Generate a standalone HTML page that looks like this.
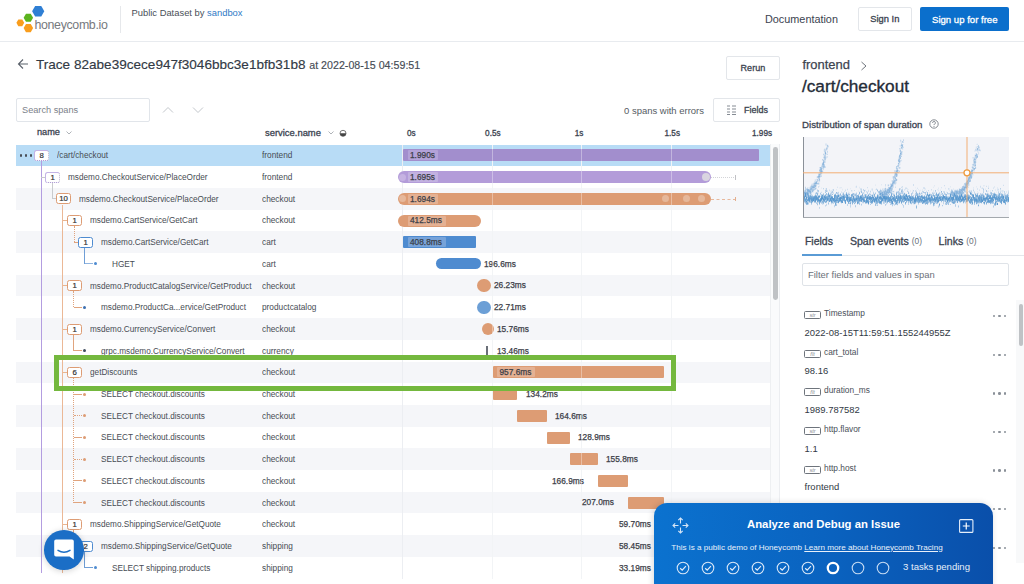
<!DOCTYPE html><html><head><meta charset="utf-8"><style>
*{box-sizing:border-box}
html,body{margin:0;padding:0}
body{width:1024px;height:584px;overflow:hidden;background:#fff;position:relative;font-family:"Liberation Sans",sans-serif;color:#3b4350}
.a{position:absolute;white-space:nowrap}
.t{position:absolute;white-space:nowrap;line-height:1}
.btn{position:absolute;border:1px solid #e3e6ea;border-radius:2px;background:#fff}
.row{position:absolute;left:16.25px;width:754px}
.badge{position:absolute;height:11px;width:14.4px;border:1px solid;border-radius:2.5px;background:#fff;font-size:7.8px;line-height:9.4px;text-align:center;color:#333;-webkit-text-stroke:0.2px #333}
.nm{position:absolute;font-size:9.2px;color:#474c54;line-height:1;transform:scaleX(0.893);transform-origin:0 0}
.sv{position:absolute;left:262px;font-size:9.2px;color:#474c54;line-height:1;transform:scaleX(0.902);transform-origin:0 0}
.bar{position:absolute;height:12px;border-radius:1px}
.lbl{position:absolute;font-size:8.3px;color:#3c4048;line-height:1;-webkit-text-stroke:0.25px #3c4048}
.m{-webkit-text-stroke:0.3px currentColor}
.lbox{position:absolute;height:10px;border-radius:1px}
</style></head><body>
<div class="a" style="left:0;top:41px;width:1024px;height:1px;background:#e8ebef"></div>
<svg class="a" style="left:0;top:0" width="120" height="41" viewBox="0 0 120 41"><polygon points="44.30,11.20 41.25,16.48 35.15,16.48 32.10,11.20 35.15,5.92 41.25,5.92" fill="#2f7fd4"/><polygon points="33.10,17.75 30.73,21.86 25.98,21.86 23.60,17.75 25.97,13.64 30.73,13.64" fill="#5cb31e"/><polygon points="24.20,22.80 22.25,26.18 18.35,26.18 16.40,22.80 18.35,19.42 22.25,19.42" fill="#f99d1c"/><polygon points="33.10,28.05 30.73,32.16 25.98,32.16 23.60,28.05 25.97,23.94 30.73,23.94" fill="#f99d1c"/></svg>
<div class="t" style="left:34.5px;top:19px;font-size:12.4px;color:#76797e;letter-spacing:-0.35px">honeycomb.io</div>
<div class="a" style="left:120px;top:6px;width:1px;height:27px;background:#e6e8eb"></div>
<div class="t" style="left:131.5px;top:8px;font-size:9.4px;color:#4a5059">Public Dataset by <span style="color:#2f7ac6">sandbox</span></div>
<div class="t" style="left:765px;top:14px;font-size:10.85px;color:#3b4350">Documentation</div>
<div class="btn" style="left:858px;top:7px;width:54px;height:24px"></div>
<div class="t m" style="left:870.3px;top:14.6px;font-size:9.35px;color:#3b4350">Sign In</div>
<div class="a" style="left:920px;top:7px;width:89px;height:24px;background:#0b6fcc;border-radius:2px"></div>
<div class="t m" style="left:932px;top:14.6px;font-size:9.58px;color:#fff">Sign up for free</div>
<svg class="a" style="left:17px;top:58px" width="12" height="12" viewBox="0 0 12 12"><path d="M11 6H1.5M6 1.5L1.5 6L6 10.5" stroke="#5b626b" stroke-width="1.1" fill="none"/></svg>
<div class="t" style="left:36px;top:57.6px;font-size:13.57px;color:#323a45;-webkit-text-stroke:0.15px #323a45">Trace 82abe39cece947f3046bbc3e1bfb31b8 <span style="font-size:10.68px;color:#4a5059">at 2022-08-15 04:59:51</span></div>
<div class="btn" style="left:726px;top:56px;width:54px;height:24px"></div>
<div class="t m" style="left:740.6px;top:63.8px;font-size:9.04px;color:#3b4350">Rerun</div>
<div class="btn" style="left:16px;top:98px;width:133.5px;height:24px;border-color:#e1e5ea"></div>
<div class="t" style="left:22px;top:105.5px;font-size:9.2px;color:#7b818a">Search spans</div>
<svg class="a" style="left:162px;top:106px" width="12" height="8" viewBox="0 0 12 8"><path d="M1 6.5L6 1.5L11 6.5" stroke="#c3c7cc" stroke-width="1" fill="none"/></svg>
<svg class="a" style="left:192px;top:106px" width="12" height="8" viewBox="0 0 12 8"><path d="M1 1.5L6 6.5L11 1.5" stroke="#c3c7cc" stroke-width="1" fill="none"/></svg>
<div class="t" style="left:624px;top:105.5px;font-size:9.47px;color:#555b63">0 spans with errors</div>
<div class="btn" style="left:712.5px;top:98px;width:67.5px;height:24px"></div>
<svg class="a" style="left:727px;top:105px" width="9" height="10" viewBox="0 0 9 10"><g fill="#858b93"><rect x="0" y="0.5" width="3" height="1"/><rect x="5" y="0.5" width="4" height="1"/><rect x="0" y="3.5" width="3" height="1"/><rect x="5" y="3.5" width="4" height="1"/><rect x="0" y="6.5" width="3" height="1"/><rect x="5" y="6.5" width="4" height="1"/><rect x="0" y="9" width="3" height="1"/><rect x="5" y="9" width="4" height="1"/></g></svg>
<div class="t m" style="left:744px;top:105.8px;font-size:9.0px;color:#3b4350">Fields</div>
<div class="t m" style="left:37px;top:128px;font-size:9.2px;color:#3b4350">name</div>
<svg class="a" style="left:66px;top:131px" width="6" height="4" viewBox="0 0 6 4"><path d="M0.5 0.5L3 3L5.5 0.5" stroke="#9aa0a6" stroke-width="0.8" fill="none"/></svg>
<div class="t m" style="left:265px;top:127.8px;font-size:9.42px;color:#3b4350">service.name</div>
<svg class="a" style="left:328px;top:131px" width="6" height="4" viewBox="0 0 6 4"><path d="M0.5 0.5L3 3L5.5 0.5" stroke="#9aa0a6" stroke-width="0.8" fill="none"/></svg>
<svg class="a" style="left:339px;top:129px" width="8" height="8" viewBox="0 0 8 8"><circle cx="4" cy="4.3" r="3" fill="none" stroke="#555" stroke-width="0.8"/><path d="M1 4.3A3 3 0 0 0 7 4.3Z" fill="#444"/></svg>
<div class="t m" style="left:407.0px;top:130px;font-size:8.2px;color:#3b4350">0s</div>
<div class="t m" style="left:485.1px;top:130px;font-size:8.2px;color:#3b4350">0.5s</div>
<div class="t m" style="left:574.8px;top:130px;font-size:8.2px;color:#3b4350">1s</div>
<div class="t m" style="left:664.5px;top:130px;font-size:8.2px;color:#3b4350">1.5s</div>
<div class="t m" style="left:752px;top:130px;font-size:8.2px;color:#3b4350">1.99s</div>
<div class="a" style="left:16.25px;top:144.60px;width:754px;height:21.70px;background:#b8dcf6"></div>
<div class="a" style="left:16.25px;top:188.00px;width:754px;height:21.70px;background:#f5f6f9"></div>
<div class="a" style="left:16.25px;top:231.40px;width:754px;height:21.70px;background:#f5f6f9"></div>
<div class="a" style="left:16.25px;top:274.80px;width:754px;height:21.70px;background:#f5f6f9"></div>
<div class="a" style="left:16.25px;top:318.20px;width:754px;height:21.70px;background:#f5f6f9"></div>
<div class="a" style="left:16.25px;top:361.60px;width:754px;height:21.70px;background:#f5f6f9"></div>
<div class="a" style="left:16.25px;top:405.00px;width:754px;height:21.70px;background:#f5f6f9"></div>
<div class="a" style="left:16.25px;top:448.40px;width:754px;height:21.70px;background:#f5f6f9"></div>
<div class="a" style="left:16.25px;top:491.80px;width:754px;height:21.70px;background:#f5f6f9"></div>
<div class="a" style="left:16.25px;top:535.20px;width:754px;height:21.70px;background:#f5f6f9"></div>
<div class="a" style="left:402.00px;top:144.60px;width:1px;height:434.00px;background:#eceef2"></div>
<div class="a" style="left:491.65px;top:144.60px;width:1px;height:434.00px;background:#eceef2"></div>
<div class="a" style="left:581.30px;top:144.60px;width:1px;height:434.00px;background:#eceef2"></div>
<div class="a" style="left:670.95px;top:144.60px;width:1px;height:434.00px;background:#eceef2"></div>
<div class="a" style="left:40.75px;top:161.00px;width:1px;height:411.50px;background:#b39de0"></div>
<div class="a" style="left:41.25px;top:176.65px;width:3.75px;height:1px;background:#c7c9cc"></div>
<div class="a" style="left:51.75px;top:182.50px;width:1px;height:16.35px;background:#c9cbce"></div>
<div class="a" style="left:52.25px;top:198.35px;width:4.00px;height:1px;background:#c9cbce"></div>
<div class="a" style="left:62.40px;top:204.50px;width:1.1px;height:368.00px;background:#ebb896"></div>
<div class="a" style="left:62.90px;top:220.05px;width:4.10px;height:1px;background:#eab58f"></div>
<div class="a" style="left:62.90px;top:285.15px;width:4.10px;height:1px;background:#eab58f"></div>
<div class="a" style="left:62.90px;top:328.55px;width:4.10px;height:1px;background:#eab58f"></div>
<div class="a" style="left:62.90px;top:371.95px;width:4.10px;height:1px;background:#eab58f"></div>
<div class="a" style="left:62.90px;top:523.85px;width:4.10px;height:1px;background:#eab58f"></div>
<div class="a" style="left:73.50px;top:226.25px;width:0;height:16.00px;border-left:1px dotted #e0a47e"></div>
<div class="a" style="left:74.00px;top:241.75px;width:3.50px;height:1px;background:#e0a47e"></div>
<div class="a" style="left:84.00px;top:248.00px;width:1px;height:15.95px;background:#6f9ed6"></div>
<div class="a" style="left:84.50px;top:263.45px;width:8.50px;height:1px;background:#8fb4e0"></div>
<div class="a" style="left:73.00px;top:290.95px;width:0;height:16.40px;border-left:1px dotted #e0a47e"></div>
<div class="a" style="left:73.50px;top:306.85px;width:8.50px;height:1px;background:#e0a47e"></div>
<div class="a" style="left:73.00px;top:334.35px;width:1px;height:16.40px;background:#e0a47e"></div>
<div class="a" style="left:73.50px;top:350.25px;width:8.50px;height:1px;background:#e0a47e"></div>
<div class="a" style="left:73.00px;top:377.75px;width:0;height:124.90px;border-left:1px dotted #e0a47e"></div>
<div class="a" style="left:73.50px;top:393.65px;width:8.50px;height:1px;background:#e0a47e"></div>
<div class="a" style="left:73.50px;top:415.35px;width:8.50px;height:0;border-top:1px dotted #e0a47e"></div>
<div class="a" style="left:73.50px;top:437.05px;width:8.50px;height:1px;background:#e0a47e"></div>
<div class="a" style="left:73.50px;top:458.75px;width:8.50px;height:0;border-top:1px dotted #e0a47e"></div>
<div class="a" style="left:73.50px;top:480.45px;width:8.50px;height:1px;background:#e0a47e"></div>
<div class="a" style="left:73.50px;top:502.15px;width:8.50px;height:1px;background:#e0a47e"></div>
<div class="a" style="left:73.00px;top:529.65px;width:1px;height:16.40px;background:#e0a47e"></div>
<div class="a" style="left:73.50px;top:545.55px;width:4.00px;height:1px;background:#e0a47e"></div>
<div class="a" style="left:84.00px;top:551.35px;width:1px;height:16.40px;background:#6f9ed6"></div>
<div class="a" style="left:84.50px;top:567.25px;width:8.50px;height:1px;background:#6f9ed6"></div>
<div class="badge" style="left:34.40px;top:149.95px;border-color:#c4b4e6;border-right:1px dotted #b9b0cc;border-bottom:1px dotted #a58fd0">8</div>
<div class="nm" style="left:56.90px;top:151.35px">/cart/checkout</div>
<div class="sv" style="top:151.35px">frontend</div>
<div class="badge" style="left:45.40px;top:171.65px;border-color:#c4b4e6;border-right:1px dotted #b9b0cc;border-bottom:1px dotted #a58fd0">1</div>
<div class="nm" style="left:67.90px;top:173.05px">msdemo.CheckoutService/PlaceOrder</div>
<div class="sv" style="top:173.05px">frontend</div>
<div class="badge" style="left:56.40px;top:193.35px;border-color:#dd9c74;border-style:solid">10</div>
<div class="nm" style="left:78.90px;top:194.75px">msdemo.CheckoutService/PlaceOrder</div>
<div class="sv" style="top:194.75px">checkout</div>
<div class="badge" style="left:67.40px;top:215.05px;border-color:#dd9c74;border-style:solid">1</div>
<div class="nm" style="left:89.90px;top:216.45px">msdemo.CartService/GetCart</div>
<div class="sv" style="top:216.45px">checkout</div>
<div class="badge" style="left:78.40px;top:236.75px;border-color:#4e8bd0;border-style:solid">1</div>
<div class="nm" style="left:100.90px;top:238.15px">msdemo.CartService/GetCart</div>
<div class="sv" style="top:238.15px">cart</div>
<div class="a" style="left:94.40px;top:262.45px;width:3px;height:3px;border-radius:50%;background:#4e8bd0"></div>
<div class="nm" style="left:111.90px;top:259.85px">HGET</div>
<div class="sv" style="top:259.85px">cart</div>
<div class="badge" style="left:67.40px;top:280.15px;border-color:#dd9c74;border-style:solid">1</div>
<div class="nm" style="left:89.90px;top:281.55px">msdemo.ProductCatalogService/GetProduct</div>
<div class="sv" style="top:281.55px">checkout</div>
<div class="a" style="left:83.40px;top:305.85px;width:3px;height:3px;border-radius:50%;background:#3d6fb0"></div>
<div class="nm" style="left:100.90px;top:303.25px">msdemo.ProductCa...ervice/GetProduct</div>
<div class="sv" style="top:303.25px">productcatalog</div>
<div class="badge" style="left:67.40px;top:323.55px;border-color:#dd9c74;border-style:solid">1</div>
<div class="nm" style="left:89.90px;top:324.95px">msdemo.CurrencyService/Convert</div>
<div class="sv" style="top:324.95px">checkout</div>
<div class="a" style="left:83.40px;top:349.25px;width:3px;height:3px;border-radius:50%;background:#3e4a5e"></div>
<div class="nm" style="left:100.90px;top:346.65px">grpc.msdemo.CurrencyService/Convert</div>
<div class="sv" style="top:346.65px">currency</div>
<div class="badge" style="left:67.40px;top:366.95px;border-color:#dd9c74;border-style:solid">6</div>
<div class="nm" style="left:89.90px;top:368.35px">getDiscounts</div>
<div class="sv" style="top:368.35px">checkout</div>
<div class="a" style="left:83.40px;top:392.65px;width:3px;height:3px;border-radius:50%;background:#dd9c74"></div>
<div class="nm" style="left:100.90px;top:390.05px">SELECT checkout.discounts</div>
<div class="sv" style="top:390.05px">checkout</div>
<div class="a" style="left:83.40px;top:414.35px;width:3px;height:3px;border-radius:50%;background:#dd9c74"></div>
<div class="nm" style="left:100.90px;top:411.75px">SELECT checkout.discounts</div>
<div class="sv" style="top:411.75px">checkout</div>
<div class="a" style="left:83.40px;top:436.05px;width:3px;height:3px;border-radius:50%;background:#dd9c74"></div>
<div class="nm" style="left:100.90px;top:433.45px">SELECT checkout.discounts</div>
<div class="sv" style="top:433.45px">checkout</div>
<div class="a" style="left:83.40px;top:457.75px;width:3px;height:3px;border-radius:50%;background:#dd9c74"></div>
<div class="nm" style="left:100.90px;top:455.15px">SELECT checkout.discounts</div>
<div class="sv" style="top:455.15px">checkout</div>
<div class="a" style="left:83.40px;top:479.45px;width:3px;height:3px;border-radius:50%;background:#dd9c74"></div>
<div class="nm" style="left:100.90px;top:476.85px">SELECT checkout.discounts</div>
<div class="sv" style="top:476.85px">checkout</div>
<div class="a" style="left:83.40px;top:501.15px;width:3px;height:3px;border-radius:50%;background:#dd9c74"></div>
<div class="nm" style="left:100.90px;top:498.55px">SELECT checkout.discounts</div>
<div class="sv" style="top:498.55px">checkout</div>
<div class="badge" style="left:67.40px;top:518.85px;border-color:#dd9c74;border-style:solid">1</div>
<div class="nm" style="left:89.90px;top:520.25px">msdemo.ShippingService/GetQuote</div>
<div class="sv" style="top:520.25px">checkout</div>
<div class="badge" style="left:78.40px;top:540.55px;border-color:#4e8bd0;border-style:solid">2</div>
<div class="nm" style="left:100.90px;top:541.95px">msdemo.ShippingService/GetQuote</div>
<div class="sv" style="top:541.95px">shipping</div>
<div class="a" style="left:94.40px;top:566.25px;width:3px;height:3px;border-radius:50%;background:#4e8bd0"></div>
<div class="nm" style="left:111.90px;top:563.65px">SELECT shipping.products</div>
<div class="sv" style="top:563.65px">shipping</div>
<div class="a" style="left:19.60px;top:154.35px;width:2.2px;height:2.2px;border-radius:50%;background:#4a4f57"></div>
<div class="a" style="left:24.80px;top:154.35px;width:2.2px;height:2.2px;border-radius:50%;background:#4a4f57"></div>
<div class="a" style="left:30.00px;top:154.35px;width:2.2px;height:2.2px;border-radius:50%;background:#4a4f57"></div>
<div class="bar" style="left:402.50px;top:149.45px;width:356.25px;height:12px;background:#a28ecd;border-radius:1px"></div>
<div class="lbox" style="left:407.50px;top:150.45px;width:30.00px;background:#b3a2d8"></div>
<div class="lbl" style="left:410.00px;top:151.25px">1.990s</div>
<div class="bar" style="left:398.00px;top:171.15px;width:313.00px;height:12px;background:#b39cd9;border-radius:6.0px"></div>
<div class="lbox" style="left:407.50px;top:172.15px;width:30.00px;background:#c2b1e0"></div>
<div class="lbl" style="left:410.00px;top:172.95px">1.695s</div>
<div class="a" style="left:711px;top:176.85px;width:24.6px;height:0;border-top:1px dotted #d3d4d8"></div>
<div class="a" style="left:735px;top:175.15px;width:0.8px;height:4.5px;background:#c0c1c5"></div>
<div class="a" style="left:701.5px;top:173.15px;width:8px;height:8px;border-radius:50%;background:#d9d4e0"></div>
<div class="bar" style="left:398.00px;top:192.85px;width:313.00px;height:12px;background:#dd9c74;border-radius:6.0px"></div>
<div class="lbox" style="left:407.50px;top:193.85px;width:30.00px;background:#e4b193"></div>
<div class="lbl" style="left:410.00px;top:194.65px">1.694s</div>
<div class="a" style="left:711px;top:198.55px;width:24.6px;height:0;border-top:1px dashed #e7b89c"></div>
<div class="a" style="left:735px;top:196.85px;width:0.8px;height:4.5px;background:#e3ae8e"></div>
<div class="a" style="left:662.00px;top:195.35px;width:7px;height:7px;border-radius:50%;background:#e6b89b"></div>
<div class="a" style="left:683.00px;top:195.35px;width:7px;height:7px;border-radius:50%;background:#e6b89b"></div>
<div class="a" style="left:698.00px;top:195.35px;width:7px;height:7px;border-radius:50%;background:#e6b89b"></div>
<div class="a" style="left:399px;top:195.35px;width:7px;height:7px;border-radius:50%;background:#e6b89b"></div>
<div class="a" style="left:399px;top:173.65px;width:7px;height:7px;border-radius:50%;background:#c6b3e2"></div>
<div class="bar" style="left:398.00px;top:214.55px;width:83.00px;height:12px;background:#dd9c74;border-radius:6.0px"></div>
<div class="lbox" style="left:407.50px;top:215.55px;width:38.00px;background:#e4b193"></div>
<div class="lbl" style="left:410.00px;top:216.35px">412.5ms</div>
<div class="bar" style="left:402.50px;top:236.25px;width:73.50px;height:12px;background:#4e8bd0;border-radius:1px"></div>
<div class="lbox" style="left:407.50px;top:237.25px;width:38.00px;background:#77a3d9"></div>
<div class="lbl" style="left:410.00px;top:238.05px">408.8ms</div>
<div class="bar" style="left:436.00px;top:258.45px;width:45.00px;height:11px;background:#4e8bd0;border-radius:5.5px"></div>
<div class="lbl" style="left:484.00px;top:259.75px">196.6ms</div>
<div class="bar" style="left:476.50px;top:279.15px;width:14.50px;height:13px;background:#dd9c74;border-radius:6.5px"></div>
<div class="lbl" style="left:494.00px;top:281.45px">26.23ms</div>
<div class="bar" style="left:477.00px;top:300.85px;width:14.00px;height:13px;background:#6c9fd6;border-radius:6.5px"></div>
<div class="lbl" style="left:494.00px;top:303.15px">22.71ms</div>
<div class="bar" style="left:482.00px;top:323.05px;width:12.00px;height:12px;background:#dd9c74;border-radius:6.0px"></div>
<div class="lbl" style="left:497.00px;top:324.85px">15.76ms</div>
<div class="a" style="left:486px;top:345.75px;width:1.6px;height:10px;background:#6a6f78"></div>
<div class="lbl" style="left:497.00px;top:346.55px">13.46ms</div>
<div class="bar" style="left:493.30px;top:366.45px;width:171.10px;height:12px;background:#dd9c74;border-radius:1px"></div>
<div class="lbox" style="left:497.00px;top:367.45px;width:38.00px;background:#e4b193"></div>
<div class="lbl" style="left:499.50px;top:368.25px">957.6ms</div>
<div class="bar" style="left:493.30px;top:388.15px;width:23.80px;height:12px;background:#dd9c74;border-radius:1px"></div>
<div class="lbl" style="left:526.00px;top:389.95px">134.2ms</div>
<div class="bar" style="left:517.10px;top:409.85px;width:29.70px;height:12px;background:#dd9c74;border-radius:1px"></div>
<div class="lbl" style="left:555.00px;top:411.65px">164.6ms</div>
<div class="bar" style="left:546.80px;top:431.55px;width:23.30px;height:12px;background:#dd9c74;border-radius:1px"></div>
<div class="lbl" style="left:578.00px;top:433.35px">128.9ms</div>
<div class="bar" style="left:570.10px;top:453.25px;width:27.70px;height:12px;background:#dd9c74;border-radius:1px"></div>
<div class="lbl" style="left:606.00px;top:455.05px">155.8ms</div>
<div class="bar" style="left:597.80px;top:474.95px;width:29.90px;height:12px;background:#dd9c74;border-radius:1px"></div>
<div class="lbl" style="left:552.00px;top:476.75px">166.9ms</div>
<div class="bar" style="left:627.70px;top:496.65px;width:36.70px;height:12px;background:#dd9c74;border-radius:1px"></div>
<div class="lbl" style="left:582.00px;top:498.45px">207.0ms</div>
<div class="bar" style="left:663.00px;top:518.35px;width:37.00px;height:12px;background:#dd9c74;border-radius:1px"></div>
<div class="lbl" style="left:619.00px;top:520.15px">59.70ms</div>
<div class="bar" style="left:663.00px;top:540.05px;width:37.00px;height:12px;background:#4e8bd0;border-radius:1px"></div>
<div class="lbl" style="left:619.00px;top:541.85px">58.45ms</div>
<div class="bar" style="left:663.00px;top:561.75px;width:27.00px;height:12px;background:#4e8bd0;border-radius:1px"></div>
<div class="lbl" style="left:619.00px;top:563.55px">33.19ms</div>
<div class="a" style="left:491.65px;top:144.60px;width:0;height:434.00px;background:rgba(255,255,255,0.35);width:1px"></div>
<div class="a" style="left:581.30px;top:144.60px;width:0;height:434.00px;background:rgba(255,255,255,0.35);width:1px"></div>
<div class="a" style="left:670.95px;top:144.60px;width:0;height:434.00px;background:rgba(255,255,255,0.35);width:1px"></div>
<div class="a" style="left:770.2px;top:144.4px;width:10px;height:440px;background:#fafbfc;border-left:1px solid #eef0f2;border-right:1px solid #eceef1"></div>
<div class="a" style="left:772.9px;top:147px;width:4.8px;height:153px;background:#bfc2c5;border-radius:2.4px"></div>
<div class="t m" style="left:802.4px;top:58.8px;font-size:12.95px;color:#3d4450;-webkit-text-stroke:0.25px #3d4450">frontend</div>
<svg class="a" style="left:860px;top:61px" width="8" height="10" viewBox="0 0 8 10"><path d="M1.5 1L6 5L1.5 9" stroke="#6f757d" stroke-width="1" fill="none"/></svg>
<div class="t" style="left:802px;top:77.6px;font-size:17.2px;color:#232b37;-webkit-text-stroke:0.35px #232b37">/cart/checkout</div>
<div class="t m" style="left:802px;top:120px;font-size:9.69px;color:#3b4350">Distribution of span duration</div>
<svg class="a" style="left:929px;top:118.5px" width="10" height="10" viewBox="0 0 10 10"><circle cx="5" cy="5" r="4.2" fill="none" stroke="#6a7079" stroke-width="0.8"/><path d="M3.6 3.9A1.4 1.4 0 1 1 5.4 5.2C5 5.4 5 5.7 5 6.1" stroke="#6a7079" stroke-width="0.8" fill="none"/><circle cx="5" cy="7.4" r="0.5" fill="#6a7079"/></svg>
<svg class="a" style="left:802.6px;top:137px" width="206.3" height="81" viewBox="0 0 206.3 81"><rect x="0" y="0" width="206.3" height="81" fill="#f3f4f8"/><path fill="#4f92cc" fill-opacity="0.1" d="M0.0 53.0h1.0v1.2468770512708776h-1.0zM1.0 58.7h1.0v1.5969826465696095h-1.0zM2.0 56.0h1.0v1.3819552764096281h-1.0zM3.0 57.1h1.0v1.3689817558781108h-1.0zM5.0 51.9h1.0v1.3557926482086193h-1.0zM6.0 58.3h1.0v0.9569159108265486h-1.0zM7.0 48.7h1.0v1.4093022311464054h-1.0zM8.0 59.4h1.0v1.3285497221632425h-1.0zM10.0 54.4h1.0v1.2112455505009694h-1.0zM10.0 52.3h1.0v0.8652662441461235h-1.0zM11.0 60.4h1.0v0.9726381695226833h-1.0zM12.0 57.5h1.0v1.4702326957951217h-1.0zM12.0 51.3h1.0v1.3871531778317054h-1.0zM13.0 45.7h1.0v0.9194228860037192h-1.0zM15.0 55.9h1.0v1.3132971634054176h-1.0zM16.0 48.5h1.0v1.4573423581636584h-1.0zM16.0 57.7h1.0v0.9093132077391839h-1.0zM17.0 55.0h1.0v1.9666893462742903h-1.0zM18.0 50.5h1.0v1.3703650640810523h-1.0zM19.0 58.8h1.0v1.5321179734526265h-1.0zM19.0 58.1h1.0v1.3820632852646328h-1.0zM22.0 51.2h1.0v1.6975724536648205h-1.0zM23.0 58.5h1.0v1.4998325186445856h-1.0zM23.0 63.7h1.0v1.2466843561470717h-1.0zM25.0 58.2h1.0v1.7657763373149464h-1.0zM25.0 57.6h1.0v1.161938349544856h-1.0zM27.0 53.5h1.0v1.753971044705315h-1.0zM31.0 58.7h1.0v1.8100674755324007h-1.0zM32.0 56.4h1.0v1.6841423158051585h-1.0zM32.0 58.7h1.0v1.0391746325870896h-1.0zM33.0 51.9h1.0v1.4454566529342303h-1.0zM33.0 59.5h1.0v1.6572680908045707h-1.0zM34.0 57.4h1.0v1.115834505212851h-1.0zM35.0 54.5h1.0v1.9939104029697767h-1.0zM35.0 63.7h1.0v1.9548628538063155h-1.0zM36.0 50.5h1.0v1.1117696997071231h-1.0zM36.0 57.1h1.0v1.2801583443267686h-1.0zM38.0 49.9h1.0v1.225695402475537h-1.0zM39.0 51.8h1.0v1.7500092196570787h-1.0zM42.0 56.5h1.0v0.8410889862639643h-1.0zM43.0 56.7h1.0v1.6632212421505725h-1.0zM44.0 58.4h1.0v0.9738878336520965h-1.0zM45.0 54.5h1.0v1.8687349695015414h-1.0zM46.0 58.5h1.0v1.2829895506468882h-1.0zM46.0 55.2h1.0v1.3919223342005052h-1.0zM47.0 58.3h1.0v1.906585634826863h-1.0zM47.0 51.2h1.0v1.1086324422244185h-1.0zM48.0 52.9h1.0v1.0861489546974363h-1.0zM49.0 53.2h1.0v1.3019156254391224h-1.0zM50.0 56.5h1.0v1.8943776524866272h-1.0zM52.0 49.6h1.0v0.923437488234339h-1.0zM53.0 57.7h1.0v0.8642638086516835h-1.0zM55.0 53.6h1.0v1.1239134784175753h-1.0zM55.0 57.8h1.0v1.15460510900832h-1.0zM56.0 55.2h1.0v1.2769921061045744h-1.0zM56.0 49.7h1.0v1.8473135318285188h-1.0zM58.0 52.1h1.0v1.7793952510798525h-1.0zM60.0 59.5h1.0v1.9754497583184658h-1.0zM60.0 55.2h1.0v1.6621589087082764h-1.0zM61.0 55.1h1.0v1.035555505183348h-1.0zM62.0 58.2h1.0v1.731365446904324h-1.0zM63.0 54.8h1.0v0.8479982430505424h-1.0zM64.0 57.9h1.0v1.1373988317906076h-1.0zM67.0 60.9h1.0v1.0872556453143545h-1.0zM68.0 51.4h1.0v0.8752612689616687h-1.0zM68.0 51.7h1.0v1.8847992365785096h-1.0zM70.0 56.3h1.0v1.475640086607115h-1.0zM70.0 59.0h1.0v0.8690654462965414h-1.0zM72.0 47.4h1.0v1.2720993032682748h-1.0zM72.0 52.2h1.0v1.1735083689747854h-1.0zM73.0 51.3h1.0v1.7516505103884514h-1.0zM74.0 57.0h1.0v1.9097338325980189h-1.0zM75.0 59.0h1.0v1.9074653449139618h-1.0zM78.0 52.7h1.0v1.977613761152535h-1.0zM78.0 46.9h1.0v1.723041921263422h-1.0zM79.0 55.8h1.0v1.8583415836304453h-1.0zM80.0 54.4h1.0v1.0357359484620507h-1.0zM80.0 51.3h1.0v1.235131838326525h-1.0zM82.0 49.2h1.0v1.4287180471853147h-1.0zM83.0 59.5h1.0v0.8692815982454247h-1.0zM84.0 47.5h1.0v1.7084437798705756h-1.0zM85.0 56.0h1.0v1.2027065886508654h-1.0zM86.0 54.2h1.0v1.6518493287304865h-1.0zM86.0 50.8h1.0v1.0403192531147352h-1.0zM87.0 59.8h1.0v1.0482891158720726h-1.0zM87.0 61.2h1.0v1.3587958344391156h-1.0zM88.0 58.4h1.0v1.0377872746984917h-1.0zM88.0 54.5h1.0v1.6146881973866258h-1.0zM90.0 59.0h1.0v1.1245629418133487h-1.0zM90.0 53.8h1.0v1.4820489037227715h-1.0zM91.0 55.6h1.0v1.2047542898322803h-1.0zM91.0 53.8h1.0v0.8494671244761328h-1.0zM94.0 59.0h1.0v1.9862609261863307h-1.0zM95.0 58.4h1.0v1.2364670636497352h-1.0zM95.0 52.7h1.0v0.8683754432965862h-1.0zM96.0 56.8h1.0v1.7689281303649587h-1.0zM99.0 50.3h1.0v1.6112111172287893h-1.0zM101.0 59.9h1.0v1.6634149821022994h-1.0zM103.0 56.3h1.0v1.7140290087541152h-1.0zM104.0 54.0h1.0v1.1155460391162928h-1.0zM104.0 51.1h1.0v1.9477702209694618h-1.0zM105.0 51.9h1.0v0.9128371544585376h-1.0zM105.0 54.1h1.0v1.819675828945862h-1.0zM106.0 55.5h1.0v1.2587505200032936h-1.0zM107.0 58.8h1.0v1.731643879122442h-1.0zM107.0 53.2h1.0v1.5773527223977921h-1.0zM109.0 52.7h1.0v0.8777589049567429h-1.0zM109.0 53.9h1.0v1.1219920741249578h-1.0zM110.0 55.7h1.0v0.9124804145517349h-1.0zM111.0 57.3h1.0v1.0159673348921832h-1.0zM112.0 50.4h1.0v0.8300312073152072h-1.0zM113.0 52.4h1.0v1.2992313666565642h-1.0zM113.0 53.9h1.0v1.9981722401577768h-1.0zM114.0 56.4h1.0v1.8785243766477473h-1.0zM115.0 52.0h1.0v1.2378885578593368h-1.0zM116.0 53.3h1.0v1.8195840507675378h-1.0zM117.0 52.8h1.0v1.0260721469388232h-1.0zM118.0 57.9h1.0v1.5376638340264834h-1.0zM119.0 52.3h1.0v1.6022376881261673h-1.0zM120.0 54.0h1.0v1.0029356143443695h-1.0zM121.0 52.9h1.0v0.8676582380086737h-1.0zM122.0 59.6h1.0v1.6050478233749574h-1.0zM122.0 51.2h1.0v1.8174516378615158h-1.0zM123.0 57.9h1.0v1.4879217736232664h-1.0zM124.0 62.1h1.0v0.9892891798668357h-1.0zM125.0 53.4h1.0v0.8649917938621994h-1.0zM126.0 55.0h1.0v1.9958247411150223h-1.0zM128.0 61.2h1.0v0.8806333753126216h-1.0zM129.0 56.2h1.0v0.9490766230733296h-1.0zM129.0 55.3h1.0v1.1933743361379543h-1.0zM130.0 53.1h1.0v1.8312969748507557h-1.0zM130.0 49.7h1.0v0.9879490437269937h-1.0zM132.0 56.9h1.0v1.9499611388320197h-1.0zM132.0 55.0h1.0v1.6154568191930645h-1.0zM133.0 62.7h1.0v1.9652738421577918h-1.0zM134.0 61.2h1.0v1.9779853579681408h-1.0zM134.0 52.1h1.0v1.1963096623274994h-1.0zM135.0 52.4h1.0v1.9120053777162072h-1.0zM135.0 50.4h1.0v1.61385603470164h-1.0zM136.0 54.7h1.0v1.9442627760224096h-1.0zM136.0 59.9h1.0v1.5841244076359469h-1.0zM137.0 55.2h1.0v1.6040074317983088h-1.0zM137.0 52.5h1.0v1.3431510000329576h-1.0zM138.0 54.2h1.0v1.001713099142229h-1.0zM139.0 55.9h1.0v1.3247959654961936h-1.0zM139.0 55.9h1.0v1.636960812075486h-1.0zM140.0 59.9h1.0v1.9374074504318068h-1.0zM142.0 50.8h1.0v1.1462873138895162h-1.0zM142.0 51.3h1.0v1.0200415943216277h-1.0zM143.0 54.4h1.0v1.826402102550267h-1.0zM146.0 52.5h1.0v1.6425645763848666h-1.0zM146.0 51.2h1.0v1.148493870055524h-1.0zM147.0 48.9h1.0v1.6261758487276998h-1.0zM147.0 57.4h1.0v1.83491639360016h-1.0zM148.0 58.0h1.0v1.7954256760779623h-1.0zM148.0 53.9h1.0v1.7974824504001936h-1.0zM149.0 58.2h1.0v1.2522563152903405h-1.0zM150.0 56.3h1.0v0.9935020370040359h-1.0zM150.0 51.2h1.0v1.8041806915324226h-1.0zM152.0 53.6h1.0v1.9943093230493456h-1.0zM152.0 57.9h1.0v1.856753046192897h-1.0zM154.0 58.7h1.0v0.947360505707722h-1.0zM155.0 56.1h1.0v0.8768122843397529h-1.0zM156.0 61.4h1.0v0.961894309498502h-1.0zM156.0 56.6h1.0v0.8954317652346158h-1.0zM157.0 56.4h1.0v1.6196250296478572h-1.0zM157.0 55.3h1.0v1.657966401205623h-1.0zM159.0 50.8h1.0v1.4082094469855755h-1.0zM160.0 53.9h1.0v1.3430586519618215h-1.0zM160.0 59.3h1.0v1.4050226416081042h-1.0zM161.0 50.7h1.0v0.9244036658881452h-1.0zM161.0 55.0h1.0v1.2852672725194174h-1.0zM162.0 52.2h1.0v1.6459404196397962h-1.0zM162.0 58.3h1.0v1.6414356833069235h-1.0zM163.0 56.2h1.0v1.450143948502134h-1.0zM164.0 57.0h1.0v1.636679929676728h-1.0zM167.0 53.1h1.0v1.1702077911989348h-1.0zM169.0 55.3h1.0v1.161819593600747h-1.0zM170.0 49.9h1.0v1.7619979894108941h-1.0zM170.0 54.1h1.0v1.0205773567746268h-1.0zM171.0 61.6h1.0v1.1707500959806965h-1.0zM172.0 58.9h1.0v1.2481615751857567h-1.0zM173.0 55.9h1.0v1.5209393629245054h-1.0zM173.0 49.2h1.0v1.204419710860144h-1.0zM174.0 54.3h1.0v1.1302511326914817h-1.0zM175.0 55.3h1.0v1.5769766333456479h-1.0zM175.0 58.9h1.0v1.8680457042238252h-1.0zM176.0 58.5h1.0v1.9052379818324487h-1.0zM177.0 57.1h1.0v1.3331968431543224h-1.0zM178.0 50.8h1.0v1.1929529625659516h-1.0zM180.0 48.1h1.0v1.487184954087555h-1.0zM181.0 48.3h1.0v1.0155497960209505h-1.0zM182.0 51.6h1.0v1.7601962875304533h-1.0zM183.0 56.6h1.0v1.6507991002194269h-1.0zM184.0 53.9h1.0v1.9168125322894194h-1.0zM184.0 55.9h1.0v1.7048971841833216h-1.0zM185.0 53.5h1.0v1.247483279408912h-1.0zM185.0 48.6h1.0v1.5783498986966622h-1.0zM187.0 55.8h1.0v1.7488727179082544h-1.0zM187.0 53.2h1.0v1.5073538408965188h-1.0zM188.0 59.9h1.0v1.218058262152112h-1.0zM189.0 57.6h1.0v1.5109141963269033h-1.0zM189.0 57.7h1.0v1.6574777424799445h-1.0zM190.0 58.6h1.0v1.8234489482191831h-1.0zM191.0 49.5h1.0v1.6035683942016918h-1.0zM191.0 49.1h1.0v1.2838334119736494h-1.0zM192.0 52.2h1.0v1.505446997600126h-1.0zM193.0 61.0h1.0v1.9125042554824931h-1.0zM193.0 54.5h1.0v0.8985074893493025h-1.0zM194.0 50.2h1.0v1.7910042752525457h-1.0zM196.0 59.3h1.0v0.8912065674640535h-1.0zM197.0 51.4h1.0v0.8319555134240003h-1.0zM197.0 52.7h1.0v1.4894835582313362h-1.0zM198.0 53.3h1.0v1.6352933967748733h-1.0zM199.0 58.1h1.0v1.5008471570216086h-1.0zM200.0 53.3h1.0v1.3906470639782318h-1.0zM201.0 61.0h1.0v1.8003211521861162h-1.0zM202.0 59.4h1.0v1.78389700814339h-1.0zM203.0 57.7h1.0v1.1170511443265065h-1.0zM204.0 59.2h1.0v0.8150591794815354h-1.0zM206.0 54.9h1.0v0.9493292481775034h-1.0zM206.0 53.0h1.0v1.6479670748695732h-1.0z"/><path fill="#4f92cc" fill-opacity="0.2" d="M0.0 50.5h1.0v1.39569739413619h-1.0zM1.0 53.6h1.0v1.6773912015690686h-1.0zM2.0 55.0h1.0v1.3027358013503936h-1.0zM3.0 56.6h1.0v1.2168674552644418h-1.0zM4.0 51.4h1.0v1.767294301742801h-1.0zM4.0 54.8h1.0v1.4211664690922068h-1.0zM5.0 55.8h1.0v1.7609882826760292h-1.0zM6.0 53.9h1.0v1.5949697963894793h-1.0zM7.0 54.7h1.0v1.639061458616343h-1.0zM8.0 54.9h1.0v1.1822306820052328h-1.0zM9.0 61.4h1.0v1.34452822516751h-1.0zM9.0 57.8h1.0v1.993167068538643h-1.0zM11.0 58.5h1.0v1.2727743687256647h-1.0zM13.0 55.8h1.0v1.6108491881753295h-1.0zM14.0 55.1h1.0v0.8043085660036764h-1.0zM14.0 53.5h1.0v1.67261932320035h-1.0zM15.0 48.9h1.0v1.7743547209649266h-1.0zM17.0 58.5h1.0v1.9121927284731928h-1.0zM18.0 54.8h1.0v1.1343243803883192h-1.0zM20.0 56.8h1.0v1.2561556281742086h-1.0zM20.0 56.6h1.0v0.8591088030212207h-1.0zM21.0 59.3h1.0v1.3588926877431027h-1.0zM21.0 58.5h1.0v1.7477586291823997h-1.0zM22.0 55.1h1.0v0.9595173932627497h-1.0zM24.0 53.8h1.0v1.2917467056653387h-1.0zM24.0 53.2h1.0v0.8616328207763602h-1.0zM26.0 52.6h1.0v1.590611249513477h-1.0zM26.0 52.8h1.0v0.8042097147008049h-1.0zM27.0 61.2h1.0v0.8786194518181928h-1.0zM28.0 53.4h1.0v1.1024379133548254h-1.0zM28.0 54.7h1.0v1.2508877395734035h-1.0zM29.0 52.5h1.0v0.9604720521347317h-1.0zM29.0 56.5h1.0v1.548715470687792h-1.0zM30.0 55.3h1.0v1.2958139198975407h-1.0zM30.0 55.8h1.0v1.1712589895466017h-1.0zM31.0 61.6h1.0v1.9336374744104114h-1.0zM34.0 49.7h1.0v1.0802906895630366h-1.0zM37.0 50.4h1.0v0.9468735521653874h-1.0zM37.0 58.7h1.0v1.565082571416661h-1.0zM38.0 54.6h1.0v1.1042589901348148h-1.0zM39.0 55.5h1.0v0.983206285910674h-1.0zM40.0 55.9h1.0v1.249949453107841h-1.0zM40.0 60.3h1.0v1.0166227695677363h-1.0zM41.0 60.0h1.0v1.7503413628154536h-1.0zM41.0 54.2h1.0v1.0307705073096811h-1.0zM42.0 52.4h1.0v1.7438480583668878h-1.0zM43.0 55.4h1.0v1.3667981238762474h-1.0zM44.0 51.7h1.0v1.5556480866835884h-1.0zM45.0 56.9h1.0v1.1286184189501731h-1.0zM48.0 53.3h1.0v1.2680577319038828h-1.0zM49.0 55.7h1.0v0.9868237527497414h-1.0zM50.0 56.5h1.0v0.8023076366445268h-1.0zM51.0 58.4h1.0v1.8464164048327407h-1.0zM51.0 52.9h1.0v1.0980079786722556h-1.0zM52.0 56.0h1.0v0.8212248191594945h-1.0zM53.0 48.8h1.0v1.9494331867709513h-1.0zM54.0 57.9h1.0v0.8724071317400559h-1.0zM54.0 59.0h1.0v1.91831123365528h-1.0zM57.0 51.2h1.0v1.90437419298093h-1.0zM57.0 53.4h1.0v1.446199526965548h-1.0zM58.0 51.3h1.0v1.6278646201791325h-1.0zM59.0 56.4h1.0v1.9374035315736693h-1.0zM59.0 55.3h1.0v1.7877689999418043h-1.0zM61.0 56.8h1.0v1.4659709195194424h-1.0zM62.0 52.8h1.0v0.9307535773642135h-1.0zM63.0 54.0h1.0v1.316843609792778h-1.0zM64.0 50.0h1.0v1.331068568797785h-1.0zM65.0 53.8h1.0v1.0900539041091188h-1.0zM65.0 52.7h1.0v0.9597225511298493h-1.0zM66.0 59.3h1.0v1.9905535547121593h-1.0zM66.0 59.8h1.0v1.9762600607186374h-1.0zM67.0 60.1h1.0v1.8053848311131548h-1.0zM69.0 53.3h1.0v0.9022478921435897h-1.0zM69.0 51.6h1.0v1.4658526800343528h-1.0zM71.0 62.5h1.0v1.09093970586004h-1.0zM71.0 56.6h1.0v1.0317775728755694h-1.0zM73.0 51.7h1.0v1.2354925286045875h-1.0zM74.0 53.0h1.0v1.1025411849616906h-1.0zM75.0 56.6h1.0v1.8505305410773185h-1.0zM76.0 57.0h1.0v1.5888312248712135h-1.0zM76.0 55.6h1.0v1.776144907278672h-1.0zM77.0 51.8h1.0v1.6515593341820134h-1.0zM77.0 54.4h1.0v1.9787973957643046h-1.0zM79.0 51.6h1.0v1.2970418721992352h-1.0zM81.0 51.3h1.0v1.6218211678822951h-1.0zM81.0 57.5h1.0v1.4587378978849617h-1.0zM82.0 56.0h1.0v1.0068226708691461h-1.0zM83.0 54.9h1.0v0.8009694895495472h-1.0zM84.0 56.2h1.0v1.271911676458851h-1.0zM85.0 52.9h1.0v1.4604527326614993h-1.0zM89.0 54.4h1.0v1.1997622640451477h-1.0zM89.0 54.1h1.0v1.3772490851348316h-1.0zM92.0 59.7h1.0v0.9108637510324651h-1.0zM92.0 49.5h1.0v1.3910717726294852h-1.0zM93.0 57.4h1.0v1.6063210234307395h-1.0zM93.0 54.2h1.0v1.595935499026174h-1.0zM94.0 57.8h1.0v1.1702820256323743h-1.0zM96.0 52.4h1.0v1.7910501514225377h-1.0zM97.0 55.2h1.0v1.4704938874968825h-1.0zM97.0 51.1h1.0v1.7031581229847292h-1.0zM98.0 49.8h1.0v1.2710839554650604h-1.0zM98.0 53.7h1.0v1.8459521366067464h-1.0zM99.0 49.1h1.0v1.1711024292752745h-1.0zM100.0 55.7h1.0v1.9454239454568336h-1.0zM100.0 54.3h1.0v1.2801672642556412h-1.0zM101.0 52.3h1.0v1.224688120534788h-1.0zM102.0 51.5h1.0v1.0511469365997563h-1.0zM102.0 50.4h1.0v1.031702354939713h-1.0zM103.0 50.5h1.0v1.5636542828562772h-1.0zM106.0 62.6h1.0v1.1031756173463492h-1.0zM108.0 56.5h1.0v1.5780800190825128h-1.0zM108.0 58.4h1.0v1.8798754909642534h-1.0zM110.0 47.1h1.0v1.8918158015377515h-1.0zM111.0 60.0h1.0v1.3699701888702551h-1.0zM112.0 63.5h1.0v1.0797209894581792h-1.0zM114.0 50.7h1.0v1.1040178647963557h-1.0zM115.0 57.8h1.0v1.567757557764141h-1.0zM116.0 55.2h1.0v1.4418214715623028h-1.0zM117.0 58.4h1.0v1.701526088898671h-1.0zM118.0 55.8h1.0v1.5950197061768216h-1.0zM119.0 55.3h1.0v1.3395517824730923h-1.0zM120.0 50.2h1.0v1.6494855314913301h-1.0zM121.0 50.3h1.0v1.8356702378247522h-1.0zM123.0 53.7h1.0v1.8066626487212551h-1.0zM124.0 57.1h1.0v1.1621165543045984h-1.0zM125.0 53.0h1.0v1.0597204671492353h-1.0zM126.0 56.9h1.0v1.5418525079129433h-1.0zM127.0 60.9h1.0v1.3721618207198885h-1.0zM127.0 56.6h1.0v1.942483840279864h-1.0zM128.0 51.9h1.0v1.5316602582557342h-1.0zM131.0 48.4h1.0v0.8557149542786187h-1.0zM131.0 55.3h1.0v1.713261619948884h-1.0zM133.0 55.0h1.0v1.065387059698167h-1.0zM138.0 50.3h1.0v0.9097499332442711h-1.0zM140.0 54.0h1.0v1.8160795144041788h-1.0zM141.0 54.1h1.0v1.6511012045120728h-1.0zM141.0 48.1h1.0v1.231353900607205h-1.0zM143.0 57.3h1.0v1.080008356016485h-1.0zM144.0 56.1h1.0v1.4580206777713833h-1.0zM144.0 59.7h1.0v1.9747083895801383h-1.0zM145.0 50.9h1.0v1.8120300690626192h-1.0zM145.0 51.2h1.0v1.5877988962910101h-1.0zM149.0 54.7h1.0v0.9454294396853394h-1.0zM151.0 55.0h1.0v1.353804888336446h-1.0zM151.0 58.0h1.0v1.0911785345240483h-1.0zM153.0 57.9h1.0v1.735101217544479h-1.0zM153.0 54.9h1.0v1.6457675324054106h-1.0zM154.0 54.2h1.0v1.3332121789168998h-1.0zM155.0 54.6h1.0v0.9342414149681081h-1.0zM158.0 54.2h1.0v1.83383199838985h-1.0zM158.0 55.4h1.0v1.9344858040966815h-1.0zM159.0 56.7h1.0v1.1913466249174618h-1.0zM163.0 54.4h1.0v1.255692051057176h-1.0zM164.0 57.6h1.0v1.5375836508829162h-1.0zM165.0 49.7h1.0v0.9526640493570354h-1.0zM165.0 53.9h1.0v0.8804095175231254h-1.0zM166.0 53.0h1.0v1.5920878930927334h-1.0zM166.0 53.5h1.0v1.1893881867468752h-1.0zM167.0 56.6h1.0v1.4998668469424774h-1.0zM168.0 52.9h1.0v1.2564222289873528h-1.0zM168.0 53.8h1.0v1.1896450101226643h-1.0zM169.0 58.8h1.0v1.8422971823601435h-1.0zM171.0 56.0h1.0v1.4154544135900289h-1.0zM172.0 56.7h1.0v1.310269509414117h-1.0zM174.0 51.2h1.0v1.4338428799014753h-1.0zM176.0 52.4h1.0v1.3926885626692376h-1.0zM177.0 48.8h1.0v1.849839047760298h-1.0zM178.0 57.8h1.0v1.5479491845535374h-1.0zM179.0 57.3h1.0v1.0115672735376828h-1.0zM179.0 50.5h1.0v1.6183435816187377h-1.0zM180.0 56.4h1.0v1.4339753724169775h-1.0zM181.0 60.9h1.0v1.4193844542859342h-1.0zM182.0 56.2h1.0v1.2621376764969823h-1.0zM183.0 48.8h1.0v1.2076674309738231h-1.0zM186.0 58.0h1.0v1.4337736912237493h-1.0zM186.0 60.4h1.0v1.2675463104011229h-1.0zM188.0 55.1h1.0v0.914070662209124h-1.0zM190.0 50.5h1.0v1.367162081390556h-1.0zM192.0 57.5h1.0v1.5567856979168164h-1.0zM194.0 52.3h1.0v1.086904188415179h-1.0zM195.0 51.8h1.0v1.783097760723967h-1.0zM195.0 54.1h1.0v0.8029643578627002h-1.0zM196.0 56.5h1.0v1.0403669437489935h-1.0zM198.0 56.4h1.0v1.7599307394457586h-1.0zM199.0 55.5h1.0v0.9568436202319375h-1.0zM200.0 47.7h1.0v1.3735480669302789h-1.0zM201.0 56.6h1.0v1.213654202004851h-1.0zM202.0 56.1h1.0v1.726887602108447h-1.0zM203.0 54.5h1.0v0.9125916760523753h-1.0zM204.0 59.1h1.0v1.176931722763896h-1.0zM205.0 53.6h1.0v1.0605282144199424h-1.0zM205.0 54.2h1.0v1.829970443529987h-1.0zM1.9 56.7h1.0v1.6743780981292953h-1.0zM16.1 41.7h1.0v1.216069258039758h-1.0zM5.8 52.9h1.0v1.4386787400001602h-1.0zM7.9 51.0h1.0v1.0529423978764576h-1.0zM14.5 39.7h1.0v1.2587266627019233h-1.0zM3.8 54.4h1.0v1.4636516553344658h-1.0zM0.6 55.0h1.0v1.518429816942172h-1.0zM19.1 26.1h1.0v1.9938895220923558h-1.0zM-5.2 53.8h1.0v1.578472040221067h-1.0zM-3.4 55.6h1.0v1.4078980977462157h-1.0zM6.7 52.2h1.0v1.953089658272011h-1.0zM10.1 48.1h1.0v1.4290786118943233h-1.0zM16.7 36.4h1.0v1.7996968198250824h-1.0zM9.6 51.1h1.0v1.7558084149010957h-1.0zM3.7 59.1h1.0v1.0208366454383269h-1.0zM12.7 44.1h1.0v1.8335000697351864h-1.0zM17.1 35.0h1.0v1.5124837853423077h-1.0zM17.4 32.0h1.0v1.032086353830348h-1.0zM11.3 47.1h1.0v1.8762309204571483h-1.0zM23.8 19.1h1.0v1.540192619213539h-1.0zM16.5 38.6h1.0v1.0171334027408605h-1.0zM20.1 25.6h1.0v1.9464201962644445h-1.0zM0.4 55.2h1.0v1.5808979158389218h-1.0zM-4.5 54.7h1.0v1.4815954313988535h-1.0zM4.8 52.1h1.0v1.5551480844615262h-1.0zM-0.7 56.3h1.0v1.8821284144367607h-1.0zM11.9 48.7h1.0v1.6609291398522388h-1.0zM8.2 49.5h1.0v1.1683905756295556h-1.0zM-6.3 56.9h1.0v1.0349465138965477h-1.0zM3.3 54.1h1.0v1.4436063672494126h-1.0zM8.8 53.5h1.0v1.1711562163718932h-1.0zM-2.7 55.7h1.0v1.024228612515782h-1.0zM11.3 47.9h1.0v1.2249136216989396h-1.0zM-1.7 56.3h1.0v1.0823827708435074h-1.0zM-1.1 57.7h1.0v1.4881484821898903h-1.0zM17.6 33.7h1.0v1.4458749746730986h-1.0zM8.2 46.7h1.0v1.4955007347805767h-1.0zM-0.1 55.1h1.0v1.2549946267501353h-1.0zM17.0 33.3h1.0v1.8344927543920166h-1.0zM0.9 57.2h1.0v1.4385330346456975h-1.0zM-3.2 56.0h1.0v1.0144217949872885h-1.0zM15.9 36.9h1.0v1.5420354051568603h-1.0zM-4.3 54.7h1.0v1.5890138634014894h-1.0zM0.8 53.6h1.0v1.3563755502771588h-1.0zM2.2 56.7h1.0v1.5393224049312544h-1.0zM24.0 11.5h1.0v1.0665148485001035h-1.0zM14.4 42.0h1.0v1.3302677044510753h-1.0zM1.2 57.6h1.0v1.0468424378707613h-1.0zM9.9 49.2h1.0v1.2136736695300705h-1.0zM22.1 13.3h1.0v1.0084780438551741h-1.0zM5.4 53.2h1.0v1.3280602043605967h-1.0zM2.9 55.4h1.0v1.8870694760477784h-1.0zM17.4 34.1h1.0v1.2496336492990496h-1.0zM-4.9 55.5h1.0v1.1883495066464604h-1.0zM-5.0 56.6h1.0v1.152894191226837h-1.0zM-1.2 56.7h1.0v1.8055534534296203h-1.0zM-4.7 57.8h1.0v1.5070178936157668h-1.0zM6.1 52.9h1.0v1.7030416779455584h-1.0zM16.1 32.8h1.0v1.9636594655578181h-1.0zM11.2 47.8h1.0v1.3941689284845762h-1.0zM20.2 26.3h1.0v1.678714897158973h-1.0zM8.3 54.0h1.0v1.4976735014703106h-1.0zM14.7 42.9h1.0v1.7529131963614832h-1.0zM17.2 32.0h1.0v1.132617892248062h-1.0zM18.1 36.3h1.0v1.5341752909370796h-1.0zM8.8 52.8h1.0v1.4186466340788164h-1.0zM-0.2 57.5h1.0v1.713902014288633h-1.0zM12.4 47.9h1.0v1.5517055389324899h-1.0zM10.1 50.0h1.0v1.8260436834444709h-1.0zM10.0 46.3h1.0v1.348834872013409h-1.0zM7.6 53.9h1.0v1.2054409744474253h-1.0zM6.1 54.4h1.0v1.7355149205205687h-1.0zM23.3 11.0h1.0v1.9573641756824247h-1.0zM3.8 54.6h1.0v1.3396453164148716h-1.0zM9.5 49.9h1.0v1.062451065263133h-1.0zM3.3 55.1h1.0v1.8000017373415542h-1.0zM8.7 52.0h1.0v1.6918041769090095h-1.0zM20.0 31.4h1.0v1.499406657937747h-1.0zM21.4 14.9h1.0v1.4960066159964454h-1.0zM14.5 39.4h1.0v1.6150408452516096h-1.0zM18.3 33.0h1.0v1.3289358170245242h-1.0zM-5.0 56.9h1.0v1.6958343629116224h-1.0zM3.9 51.6h1.0v1.851192889913794h-1.0zM10.3 48.8h1.0v1.9491546601406353h-1.0zM21.7 24.5h1.0v1.1773874940834448h-1.0zM0.6 57.6h1.0v1.4514258017335595h-1.0zM4.5 54.9h1.0v1.1402770391821933h-1.0zM-2.3 57.1h1.0v1.1408445248697956h-1.0zM-5.3 59.5h1.0v1.8856819256145212h-1.0zM17.3 34.8h1.0v1.432670065137945h-1.0zM18.5 34.7h1.0v1.7825696962572701h-1.0zM12.0 46.0h1.0v1.6816456667239006h-1.0zM24.1 8.0h1.0v1.4123744885641036h-1.0zM2.0 53.6h1.0v1.2910180686416375h-1.0zM3.7 54.9h1.0v1.6501028807005258h-1.0zM15.9 39.6h1.0v1.6994253221392246h-1.0zM7.8 51.7h1.0v1.2812803547094052h-1.0zM4.7 54.2h1.0v1.4692120121476744h-1.0zM21.0 13.7h1.0v1.3100610923415907h-1.0zM18.3 34.6h1.0v1.5987816801510597h-1.0zM4.4 54.3h1.0v1.6433163266177195h-1.0zM12.5 46.7h1.0v1.9070785449728995h-1.0zM8.8 48.1h1.0v1.3523536690122273h-1.0zM23.8 8.4h1.0v1.4802339959473345h-1.0zM3.8 56.2h1.0v1.4523335642295176h-1.0zM4.2 53.1h1.0v1.6698559562486988h-1.0zM2.1 53.6h1.0v1.1049716631611113h-1.0zM4.1 54.1h1.0v1.155866076727356h-1.0zM21.1 11.6h1.0v1.401995293061698h-1.0zM-2.7 57.9h1.0v1.6492852976733663h-1.0zM1.1 54.8h1.0v1.950136547688926h-1.0zM6.4 50.5h1.0v1.554416052090898h-1.0zM19.6 28.2h1.0v1.9297192000242473h-1.0zM20.6 26.8h1.0v1.8141042229455882h-1.0zM12.9 44.5h1.0v1.13628538590897h-1.0zM20.3 23.7h1.0v1.965184062376545h-1.0zM-1.5 57.0h1.0v1.9600668317906775h-1.0zM-5.2 55.3h1.0v1.0504872668924623h-1.0zM2.5 56.9h1.0v1.9456465304800443h-1.0zM19.7 23.0h1.0v1.0438415998381276h-1.0zM-6.2 55.3h1.0v1.9701514269932359h-1.0zM7.6 52.1h1.0v1.9780786902280463h-1.0zM20.0 27.6h1.0v1.3341245829273078h-1.0zM11.2 44.0h1.0v1.9890888929564547h-1.0zM-5.8 58.3h1.0v1.7596606263674883h-1.0zM9.7 53.3h1.0v1.56739133442595h-1.0zM9.1 46.5h1.0v1.391726686799692h-1.0zM-0.4 54.7h1.0v1.9952504985527915h-1.0zM6.0 53.4h1.0v1.9213196399840782h-1.0zM0.0 55.5h1.0v1.73365897454021h-1.0zM6.5 49.8h1.0v1.4163253093599604h-1.0zM21.8 15.9h1.0v1.3586224774682019h-1.0zM10.8 45.1h1.0v1.8715075395523266h-1.0zM2.1 54.4h1.0v1.8454199009352998h-1.0zM-1.2 56.3h1.0v1.224766960872444h-1.0zM88.8 51.2h1.0v1.7049468820910512h-1.0zM80.3 56.0h1.0v1.7458326840329796h-1.0zM96.6 20.3h1.0v1.9830059450870468h-1.0zM82.2 53.1h1.0v1.03976584874883h-1.0zM95.6 22.4h1.0v1.8298995839524228h-1.0zM76.7 53.1h1.0v1.0102457574114614h-1.0zM80.1 55.0h1.0v1.7316735955985751h-1.0zM87.5 53.7h1.0v1.5088989433108908h-1.0zM82.2 55.7h1.0v1.1334689195450052h-1.0zM96.4 24.2h1.0v1.3038989710372344h-1.0zM81.4 56.0h1.0v1.3284821581494977h-1.0zM97.0 15.9h1.0v1.5006353281340161h-1.0zM90.6 42.9h1.0v1.4038457603055756h-1.0zM83.0 56.7h1.0v1.4795949674826h-1.0zM95.2 27.8h1.0v1.8138250721073352h-1.0zM90.2 42.6h1.0v1.766272801626679h-1.0zM95.7 22.6h1.0v1.4285922596638185h-1.0zM79.5 56.3h1.0v1.7945628198849128h-1.0zM90.3 41.9h1.0v1.2907843184846266h-1.0zM85.7 51.2h1.0v1.6836159118405534h-1.0zM96.7 7.9h1.0v1.8297862159173364h-1.0zM84.0 55.9h1.0v1.3582868834558073h-1.0zM99.8 4.5h1.0v1.4016433674035147h-1.0zM80.7 55.9h1.0v1.443564822973289h-1.0zM91.2 38.8h1.0v1.6764945904111717h-1.0zM78.4 55.3h1.0v1.68863510034656h-1.0zM83.6 54.2h1.0v1.4896792653358264h-1.0zM83.4 56.9h1.0v1.4310224250850587h-1.0zM85.8 52.1h1.0v1.4784771910508694h-1.0zM95.2 27.6h1.0v1.2308078571612753h-1.0zM79.5 53.5h1.0v1.5306122703047664h-1.0zM93.6 37.2h1.0v1.417280994762275h-1.0zM79.9 55.9h1.0v1.1525913106707755h-1.0zM83.2 53.9h1.0v1.4673035575274076h-1.0zM92.8 33.9h1.0v1.6384209980878972h-1.0zM83.2 56.9h1.0v1.9206248870301839h-1.0zM86.2 53.3h1.0v1.2952996394942677h-1.0zM92.2 37.0h1.0v1.5854393516138066h-1.0zM98.1 9.7h1.0v1.6809153229365719h-1.0zM88.7 48.2h1.0v1.4142207790104286h-1.0zM89.5 45.9h1.0v1.4345275519866552h-1.0zM93.8 37.0h1.0v1.5660439083517976h-1.0zM86.7 52.0h1.0v1.9104441455988717h-1.0zM96.0 22.2h1.0v1.4263157358389573h-1.0zM83.6 55.0h1.0v1.9053422362080257h-1.0zM82.4 55.7h1.0v1.8962775829595842h-1.0zM82.1 55.5h1.0v1.263293837789157h-1.0zM90.0 48.2h1.0v1.8872116955346163h-1.0zM87.3 48.9h1.0v1.1635199100804154h-1.0zM88.1 48.3h1.0v1.2129957983845365h-1.0zM78.1 57.7h1.0v1.0866870028748676h-1.0zM97.3 17.5h1.0v1.0720353883899527h-1.0zM84.1 54.0h1.0v1.218205104306723h-1.0zM83.8 56.3h1.0v1.651084728349373h-1.0zM80.6 57.5h1.0v1.5616078866549978h-1.0zM79.5 54.8h1.0v1.1953073797005564h-1.0zM76.2 56.2h1.0v1.5024523691219738h-1.0zM80.0 54.4h1.0v1.3928016300110717h-1.0zM82.6 54.3h1.0v1.005025978388669h-1.0zM84.5 54.7h1.0v1.375140609323572h-1.0zM91.1 39.8h1.0v1.8724700582608458h-1.0zM77.2 57.6h1.0v1.772798849645415h-1.0zM93.1 28.9h1.0v1.6905265226669006h-1.0zM96.0 21.2h1.0v1.7789841481975426h-1.0zM94.3 32.9h1.0v1.8080867098888684h-1.0zM87.8 47.5h1.0v1.6490710767367849h-1.0zM86.5 51.5h1.0v1.4952502394835516h-1.0zM88.4 50.7h1.0v1.089175129990104h-1.0zM90.0 43.6h1.0v1.2112369646463983h-1.0zM92.9 34.8h1.0v1.2252828528999713h-1.0zM87.1 51.1h1.0v1.9903467333050822h-1.0zM98.6 7.3h1.0v1.465359757414746h-1.0zM99.3 7.0h1.0v1.2618336852181695h-1.0zM81.1 55.4h1.0v1.6005417050844846h-1.0zM91.0 36.2h1.0v1.3129865956527176h-1.0zM86.6 50.7h1.0v1.6782606140594023h-1.0zM79.2 54.7h1.0v1.060464701326962h-1.0zM97.6 4.4h1.0v1.0024488558932363h-1.0zM85.7 52.3h1.0v1.9532353377044593h-1.0zM90.6 42.8h1.0v1.853291985860503h-1.0zM80.3 52.9h1.0v1.9342180937547293h-1.0zM87.0 48.8h1.0v1.413572698631542h-1.0zM93.2 35.1h1.0v1.4479755435339388h-1.0zM83.7 53.8h1.0v1.713675358355132h-1.0zM84.5 52.0h1.0v1.765882522508707h-1.0zM97.4 16.8h1.0v1.6725166138454832h-1.0zM91.9 34.9h1.0v1.7339875453699403h-1.0zM87.4 50.7h1.0v1.3437035759827989h-1.0zM95.1 26.2h1.0v1.5799875352215478h-1.0zM81.7 51.1h1.0v1.9926205781572677h-1.0zM91.0 42.5h1.0v1.7876051737261118h-1.0zM82.0 53.6h1.0v1.465494592486133h-1.0zM89.1 47.9h1.0v1.6427542121382053h-1.0zM93.3 31.5h1.0v1.3859909640246855h-1.0zM76.7 56.0h1.0v1.9806385910073074h-1.0zM81.0 56.4h1.0v1.619004655467847h-1.0zM89.9 46.5h1.0v1.0828052765392595h-1.0zM78.0 55.8h1.0v1.4809986749390809h-1.0zM93.1 31.8h1.0v1.8120783666177496h-1.0zM85.8 54.3h1.0v1.1885706778961924h-1.0zM98.0 5.7h1.0v1.7055326650396834h-1.0zM96.4 13.4h1.0v1.1098387616869227h-1.0zM76.0 54.8h1.0v1.0384143508362493h-1.0zM90.0 45.6h1.0v1.0122710829460189h-1.0zM75.2 57.4h1.0v1.7256514720504725h-1.0zM76.2 55.7h1.0v1.84213475803414h-1.0zM79.8 54.9h1.0v1.7559164943536747h-1.0zM91.9 39.3h1.0v1.6952628582769318h-1.0zM85.1 52.9h1.0v1.9644800735429588h-1.0zM93.3 36.2h1.0v1.9153073022167395h-1.0zM96.3 18.3h1.0v1.2106082476081896h-1.0zM89.6 45.9h1.0v1.6982923116484212h-1.0zM80.8 55.5h1.0v1.1937725443761944h-1.0zM78.9 56.9h1.0v1.7910520542538517h-1.0zM91.7 46.5h1.0v1.7053227512024751h-1.0zM90.6 44.3h1.0v1.8578789070817936h-1.0zM91.4 39.4h1.0v1.400311416407503h-1.0zM95.7 31.0h1.0v1.1190814426526186h-1.0zM96.3 26.3h1.0v1.8982331349682524h-1.0zM80.1 56.5h1.0v1.204220836248318h-1.0zM79.1 55.2h1.0v1.0383533550685993h-1.0zM82.5 56.1h1.0v1.8110655246771263h-1.0zM89.5 44.4h1.0v1.7313774253940106h-1.0zM81.1 53.9h1.0v1.4410197896975776h-1.0zM88.2 50.7h1.0v1.7805942892841942h-1.0zM89.3 47.8h1.0v1.424927307817713h-1.0zM85.0 52.9h1.0v1.1141844016036893h-1.0zM75.1 54.6h1.0v1.7097620117001653h-1.0zM88.3 52.8h1.0v1.2635471094662833h-1.0zM86.9 51.9h1.0v1.8667350131860005h-1.0zM81.1 54.9h1.0v1.3299343816578069h-1.0zM75.8 57.1h1.0v1.5621055700874162h-1.0zM79.3 57.2h1.0v1.442986524134758h-1.0zM76.3 56.1h1.0v1.0928714861062496h-1.0zM77.3 55.1h1.0v1.6613428143332873h-1.0zM84.6 52.9h1.0v1.8338966740674063h-1.0zM88.0 48.7h1.0v1.202559479645273h-1.0zM82.7 52.8h1.0v1.2517044132052049h-1.0zM96.2 18.8h1.0v1.7725723123109618h-1.0zM82.1 54.5h1.0v1.7791531551506545h-1.0zM77.3 56.1h1.0v1.6740401033857935h-1.0zM90.2 46.1h1.0v1.3467407685249349h-1.0zM94.0 34.7h1.0v1.21230911664792h-1.0zM78.8 54.4h1.0v1.2598595997962123h-1.0zM96.0 23.9h1.0v1.2240288085513655h-1.0zM84.5 53.4h1.0v1.6128052389862675h-1.0zM99.6 9.8h1.0v1.2738154440878686h-1.0zM87.8 52.1h1.0v1.5436740842634746h-1.0zM156.9 52.4h1.0v1.8518196544863392h-1.0zM153.9 57.7h1.0v1.5429040293507899h-1.0zM175.1 15.5h1.0v1.9268057657608058h-1.0zM169.2 32.8h1.0v1.0655105227427941h-1.0zM151.3 53.5h1.0v1.1540603799719777h-1.0zM174.2 12.6h1.0v1.79352048934487h-1.0zM152.6 55.1h1.0v1.4360532798992085h-1.0zM148.9 55.7h1.0v1.5526171261995316h-1.0zM152.2 58.3h1.0v1.906254606940884h-1.0zM151.0 57.3h1.0v1.8828354466131576h-1.0zM161.1 51.1h1.0v1.1114671015822624h-1.0zM152.6 55.7h1.0v1.8123445158078169h-1.0zM155.6 53.6h1.0v1.9527620295002854h-1.0zM161.6 47.8h1.0v1.633816230743767h-1.0zM153.3 56.6h1.0v1.6549001284195826h-1.0zM158.6 54.2h1.0v1.8200744005864982h-1.0zM161.1 47.8h1.0v1.4960070628475775h-1.0zM164.7 45.1h1.0v1.9523868914642075h-1.0zM164.2 44.3h1.0v1.04659719651531h-1.0zM156.4 56.0h1.0v1.4253104823494418h-1.0zM149.6 54.6h1.0v1.3201252969703554h-1.0zM153.4 54.1h1.0v1.7603555570056082h-1.0zM155.1 53.9h1.0v1.2070714047040803h-1.0zM169.6 32.7h1.0v1.8906636408220414h-1.0zM170.9 33.3h1.0v1.2611763888120051h-1.0zM146.6 56.8h1.0v1.8507484142923558h-1.0zM153.5 53.8h1.0v1.9035871457884652h-1.0zM151.7 57.8h1.0v1.5831449567243991h-1.0zM159.1 50.4h1.0v1.5249133582737806h-1.0zM164.8 43.9h1.0v1.152560883162621h-1.0zM160.2 47.8h1.0v1.4303451249558228h-1.0zM171.4 13.4h1.0v1.3334001101492299h-1.0zM168.1 39.7h1.0v1.5981827722310369h-1.0zM167.0 35.9h1.0v1.533528471255643h-1.0zM159.5 49.4h1.0v1.9781394565465624h-1.0zM148.5 54.9h1.0v1.081742568925368h-1.0zM170.5 22.9h1.0v1.6392360083179978h-1.0zM165.3 42.0h1.0v1.4761644582784115h-1.0zM162.8 45.8h1.0v1.358122927225998h-1.0zM166.2 38.5h1.0v1.7144213471870704h-1.0zM169.5 36.7h1.0v1.830657992595948h-1.0zM164.2 43.9h1.0v1.9798120681761742h-1.0zM162.5 47.6h1.0v1.542835917388814h-1.0zM168.8 35.1h1.0v1.7633734968276746h-1.0zM162.6 48.6h1.0v1.435499701379631h-1.0zM168.9 32.5h1.0v1.8611995072946765h-1.0zM164.9 45.3h1.0v1.2348474836578671h-1.0zM149.2 58.5h1.0v1.7136941478169352h-1.0zM162.0 48.4h1.0v1.6934147601226777h-1.0zM163.3 49.5h1.0v1.5282546263409031h-1.0zM150.0 58.4h1.0v1.3270901028708049h-1.0zM166.6 41.7h1.0v1.181569784694933h-1.0zM156.7 54.6h1.0v1.6315805545525235h-1.0zM159.0 50.9h1.0v1.5351144631877003h-1.0zM168.3 36.8h1.0v1.074390659976067h-1.0zM156.2 53.5h1.0v1.9372492177131266h-1.0zM155.0 55.3h1.0v1.8234677849392966h-1.0zM174.3 13.2h1.0v1.6342128973795385h-1.0zM152.3 55.4h1.0v1.7009350981442874h-1.0zM163.1 47.3h1.0v1.8748920592270402h-1.0zM174.0 18.9h1.0v1.542376466684694h-1.0zM164.6 48.1h1.0v1.1291345197717666h-1.0zM165.8 39.5h1.0v1.925182490541193h-1.0zM161.2 49.8h1.0v1.4623990748118092h-1.0zM167.1 36.8h1.0v1.1515699512086015h-1.0zM171.0 31.4h1.0v1.3268112898804185h-1.0zM155.3 52.9h1.0v1.2664612323169395h-1.0zM148.9 54.3h1.0v1.7112059976194858h-1.0zM173.6 10.8h1.0v1.5872957076813212h-1.0zM147.5 56.7h1.0v1.7960632191160872h-1.0zM169.2 33.3h1.0v1.0569949005967048h-1.0zM171.8 25.2h1.0v1.5026069536621693h-1.0zM152.9 56.4h1.0v1.8612431519632595h-1.0zM166.7 36.7h1.0v1.1502758642939894h-1.0zM151.5 55.4h1.0v1.653895259316986h-1.0zM168.2 33.6h1.0v1.9953623224127133h-1.0zM168.0 32.2h1.0v1.3989026086031693h-1.0zM153.8 53.7h1.0v1.380124249812206h-1.0zM168.5 32.6h1.0v1.6738083441645895h-1.0zM164.9 45.0h1.0v1.150316414114367h-1.0zM163.4 44.7h1.0v1.820696734344153h-1.0zM160.1 52.0h1.0v1.61581328737975h-1.0zM174.5 11.2h1.0v1.623230806666108h-1.0zM160.2 48.2h1.0v1.850740895976981h-1.0zM163.4 47.2h1.0v1.774155751832252h-1.0zM155.4 53.5h1.0v1.202465417280949h-1.0zM148.6 58.7h1.0v1.4290542129320631h-1.0zM161.1 48.3h1.0v1.1907240867377213h-1.0zM175.1 9.6h1.0v1.7888514970608296h-1.0zM160.8 50.6h1.0v1.1946710404360545h-1.0zM157.5 52.7h1.0v1.8067317412703194h-1.0zM172.0 27.0h1.0v1.9000021069280097h-1.0zM170.6 26.2h1.0v1.3645835076705557h-1.0zM171.5 17.6h1.0v1.6360944800125696h-1.0zM167.6 34.5h1.0v1.2865889523529432h-1.0zM162.4 50.1h1.0v1.3286407506918168h-1.0zM161.3 48.9h1.0v1.5714321521064858h-1.0zM150.6 56.2h1.0v1.9275567054516822h-1.0zM173.7 6.8h1.0v1.2325730597128748h-1.0zM168.9 26.9h1.0v1.389448883047189h-1.0zM163.8 42.6h1.0v1.8597460760192042h-1.0zM172.9 20.9h1.0v1.4721996332144092h-1.0zM157.4 52.8h1.0v1.4531842182178234h-1.0zM156.5 55.2h1.0v1.8554975493420152h-1.0zM162.8 50.4h1.0v1.795350425809616h-1.0zM148.0 55.4h1.0v1.1813059434251039h-1.0zM157.4 53.9h1.0v1.5112020939244353h-1.0zM175.5 12.6h1.0v1.2375988407819525h-1.0zM168.3 39.3h1.0v1.633160643885276h-1.0zM159.2 49.8h1.0v1.2027399839169302h-1.0zM150.7 54.6h1.0v1.7412863136121912h-1.0zM169.1 33.6h1.0v1.3970007065742025h-1.0zM157.6 50.2h1.0v1.319819750845329h-1.0zM154.0 54.5h1.0v1.4851447469677381h-1.0zM172.4 25.0h1.0v1.0256947359446091h-1.0zM158.1 52.9h1.0v1.3081244476062972h-1.0zM151.0 56.5h1.0v1.651933312041387h-1.0zM150.6 57.4h1.0v1.3979231051026726h-1.0zM170.0 22.8h1.0v1.7154640294044339h-1.0zM156.6 56.2h1.0v1.0272386020832887h-1.0zM163.6 43.3h1.0v1.3099859988339897h-1.0zM163.8 45.6h1.0v1.796129088739867h-1.0zM169.5 27.9h1.0v1.5645413998602553h-1.0zM168.9 34.0h1.0v1.5411044280294663h-1.0zM152.5 54.5h1.0v1.9291181940129103h-1.0zM158.0 53.9h1.0v1.0608935772073336h-1.0zM158.7 54.4h1.0v1.3204838444830571h-1.0zM151.0 57.7h1.0v1.42619735321004h-1.0zM152.9 56.3h1.0v1.7014500248007605h-1.0zM155.1 56.3h1.0v1.0668501335866285h-1.0zM167.0 40.3h1.0v1.700340698528867h-1.0zM165.0 42.0h1.0v1.9212326635545276h-1.0zM167.7 38.8h1.0v1.5889051570471369h-1.0zM158.4 53.5h1.0v1.3279791671051793h-1.0zM173.3 13.3h1.0v1.0568819219389434h-1.0zM159.1 50.5h1.0v1.2529527475836142h-1.0zM160.5 49.7h1.0v1.4070573318098152h-1.0zM163.4 47.6h1.0v1.2818152333408388h-1.0zM159.7 53.1h1.0v1.2802806068855794h-1.0zM166.3 40.5h1.0v1.58124520501408h-1.0zM172.8 9.5h1.0v1.4497636505877387h-1.0zM174.7 14.7h1.0v1.0142725260595924h-1.0zM155.2 55.0h1.0v1.3028259696146853h-1.0zM167.4 37.5h1.0v1.879103280582752h-1.0z"/><path fill="#4f92cc" fill-opacity="0.3" d="M0.0 56.5h1.0v1.0743839700846571h-1.0zM0.0 66.8h1.0v1.4344139294975145h-1.0zM0.0 54.9h1.0v1.154583568665387h-1.0zM1.0 59.1h1.0v2.135711394347874h-1.0zM1.0 63.4h1.0v2.4430286251181643h-1.0zM1.0 62.8h1.0v1.1031444241102908h-1.0zM2.0 63.4h1.0v1.824159863716056h-1.0zM2.0 49.8h1.0v2.436596805945987h-1.0zM2.0 61.8h1.0v1.9877750154584952h-1.0zM3.0 62.2h1.0v1.0933717324280314h-1.0zM3.0 63.9h1.0v1.1648924575006996h-1.0zM3.0 59.6h1.0v1.153569396587833h-1.0zM3.0 51.5h1.0v1.9206058944631466h-1.0zM4.0 60.2h1.0v1.964375621043053h-1.0zM4.0 52.2h1.0v1.5335442547344182h-1.0zM4.0 56.8h1.0v2.18259889615617h-1.0zM5.0 62.4h1.0v2.477873495597113h-1.0zM5.0 54.8h1.0v2.19946561727449h-1.0zM5.0 60.7h1.0v2.2519732116973286h-1.0zM6.0 60.0h1.0v2.4798241317839502h-1.0zM6.0 58.0h1.0v2.2392328777228316h-1.0zM7.0 61.6h1.0v1.6782638903155482h-1.0zM7.0 60.4h1.0v2.139989713885025h-1.0zM7.0 55.4h1.0v1.7583296962768324h-1.0zM8.0 64.6h1.0v2.451317173999576h-1.0zM8.0 65.8h1.0v2.120023138290317h-1.0zM8.0 56.7h1.0v2.4848071821164295h-1.0zM9.0 59.5h1.0v1.0862897686614195h-1.0zM9.0 58.5h1.0v1.637975561193584h-1.0zM9.0 60.7h1.0v1.125613789351777h-1.0zM10.0 61.0h1.0v1.0276508450479847h-1.0zM10.0 60.0h1.0v1.771352367193557h-1.0zM10.0 63.0h1.0v1.3227716794137716h-1.0zM11.0 59.2h1.0v1.3267987857377221h-1.0zM11.0 63.5h1.0v1.711965441095779h-1.0zM11.0 60.0h1.0v1.3722690921806056h-1.0zM12.0 63.9h1.0v2.100778185215443h-1.0zM12.0 56.8h1.0v2.3648314795317944h-1.0zM12.0 62.2h1.0v2.3392446046082616h-1.0zM12.0 55.8h1.0v1.1276375543083308h-1.0zM13.0 60.5h1.0v1.9641444630729794h-1.0zM13.0 59.9h1.0v1.4566257069388489h-1.0zM13.0 65.9h1.0v1.0187038199874092h-1.0zM14.0 60.7h1.0v2.4291105049798665h-1.0zM14.0 55.9h1.0v1.4193518447152766h-1.0zM14.0 56.9h1.0v2.0550055581911115h-1.0zM14.0 52.6h1.0v1.5911207797918587h-1.0zM15.0 60.3h1.0v1.4209565568906426h-1.0zM15.0 58.5h1.0v1.766444481711105h-1.0zM16.0 70.1h1.0v1.6749406653727184h-1.0zM17.0 63.0h1.0v1.1388972357402094h-1.0zM17.0 63.4h1.0v2.273025514345679h-1.0zM18.0 58.8h1.0v2.0478728759718394h-1.0zM18.0 62.5h1.0v2.415310687380556h-1.0zM18.0 61.8h1.0v1.5821229211339563h-1.0zM19.0 60.2h1.0v2.0238500244508484h-1.0zM19.0 63.0h1.0v2.267724582979959h-1.0zM19.0 60.1h1.0v1.30782788055795h-1.0zM19.0 57.5h1.0v1.346213219297462h-1.0zM20.0 65.5h1.0v1.6636527199588076h-1.0zM20.0 63.3h1.0v2.3277589878854337h-1.0zM21.0 57.9h1.0v2.430643636177985h-1.0zM21.0 62.7h1.0v2.0823581042399892h-1.0zM21.0 58.6h1.0v1.0363850574122926h-1.0zM22.0 68.0h1.0v1.3973369742699142h-1.0zM22.0 54.3h1.0v1.6704446543737337h-1.0zM23.0 66.8h1.0v1.9744609833707238h-1.0zM23.0 50.9h1.0v2.32423753461729h-1.0zM23.0 53.3h1.0v1.349339017114229h-1.0zM24.0 57.1h1.0v1.93152068904261h-1.0zM24.0 59.6h1.0v1.9960396537572622h-1.0zM25.0 64.1h1.0v1.1949626432526972h-1.0zM25.0 55.1h1.0v2.364691768549969h-1.0zM25.0 59.8h1.0v1.5219174096356518h-1.0zM25.0 57.8h1.0v1.7817383129721727h-1.0zM26.0 61.9h1.0v1.224200713415357h-1.0zM26.0 62.8h1.0v1.0616485500767363h-1.0zM27.0 55.8h1.0v1.9791184844546166h-1.0zM27.0 61.3h1.0v1.9211856618384016h-1.0zM28.0 65.0h1.0v2.3431196552907023h-1.0zM28.0 55.5h1.0v2.3238024029445024h-1.0zM29.0 61.7h1.0v1.3408894607333774h-1.0zM29.0 60.3h1.0v1.5324438620776546h-1.0zM29.0 60.0h1.0v1.7846331338266084h-1.0zM30.0 52.1h1.0v2.1002835611945203h-1.0zM30.0 62.9h1.0v1.2476487484220802h-1.0zM30.0 64.3h1.0v1.608983086634329h-1.0zM30.0 61.2h1.0v1.2388249306944665h-1.0zM30.0 64.5h1.0v2.4113809115878286h-1.0zM31.0 57.7h1.0v2.3412669399789965h-1.0zM31.0 67.9h1.0v2.320067802527121h-1.0zM32.0 60.9h1.0v1.8779984460525476h-1.0zM32.0 56.5h1.0v1.2168923731846393h-1.0zM32.0 63.8h1.0v1.242716875056144h-1.0zM32.0 63.2h1.0v2.0511097240678886h-1.0zM32.0 65.3h1.0v1.9508171905872933h-1.0zM33.0 55.0h1.0v1.6356480784098761h-1.0zM33.0 56.0h1.0v1.0468724567791399h-1.0zM34.0 62.4h1.0v1.2486865421003464h-1.0zM34.0 59.0h1.0v1.735437558456295h-1.0zM34.0 57.6h1.0v2.337762585547649h-1.0zM35.0 62.3h1.0v1.5010806261973602h-1.0zM35.0 57.2h1.0v2.132102486154059h-1.0zM35.0 59.9h1.0v2.0850041414348675h-1.0zM35.0 59.2h1.0v1.522948125313122h-1.0zM35.0 55.2h1.0v1.4921126099950806h-1.0zM36.0 60.1h1.0v2.2689903255019104h-1.0zM37.0 61.1h1.0v1.7788299621813837h-1.0zM37.0 56.3h1.0v2.4219589321714965h-1.0zM37.0 59.5h1.0v2.485416960168931h-1.0zM38.0 64.3h1.0v2.214358618092465h-1.0zM38.0 64.5h1.0v1.7037379366405228h-1.0zM39.0 56.9h1.0v2.35870892172345h-1.0zM39.0 56.7h1.0v1.873683016914716h-1.0zM39.0 59.4h1.0v1.314624212143219h-1.0zM39.0 58.5h1.0v1.1522679058293304h-1.0zM39.0 57.7h1.0v2.2812607612495284h-1.0zM40.0 60.2h1.0v1.739615085242723h-1.0zM40.0 62.0h1.0v1.7265559449839682h-1.0zM40.0 59.2h1.0v1.2469245814480936h-1.0zM41.0 57.7h1.0v1.511967109231653h-1.0zM41.0 59.3h1.0v1.377357936136733h-1.0zM42.0 64.2h1.0v1.925048718009721h-1.0zM42.0 58.4h1.0v1.9954294806118849h-1.0zM42.0 58.4h1.0v1.632357125444728h-1.0zM42.0 64.5h1.0v1.5533039779058329h-1.0zM43.0 55.5h1.0v1.3184153798495115h-1.0zM43.0 57.3h1.0v1.0139912033501388h-1.0zM43.0 57.3h1.0v2.479972336065193h-1.0zM44.0 66.9h1.0v2.0299589054734644h-1.0zM44.0 56.8h1.0v1.6580856196932723h-1.0zM45.0 59.0h1.0v1.8770023557755557h-1.0zM45.0 56.1h1.0v1.9026731227127325h-1.0zM45.0 58.8h1.0v1.40203451464884h-1.0zM45.0 57.1h1.0v1.8799645258552904h-1.0zM46.0 63.3h1.0v1.7148793396298068h-1.0zM46.0 57.1h1.0v1.283727134160999h-1.0zM47.0 68.0h1.0v2.4197493729762183h-1.0zM47.0 60.0h1.0v1.3014836683267466h-1.0zM47.0 61.0h1.0v1.567303032617901h-1.0zM47.0 61.4h1.0v1.7302532078385917h-1.0zM48.0 64.3h1.0v1.0836517188816157h-1.0zM49.0 63.1h1.0v1.3508227856182116h-1.0zM49.0 59.5h1.0v1.9422747272927174h-1.0zM49.0 65.1h1.0v1.8300611327139695h-1.0zM50.0 63.8h1.0v1.3922841883981856h-1.0zM50.0 59.3h1.0v2.387619658240839h-1.0zM50.0 62.4h1.0v1.2165267539616433h-1.0zM51.0 64.8h1.0v1.874399650559325h-1.0zM51.0 65.5h1.0v1.7793429800285732h-1.0zM52.0 64.0h1.0v1.7699711027626899h-1.0zM52.0 58.8h1.0v1.0310317081608378h-1.0zM52.0 62.3h1.0v1.83304035086729h-1.0zM53.0 58.3h1.0v1.9041853382320935h-1.0zM53.0 55.4h1.0v1.5934502106587416h-1.0zM54.0 61.1h1.0v1.9423740156991902h-1.0zM54.0 58.1h1.0v1.354978504972896h-1.0zM54.0 59.3h1.0v1.9712801445310366h-1.0zM55.0 57.0h1.0v1.363381668929008h-1.0zM55.0 63.6h1.0v2.3862879203928955h-1.0zM55.0 59.3h1.0v2.2927978219696685h-1.0zM56.0 54.8h1.0v2.23179046257175h-1.0zM56.0 59.4h1.0v1.9482013648156598h-1.0zM56.0 65.0h1.0v1.6195507072377127h-1.0zM57.0 59.2h1.0v2.4534249139210944h-1.0zM57.0 62.4h1.0v1.6396709072357478h-1.0zM58.0 54.4h1.0v1.4771166298537444h-1.0zM59.0 57.4h1.0v1.8793006578323364h-1.0zM59.0 64.0h1.0v2.3067073968814094h-1.0zM59.0 56.7h1.0v1.1822520138176595h-1.0zM59.0 58.3h1.0v1.7776357579174922h-1.0zM60.0 52.1h1.0v1.659461621805106h-1.0zM60.0 55.5h1.0v1.3739941517587693h-1.0zM60.0 62.6h1.0v1.260296765507685h-1.0zM61.0 62.9h1.0v1.9769226953250942h-1.0zM61.0 57.8h1.0v1.4186992719502123h-1.0zM61.0 63.2h1.0v1.512131655270655h-1.0zM62.0 57.1h1.0v1.3693759598301793h-1.0zM62.0 58.2h1.0v1.188275000516963h-1.0zM62.0 58.6h1.0v1.0430752112439436h-1.0zM62.0 58.7h1.0v1.1290554444640506h-1.0zM63.0 57.0h1.0v1.272485348859539h-1.0zM63.0 64.1h1.0v1.4063323242144963h-1.0zM64.0 59.8h1.0v2.281221403760354h-1.0zM64.0 61.0h1.0v2.461192629238111h-1.0zM64.0 60.7h1.0v2.124287414330757h-1.0zM64.0 54.8h1.0v2.4971643658082425h-1.0zM65.0 61.5h1.0v1.261796145287195h-1.0zM65.0 65.0h1.0v1.815897396880502h-1.0zM65.0 59.0h1.0v2.445410062291284h-1.0zM66.0 60.3h1.0v1.4558554500018779h-1.0zM67.0 53.8h1.0v1.7881545556231326h-1.0zM68.0 59.7h1.0v1.7191021053956548h-1.0zM68.0 59.7h1.0v1.2147432001299046h-1.0zM69.0 58.1h1.0v1.7210983558352755h-1.0zM69.0 59.0h1.0v2.3276561755733196h-1.0zM69.0 63.1h1.0v2.2721652670448043h-1.0zM70.0 55.7h1.0v2.045085818838527h-1.0zM70.0 61.2h1.0v2.277305343091782h-1.0zM70.0 60.6h1.0v1.7546958835858422h-1.0zM70.0 58.2h1.0v1.9398920609502963h-1.0zM70.0 54.7h1.0v1.8164495956665483h-1.0zM71.0 58.4h1.0v2.206164726208355h-1.0zM71.0 58.4h1.0v2.082668533425644h-1.0zM71.0 56.9h1.0v2.2045315273447192h-1.0zM72.0 60.6h1.0v1.513552032349462h-1.0zM72.0 64.5h1.0v1.0531883061819212h-1.0zM73.0 67.4h1.0v1.2187430045786845h-1.0zM73.0 62.8h1.0v1.5352506067860219h-1.0zM73.0 60.9h1.0v1.8409426536706044h-1.0zM74.0 59.8h1.0v1.226214794095085h-1.0zM75.0 58.1h1.0v1.5993603629758812h-1.0zM75.0 62.3h1.0v1.7528742400716315h-1.0zM75.0 58.2h1.0v1.2950664077893157h-1.0zM75.0 58.9h1.0v2.07852147672324h-1.0zM76.0 60.4h1.0v1.3157230706064929h-1.0zM76.0 56.0h1.0v1.8827335260721318h-1.0zM77.0 54.9h1.0v1.3422514729296133h-1.0zM77.0 64.6h1.0v1.183333613650869h-1.0zM77.0 58.1h1.0v1.8328717177067444h-1.0zM77.0 59.7h1.0v2.1063949035404104h-1.0zM77.0 64.9h1.0v2.306252841700765h-1.0zM78.0 62.9h1.0v1.9855718869021841h-1.0zM78.0 58.1h1.0v1.0460599465511229h-1.0zM78.0 59.7h1.0v1.3470709996778996h-1.0zM78.0 58.1h1.0v2.491467362254128h-1.0zM79.0 55.3h1.0v1.2734458271578908h-1.0zM79.0 63.0h1.0v1.0366361566449007h-1.0zM79.0 59.9h1.0v1.2278919105343866h-1.0zM79.0 62.3h1.0v1.1463225903135248h-1.0zM80.0 62.4h1.0v1.221903774513319h-1.0zM80.0 61.4h1.0v2.4557360211216364h-1.0zM80.0 59.8h1.0v1.4035057246936948h-1.0zM81.0 62.3h1.0v2.3471458703095647h-1.0zM81.0 64.2h1.0v2.486518348463945h-1.0zM81.0 59.2h1.0v1.9312489306625054h-1.0zM81.0 58.7h1.0v2.362781346400204h-1.0zM82.0 60.6h1.0v2.1959755816653477h-1.0zM83.0 65.0h1.0v2.4954429430462577h-1.0zM83.0 56.1h1.0v2.197422428144292h-1.0zM83.0 61.3h1.0v1.0088792929073416h-1.0zM84.0 58.5h1.0v1.095034338521973h-1.0zM85.0 54.2h1.0v2.1548173963266732h-1.0zM85.0 58.0h1.0v1.1350780712892317h-1.0zM85.0 59.4h1.0v1.7454146417407346h-1.0zM85.0 59.7h1.0v1.8466206728027492h-1.0zM86.0 62.3h1.0v1.3856271055150855h-1.0zM86.0 53.3h1.0v1.1976252837342085h-1.0zM87.0 58.4h1.0v1.2702022206081536h-1.0zM87.0 62.2h1.0v1.2702484281456954h-1.0zM87.0 60.1h1.0v2.202893095586745h-1.0zM88.0 54.5h1.0v1.4865885401002767h-1.0zM88.0 56.2h1.0v1.3350474199819813h-1.0zM89.0 59.0h1.0v2.2681112390484053h-1.0zM89.0 61.0h1.0v1.2915622213229647h-1.0zM90.0 54.1h1.0v1.1143499282156604h-1.0zM90.0 63.5h1.0v1.5391557310115267h-1.0zM91.0 60.5h1.0v2.115557766287721h-1.0zM91.0 60.0h1.0v1.3962612673434345h-1.0zM91.0 57.9h1.0v1.6360042213641197h-1.0zM91.0 58.0h1.0v1.1264890506553171h-1.0zM91.0 67.3h1.0v1.3508768295149467h-1.0zM92.0 60.8h1.0v1.4965907563484957h-1.0zM92.0 64.3h1.0v1.495002600268605h-1.0zM92.0 61.0h1.0v2.127191740313551h-1.0zM93.0 58.3h1.0v2.1260728370961424h-1.0zM93.0 64.8h1.0v1.862505747841137h-1.0zM94.0 62.9h1.0v1.611166756536805h-1.0zM94.0 67.0h1.0v1.1810659417844074h-1.0zM95.0 64.0h1.0v2.406724410379469h-1.0zM96.0 59.9h1.0v1.421307272769088h-1.0zM96.0 54.8h1.0v1.436756943608185h-1.0zM98.0 60.1h1.0v1.6191009227305653h-1.0zM98.0 54.6h1.0v2.395051836672582h-1.0zM98.0 54.2h1.0v1.950864282351266h-1.0zM99.0 66.9h1.0v1.2267340930795065h-1.0zM99.0 60.0h1.0v2.3180016944648916h-1.0zM100.0 57.7h1.0v2.44707779583748h-1.0zM100.0 68.1h1.0v1.3267906072355968h-1.0zM100.0 58.1h1.0v1.866303136986525h-1.0zM100.0 69.5h1.0v1.3344803688461644h-1.0zM100.0 64.2h1.0v1.6358679872871333h-1.0zM101.0 62.0h1.0v2.1393342524119605h-1.0zM101.0 59.6h1.0v1.6579208460908073h-1.0zM101.0 55.7h1.0v2.18535661738817h-1.0zM101.0 57.6h1.0v2.1214775419176917h-1.0zM102.0 60.1h1.0v1.7143635328557632h-1.0zM103.0 57.6h1.0v1.6926448995380994h-1.0zM103.0 63.9h1.0v1.011005016901485h-1.0zM103.0 62.9h1.0v1.1560272175601787h-1.0zM104.0 61.6h1.0v1.9508467361907158h-1.0zM104.0 53.5h1.0v1.3639330837182393h-1.0zM104.0 60.3h1.0v1.0730212450249055h-1.0zM104.0 59.1h1.0v2.4117517463566855h-1.0zM105.0 54.8h1.0v1.8398484112135658h-1.0zM105.0 65.5h1.0v2.4749589202225293h-1.0zM106.0 64.2h1.0v1.316238510419472h-1.0zM106.0 57.8h1.0v2.3693061696913205h-1.0zM106.0 59.1h1.0v2.201691316941437h-1.0zM106.0 63.7h1.0v1.6626083804904954h-1.0zM107.0 60.1h1.0v2.1918986411313526h-1.0zM107.0 64.1h1.0v1.5506884239344643h-1.0zM107.0 62.1h1.0v1.7963776296385001h-1.0zM108.0 56.8h1.0v1.983939964063021h-1.0zM108.0 56.1h1.0v1.9841738462754506h-1.0zM108.0 59.0h1.0v1.09591187979577h-1.0zM108.0 57.1h1.0v1.8035177143052663h-1.0zM109.0 54.9h1.0v2.268479151911454h-1.0zM109.0 58.8h1.0v1.9918304264140994h-1.0zM109.0 64.0h1.0v2.2553023843024103h-1.0zM109.0 61.2h1.0v1.5745176738568387h-1.0zM110.0 53.0h1.0v1.3943817191160508h-1.0zM110.0 65.0h1.0v2.2546374578328523h-1.0zM111.0 61.5h1.0v2.1775906391217497h-1.0zM111.0 63.5h1.0v1.4767289247132616h-1.0zM112.0 57.1h1.0v2.049649107011665h-1.0zM112.0 55.7h1.0v1.8969358182529066h-1.0zM112.0 53.3h1.0v1.4277571004519107h-1.0zM113.0 60.3h1.0v2.2554369755106927h-1.0zM113.0 57.5h1.0v1.20653311454959h-1.0zM114.0 59.1h1.0v1.1058019953478462h-1.0zM114.0 57.3h1.0v2.2105708680652123h-1.0zM115.0 58.4h1.0v1.1334256376091965h-1.0zM115.0 56.5h1.0v1.200893453137103h-1.0zM116.0 56.5h1.0v2.253309755216151h-1.0zM116.0 56.3h1.0v2.449483116369208h-1.0zM117.0 56.4h1.0v1.3877751752698595h-1.0zM118.0 55.6h1.0v1.497770291467329h-1.0zM118.0 60.0h1.0v1.046357090347883h-1.0zM119.0 62.8h1.0v1.2268783618727699h-1.0zM119.0 53.9h1.0v1.1593236475321116h-1.0zM120.0 59.1h1.0v1.6560302993633496h-1.0zM120.0 63.4h1.0v2.073809716442856h-1.0zM120.0 64.4h1.0v1.0478313001397623h-1.0zM121.0 65.2h1.0v1.508276281529983h-1.0zM122.0 55.7h1.0v2.3309372428838886h-1.0zM122.0 62.7h1.0v2.225440914775248h-1.0zM123.0 61.7h1.0v2.354561136624383h-1.0zM123.0 60.2h1.0v1.1014919560164567h-1.0zM124.0 55.5h1.0v1.0354516251103159h-1.0zM124.0 61.1h1.0v1.6439754180467836h-1.0zM124.0 62.7h1.0v1.152328866224675h-1.0zM125.0 58.1h1.0v1.0801259084490988h-1.0zM125.0 60.2h1.0v1.7536044737454095h-1.0zM125.0 60.8h1.0v1.7661968819320553h-1.0zM125.0 58.1h1.0v1.9466066856488415h-1.0zM126.0 59.5h1.0v2.303883482735663h-1.0zM126.0 57.2h1.0v1.6899560709103636h-1.0zM126.0 63.3h1.0v2.1498762114532957h-1.0zM127.0 60.4h1.0v1.7502604220344535h-1.0zM127.0 57.1h1.0v2.260410857110275h-1.0zM127.0 64.8h1.0v1.6979367121794173h-1.0zM128.0 59.6h1.0v2.3566366747076932h-1.0zM128.0 57.3h1.0v1.782202320864224h-1.0zM129.0 60.7h1.0v2.4204117634585396h-1.0zM129.0 60.3h1.0v2.256291663567721h-1.0zM129.0 55.5h1.0v2.063323271500344h-1.0zM130.0 60.9h1.0v1.5265236715901538h-1.0zM130.0 61.9h1.0v1.6682955719181793h-1.0zM130.0 60.9h1.0v2.32660775529986h-1.0zM130.0 55.6h1.0v1.6773795087522942h-1.0zM130.0 57.4h1.0v1.5938966927456288h-1.0zM131.0 66.5h1.0v2.188310053171579h-1.0zM131.0 66.0h1.0v2.2876870176519746h-1.0zM133.0 62.6h1.0v2.435165835208749h-1.0zM133.0 61.8h1.0v2.28633904962831h-1.0zM134.0 62.3h1.0v2.33415801265551h-1.0zM134.0 63.9h1.0v1.5515169730004479h-1.0zM135.0 68.6h1.0v1.5405182710476677h-1.0zM135.0 57.0h1.0v1.3663237323160549h-1.0zM135.0 69.0h1.0v1.6307399907317883h-1.0zM135.0 57.7h1.0v1.7611954360743767h-1.0zM135.0 59.2h1.0v2.1298095900956833h-1.0zM136.0 56.2h1.0v2.306225024109595h-1.0zM137.0 59.3h1.0v1.8153814682741165h-1.0zM137.0 59.6h1.0v1.210714465790486h-1.0zM138.0 59.0h1.0v1.2489454588337194h-1.0zM138.0 56.3h1.0v1.746643820283066h-1.0zM138.0 62.7h1.0v1.4273630288268657h-1.0zM138.0 54.2h1.0v1.5030168523762986h-1.0zM139.0 56.5h1.0v1.0852786847540774h-1.0zM139.0 59.5h1.0v1.3794886677788805h-1.0zM140.0 64.9h1.0v2.297082229351984h-1.0zM140.0 59.6h1.0v1.5708825971032467h-1.0zM140.0 58.3h1.0v1.0054338330738744h-1.0zM141.0 63.3h1.0v1.481017471080046h-1.0zM142.0 60.9h1.0v1.50537155723829h-1.0zM142.0 57.6h1.0v2.079473254781141h-1.0zM142.0 60.3h1.0v1.0648414609438868h-1.0zM143.0 57.3h1.0v1.9368493711562156h-1.0zM143.0 64.7h1.0v1.3102822641325567h-1.0zM144.0 60.2h1.0v1.5658105906137727h-1.0zM144.0 59.3h1.0v1.718723816437298h-1.0zM145.0 62.2h1.0v1.8115956918468732h-1.0zM145.0 56.0h1.0v1.4259774583742004h-1.0zM146.0 58.9h1.0v2.0234765827822088h-1.0zM146.0 55.9h1.0v1.2962877103117285h-1.0zM146.0 60.1h1.0v1.1012051177610518h-1.0zM146.0 59.0h1.0v1.966845517997769h-1.0zM147.0 57.6h1.0v1.8247480128310103h-1.0zM147.0 62.3h1.0v1.159742535063494h-1.0zM147.0 55.3h1.0v1.88790407702972h-1.0zM147.0 59.2h1.0v1.2657927636695447h-1.0zM147.0 66.9h1.0v1.023632067649733h-1.0zM148.0 52.4h1.0v1.8295882261525511h-1.0zM148.0 61.6h1.0v1.9185071058645942h-1.0zM149.0 63.4h1.0v1.637597358806544h-1.0zM149.0 65.1h1.0v1.7077540118684917h-1.0zM149.0 57.7h1.0v1.8566293956240152h-1.0zM150.0 55.0h1.0v2.4291975211738484h-1.0zM150.0 62.1h1.0v2.271589976929759h-1.0zM150.0 56.3h1.0v1.2236615119623808h-1.0zM150.0 58.4h1.0v1.2744395217513562h-1.0zM151.0 62.9h1.0v2.4713620056585786h-1.0zM151.0 59.3h1.0v1.8260249549054821h-1.0zM151.0 58.1h1.0v1.089863779085714h-1.0zM151.0 60.8h1.0v1.3834830699787743h-1.0zM151.0 62.3h1.0v1.3943360055538654h-1.0zM152.0 66.7h1.0v1.3166449069334005h-1.0zM152.0 56.3h1.0v1.8622338723662537h-1.0zM153.0 59.4h1.0v1.7797810874567155h-1.0zM153.0 58.4h1.0v2.212179182049408h-1.0zM153.0 64.2h1.0v1.1375491291038669h-1.0zM154.0 61.7h1.0v1.3938185223259583h-1.0zM154.0 62.9h1.0v1.2289705455671303h-1.0zM154.0 52.4h1.0v2.346068883366927h-1.0zM155.0 60.2h1.0v2.222662651060511h-1.0zM155.0 59.2h1.0v1.6616477919952284h-1.0zM155.0 56.4h1.0v1.8449272857106527h-1.0zM156.0 63.7h1.0v1.8926376176743314h-1.0zM156.0 59.7h1.0v1.917866618949102h-1.0zM157.0 60.6h1.0v2.0277340981159107h-1.0zM158.0 62.9h1.0v1.2152829995420888h-1.0zM158.0 62.9h1.0v1.1232096992526122h-1.0zM158.0 59.4h1.0v1.592234800595451h-1.0zM159.0 61.3h1.0v1.8987798478496798h-1.0zM160.0 57.5h1.0v1.314266396340821h-1.0zM160.0 63.0h1.0v2.1896704626813053h-1.0zM160.0 60.5h1.0v1.6690337778181772h-1.0zM161.0 59.7h1.0v1.614049292587197h-1.0zM162.0 57.6h1.0v1.155248630374311h-1.0zM162.0 63.3h1.0v1.4977231469778345h-1.0zM162.0 64.2h1.0v2.3702703552739814h-1.0zM162.0 58.0h1.0v1.6456795199957595h-1.0zM162.0 57.1h1.0v1.9513811122903264h-1.0zM163.0 60.3h1.0v1.1832708622869625h-1.0zM163.0 58.9h1.0v1.5957786124433335h-1.0zM164.0 55.0h1.0v2.466792674741798h-1.0zM164.0 62.7h1.0v2.0252452201312123h-1.0zM164.0 59.6h1.0v1.8141832856475295h-1.0zM165.0 61.4h1.0v1.9388083530543878h-1.0zM166.0 57.9h1.0v2.0513702642372986h-1.0zM166.0 61.6h1.0v1.7667301382769933h-1.0zM166.0 59.8h1.0v1.5641551536467913h-1.0zM167.0 59.2h1.0v2.023554336997923h-1.0zM167.0 54.5h1.0v1.1335033957318201h-1.0zM168.0 54.4h1.0v2.173709810659478h-1.0zM168.0 66.2h1.0v1.7993631408747421h-1.0zM168.0 59.7h1.0v1.310684804124049h-1.0zM169.0 58.7h1.0v2.0082670033738443h-1.0zM169.0 58.9h1.0v1.5016634022876372h-1.0zM170.0 59.0h1.0v2.17611172402715h-1.0zM170.0 62.3h1.0v1.7339985554961328h-1.0zM170.0 52.6h1.0v1.489277520833416h-1.0zM171.0 54.6h1.0v1.3823841175997331h-1.0zM172.0 56.2h1.0v1.4943630722782748h-1.0zM172.0 58.7h1.0v2.3882713569073886h-1.0zM172.0 59.0h1.0v1.0504000283447952h-1.0zM173.0 61.9h1.0v1.8186908196951164h-1.0zM174.0 60.1h1.0v1.2823211398828205h-1.0zM174.0 61.4h1.0v2.0561592040125176h-1.0zM174.0 59.6h1.0v1.9088914594770985h-1.0zM175.0 64.4h1.0v2.261809745969457h-1.0zM175.0 58.4h1.0v2.156683565950919h-1.0zM175.0 58.2h1.0v1.417014694953005h-1.0zM176.0 57.7h1.0v1.5012004820025782h-1.0zM176.0 64.5h1.0v2.1181583143876876h-1.0zM177.0 61.2h1.0v1.6733512190170097h-1.0zM177.0 58.2h1.0v1.0230307223424295h-1.0zM177.0 63.7h1.0v2.364697095658804h-1.0zM177.0 56.1h1.0v2.2546952292609834h-1.0zM178.0 64.1h1.0v1.3743689824272152h-1.0zM178.0 58.0h1.0v1.1354339358165744h-1.0zM178.0 59.4h1.0v2.4502527558568072h-1.0zM179.0 57.9h1.0v1.3190458555684987h-1.0zM180.0 53.9h1.0v2.015727830574164h-1.0zM180.0 57.6h1.0v1.9808792284674672h-1.0zM181.0 59.4h1.0v1.1301142413254246h-1.0zM181.0 61.9h1.0v1.3716217647347118h-1.0zM182.0 62.1h1.0v2.2766282469087686h-1.0zM182.0 62.2h1.0v1.7597419696273806h-1.0zM182.0 56.5h1.0v1.478803435441064h-1.0zM183.0 62.1h1.0v1.475975894056995h-1.0zM183.0 58.8h1.0v1.5149566678491446h-1.0zM184.0 59.8h1.0v1.8309708489138665h-1.0zM184.0 56.1h1.0v1.1349910438060697h-1.0zM184.0 62.5h1.0v1.1543607117233345h-1.0zM184.0 63.7h1.0v1.934766592160298h-1.0zM185.0 57.7h1.0v1.545775694059293h-1.0zM185.0 56.4h1.0v2.440354395484049h-1.0zM185.0 57.7h1.0v2.058141531304263h-1.0zM186.0 64.7h1.0v1.312870572791163h-1.0zM186.0 57.4h1.0v1.332446510794852h-1.0zM186.0 58.0h1.0v1.4296305856462181h-1.0zM187.0 55.1h1.0v2.301714548942525h-1.0zM187.0 59.2h1.0v2.4769228950394897h-1.0zM188.0 65.1h1.0v1.5194434197587916h-1.0zM189.0 62.5h1.0v1.1273723042633859h-1.0zM189.0 55.9h1.0v1.6435463897050173h-1.0zM189.0 62.5h1.0v2.023317803729894h-1.0zM190.0 57.1h1.0v1.8029327813707645h-1.0zM191.0 55.8h1.0v1.808330945508792h-1.0zM191.0 61.6h1.0v1.1066129279082477h-1.0zM192.0 65.0h1.0v1.020611553745995h-1.0zM192.0 58.9h1.0v2.485774165077027h-1.0zM192.0 65.1h1.0v2.0502513995558864h-1.0zM193.0 65.8h1.0v2.2438162113977773h-1.0zM193.0 63.8h1.0v1.593593092899372h-1.0zM193.0 62.2h1.0v2.041146499341032h-1.0zM194.0 57.5h1.0v2.1057971535749713h-1.0zM194.0 61.4h1.0v1.4669904322332434h-1.0zM194.0 60.8h1.0v1.7294591521702583h-1.0zM194.0 59.4h1.0v1.308879815452692h-1.0zM195.0 55.9h1.0v1.549580678152609h-1.0zM195.0 59.5h1.0v2.095510912612384h-1.0zM195.0 55.5h1.0v1.1678142733041765h-1.0zM195.0 59.5h1.0v2.2679529341307108h-1.0zM195.0 54.9h1.0v1.741225892606911h-1.0zM196.0 61.4h1.0v1.7515944665690235h-1.0zM196.0 58.8h1.0v1.0078099927234123h-1.0zM196.0 56.4h1.0v1.7957032442334409h-1.0zM197.0 56.0h1.0v2.1286518386613467h-1.0zM197.0 51.1h1.0v1.3102238838574438h-1.0zM197.0 60.4h1.0v1.220434915915714h-1.0zM197.0 54.6h1.0v1.4789542033091667h-1.0zM197.0 61.1h1.0v2.4661914060157386h-1.0zM198.0 58.9h1.0v1.6592854325676694h-1.0zM198.0 56.3h1.0v2.1035443139417955h-1.0zM199.0 60.0h1.0v1.6879373716385044h-1.0zM199.0 53.6h1.0v1.0078314373173929h-1.0zM200.0 57.4h1.0v1.726743999171236h-1.0zM200.0 59.7h1.0v1.7304061249947156h-1.0zM201.0 57.3h1.0v1.4264193869478472h-1.0zM201.0 64.6h1.0v1.0755168823544654h-1.0zM201.0 58.6h1.0v2.368146172614538h-1.0zM201.0 54.0h1.0v2.4306204891974446h-1.0zM201.0 54.7h1.0v1.7050172315110195h-1.0zM202.0 65.0h1.0v1.63532233233134h-1.0zM202.0 63.4h1.0v1.3350210458824483h-1.0zM202.0 60.2h1.0v1.1293828858355865h-1.0zM203.0 62.6h1.0v1.733452224563836h-1.0zM203.0 59.3h1.0v1.3238511870691125h-1.0zM203.0 61.9h1.0v2.1523853971561047h-1.0zM203.0 60.1h1.0v2.437088150640508h-1.0zM204.0 56.8h1.0v2.445731938248226h-1.0zM205.0 62.3h1.0v1.3719986786248797h-1.0zM205.0 59.7h1.0v1.567059848811404h-1.0zM206.0 56.8h1.0v1.3746352616225745h-1.0zM206.0 59.0h1.0v1.1309283158707608h-1.0zM206.0 57.5h1.0v1.1528181730109868h-1.0zM10.3 48.1h1.0v1.1492614366048433h-1.0zM16.0 37.4h1.0v1.5429269252615385h-1.0zM16.6 39.2h1.0v1.2555822183360994h-1.0zM10.4 49.8h1.0v1.3633971412330637h-1.0zM5.5 56.3h1.0v1.8695242404778445h-1.0zM18.1 29.1h1.0v1.0114609927735125h-1.0zM4.3 56.6h1.0v1.6856185143182127h-1.0zM23.2 11.2h1.0v1.104325958332917h-1.0zM21.7 29.3h1.0v1.646138148109648h-1.0zM24.5 8.6h1.0v1.7874092673350241h-1.0zM17.8 38.2h1.0v1.7905964563430232h-1.0zM17.2 30.3h1.0v1.0690274113821174h-1.0zM19.9 25.0h1.0v1.5499018069063235h-1.0zM6.7 51.8h1.0v1.7125665949158129h-1.0zM15.0 40.7h1.0v1.1933648640019308h-1.0zM-6.8 55.4h1.0v1.9272479037803638h-1.0zM9.5 48.8h1.0v1.4756164844787447h-1.0zM-4.2 57.2h1.0v1.0625104447024114h-1.0zM-4.2 56.8h1.0v1.374670445639397h-1.0zM21.9 15.3h1.0v1.1296153306361343h-1.0zM20.0 22.7h1.0v1.436318681671099h-1.0zM10.6 46.6h1.0v1.2023858586094238h-1.0zM24.7 8.7h1.0v1.5142918711377105h-1.0zM3.5 56.4h1.0v1.840960284784782h-1.0zM16.1 42.8h1.0v1.9580391406260795h-1.0zM15.6 40.6h1.0v1.6829560923854707h-1.0zM1.8 58.4h1.0v1.9499215196546427h-1.0zM-4.1 54.5h1.0v1.1106658469113195h-1.0zM8.0 52.0h1.0v1.4842753958213364h-1.0zM0.1 55.8h1.0v1.4799487750585136h-1.0zM-2.0 54.9h1.0v1.7267216685540188h-1.0zM7.4 53.8h1.0v1.0136023493083477h-1.0zM2.0 56.7h1.0v1.0918063909217985h-1.0zM0.4 56.9h1.0v1.0419895177008835h-1.0zM20.7 17.8h1.0v1.1881086223170456h-1.0zM21.3 23.1h1.0v1.5283687500879402h-1.0zM1.0 55.0h1.0v1.0625483880171844h-1.0zM-5.6 55.5h1.0v1.807037676685653h-1.0zM-1.3 55.9h1.0v1.123927468155526h-1.0zM20.5 20.1h1.0v1.1699315921736197h-1.0zM16.2 32.6h1.0v1.0874435332424952h-1.0zM8.5 49.7h1.0v1.6960465903638724h-1.0zM18.5 31.1h1.0v1.7113932155900873h-1.0zM15.3 38.3h1.0v1.8033080988938686h-1.0zM11.6 47.5h1.0v1.400230658187826h-1.0zM-1.9 52.7h1.0v1.2960470465549703h-1.0zM-4.9 56.8h1.0v1.86811480021187h-1.0zM4.8 55.0h1.0v1.7247899492427408h-1.0zM14.4 39.0h1.0v1.2443083948690128h-1.0zM-1.5 55.4h1.0v1.7497544521743926h-1.0zM11.8 42.6h1.0v1.2596681139821047h-1.0zM-1.8 57.3h1.0v1.9576046049364493h-1.0zM6.9 50.2h1.0v1.8903279710139742h-1.0zM-6.4 56.9h1.0v1.6509276376023574h-1.0zM-4.3 54.7h1.0v1.1209274825057887h-1.0zM6.0 53.5h1.0v1.2955283796222097h-1.0zM14.4 42.5h1.0v1.3135867140166906h-1.0zM0.9 57.2h1.0v1.2450025881385693h-1.0zM0.8 55.9h1.0v1.109854361442633h-1.0zM13.9 38.9h1.0v1.4385948579777927h-1.0zM8.1 51.4h1.0v1.9165589623357486h-1.0zM-2.6 55.7h1.0v1.2006216668829321h-1.0zM20.3 29.4h1.0v1.754333997471885h-1.0zM-2.9 55.8h1.0v1.4664624164248017h-1.0zM-1.5 52.8h1.0v1.0239838748967967h-1.0zM18.8 28.5h1.0v1.7444496758169095h-1.0zM3.7 55.7h1.0v1.404679841145045h-1.0zM2.9 55.7h1.0v1.5989829097297104h-1.0zM22.5 6.6h1.0v1.9642544469927992h-1.0zM3.6 54.6h1.0v1.2195689370729736h-1.0zM-1.2 53.6h1.0v1.1813217472520714h-1.0zM17.9 35.4h1.0v1.3579518417512513h-1.0zM23.9 7.7h1.0v1.7535638308512458h-1.0zM-3.4 58.7h1.0v1.099596641588155h-1.0zM20.8 12.5h1.0v1.940898311176589h-1.0zM18.1 28.6h1.0v1.6507151324165896h-1.0zM2.9 56.9h1.0v1.6727841787099222h-1.0zM2.0 56.6h1.0v1.362178717178896h-1.0zM12.6 50.6h1.0v1.7112365355051322h-1.0zM9.7 48.9h1.0v1.789227551091462h-1.0zM22.5 19.6h1.0v1.8535021724929295h-1.0zM8.0 52.4h1.0v1.176539653082641h-1.0zM19.9 25.1h1.0v1.0505855363675427h-1.0zM12.4 47.9h1.0v1.7221458325248586h-1.0zM6.8 54.0h1.0v1.3455711163839348h-1.0zM16.0 38.7h1.0v1.0603997006710086h-1.0zM-5.0 57.2h1.0v1.3405286884021783h-1.0zM13.2 45.5h1.0v1.4366929922591232h-1.0zM13.7 39.7h1.0v1.0617860547035765h-1.0zM0.9 55.3h1.0v1.9684941733294674h-1.0zM4.2 52.4h1.0v1.838607562858353h-1.0zM16.4 34.8h1.0v1.4711591612879924h-1.0zM10.4 46.8h1.0v1.2465239889027704h-1.0zM-3.0 55.1h1.0v1.7590712853555552h-1.0zM8.4 51.8h1.0v1.7219522483471181h-1.0zM-1.7 55.0h1.0v1.3312378306273902h-1.0zM-4.9 55.3h1.0v1.395157680877325h-1.0zM10.7 51.8h1.0v1.0190921061643352h-1.0zM12.6 47.7h1.0v1.7946464715556152h-1.0zM3.7 54.6h1.0v1.7010231660346733h-1.0zM5.4 52.8h1.0v1.9686782985403681h-1.0zM19.2 33.5h1.0v1.5919681596933801h-1.0zM3.5 51.2h1.0v1.97086113214505h-1.0zM5.0 54.6h1.0v1.6728893320212275h-1.0zM16.4 37.5h1.0v1.7763708473026942h-1.0zM-0.3 54.7h1.0v1.0440811198429425h-1.0zM21.2 23.9h1.0v1.974745939404031h-1.0zM0.8 55.8h1.0v1.4875449090247987h-1.0zM4.4 53.2h1.0v1.362772828390267h-1.0zM10.6 49.2h1.0v1.8090556143366885h-1.0zM7.0 51.7h1.0v1.0037278961938707h-1.0zM21.4 21.4h1.0v1.6234715220278h-1.0zM1.6 54.8h1.0v1.1066011585528894h-1.0zM-0.6 55.5h1.0v1.087725809737719h-1.0zM20.5 26.9h1.0v1.9709463614034621h-1.0zM12.0 45.2h1.0v1.4966255947242306h-1.0zM1.8 53.0h1.0v1.1155477734127492h-1.0zM12.6 44.2h1.0v1.8434310944469332h-1.0zM2.2 55.1h1.0v1.8926704365484621h-1.0zM6.6 52.6h1.0v1.4602308915945539h-1.0zM-3.1 55.2h1.0v1.8449953473763014h-1.0zM10.1 49.0h1.0v1.6346251406819003h-1.0zM17.7 31.5h1.0v1.2627661190634487h-1.0zM-2.2 57.7h1.0v1.4699177499979181h-1.0zM17.4 34.3h1.0v1.004687608412871h-1.0zM10.8 45.8h1.0v1.3306895334204862h-1.0zM-5.0 56.2h1.0v1.929361553261542h-1.0zM-3.4 55.2h1.0v1.9485216672958212h-1.0zM22.2 16.4h1.0v1.6295221738463788h-1.0zM-3.8 56.4h1.0v1.2838630032829186h-1.0zM-3.6 55.4h1.0v1.1062191123555296h-1.0zM6.6 54.6h1.0v1.3983588819759962h-1.0zM4.0 53.5h1.0v1.9400772977932434h-1.0zM18.0 33.2h1.0v1.9100078936378067h-1.0zM5.9 54.8h1.0v1.747594729642155h-1.0zM11.9 48.3h1.0v1.7177148733954755h-1.0zM8.6 48.2h1.0v1.6197524106264742h-1.0zM12.3 45.8h1.0v1.4027914364005711h-1.0zM4.7 54.2h1.0v1.9187594314027974h-1.0zM19.9 23.0h1.0v1.5788868495409685h-1.0zM-1.5 55.8h1.0v1.6663385880782793h-1.0zM-0.3 54.9h1.0v1.1708300871876598h-1.0zM16.3 30.2h1.0v1.0853395497317693h-1.0zM23.9 13.7h1.0v1.9880500174110618h-1.0zM19.6 26.2h1.0v1.3367826114687649h-1.0zM5.1 56.8h1.0v1.2565024157418172h-1.0zM-1.8 55.1h1.0v1.6487235378855996h-1.0zM81.2 57.0h1.0v1.0475730615236196h-1.0zM82.8 58.4h1.0v1.657474784210755h-1.0zM86.4 51.9h1.0v1.5679832044116169h-1.0zM81.0 54.6h1.0v1.9068536136689873h-1.0zM89.1 46.6h1.0v1.7350108275503866h-1.0zM85.9 51.2h1.0v1.680659085999519h-1.0zM95.1 27.9h1.0v1.4890281516554444h-1.0zM97.6 22.8h1.0v1.4047298242133581h-1.0zM79.1 54.8h1.0v1.3817799146955685h-1.0zM78.3 56.7h1.0v1.0672416422135051h-1.0zM95.8 19.3h1.0v1.0689715088105425h-1.0zM78.4 54.7h1.0v1.1127369717568996h-1.0zM83.8 53.7h1.0v1.6321944107559874h-1.0zM80.0 58.6h1.0v1.468433310306715h-1.0zM90.9 39.1h1.0v1.0936088189276179h-1.0zM86.3 52.7h1.0v1.3518623510487848h-1.0zM93.2 29.0h1.0v1.0834877851181721h-1.0zM82.3 53.6h1.0v1.0355541165766555h-1.0zM88.6 50.4h1.0v1.8957989391821704h-1.0zM92.4 36.6h1.0v1.7815628617296058h-1.0zM78.2 55.6h1.0v1.932354495374029h-1.0zM96.6 19.3h1.0v1.1554386813001047h-1.0zM80.0 56.7h1.0v1.2871083784849957h-1.0zM83.1 53.7h1.0v1.2931491744448405h-1.0zM87.4 54.5h1.0v1.6047647404049932h-1.0zM77.6 56.0h1.0v1.3574566201973113h-1.0zM96.0 17.6h1.0v1.859106624038163h-1.0zM93.7 32.8h1.0v1.8736091351666282h-1.0zM81.7 56.6h1.0v1.6344137888309507h-1.0zM91.8 40.7h1.0v1.614542967547013h-1.0zM78.7 56.8h1.0v1.7646920628485643h-1.0zM86.9 51.3h1.0v1.8516630848215063h-1.0zM78.5 57.9h1.0v1.8310996177521202h-1.0zM77.9 54.3h1.0v1.211717072253086h-1.0zM94.6 28.9h1.0v1.4698200663345513h-1.0zM93.0 33.4h1.0v1.291478349904183h-1.0zM89.5 49.9h1.0v1.0186911341977027h-1.0zM90.2 41.3h1.0v1.5042698683235525h-1.0zM85.1 49.7h1.0v1.8833474811594662h-1.0zM81.2 56.2h1.0v1.344731446633911h-1.0zM91.1 37.4h1.0v1.9119679219327403h-1.0zM78.1 56.0h1.0v1.335947050295289h-1.0zM97.3 15.3h1.0v1.5255118080502985h-1.0zM84.9 55.1h1.0v1.2701669869377952h-1.0zM88.9 46.1h1.0v1.1179133027702257h-1.0zM98.6 10.4h1.0v1.9366953736455907h-1.0zM88.1 48.0h1.0v1.7554810470236228h-1.0zM98.8 7.3h1.0v1.9116483247060545h-1.0zM98.0 14.4h1.0v1.543483407956972h-1.0zM77.6 54.1h1.0v1.839089216793297h-1.0zM88.4 47.4h1.0v1.9464477119219286h-1.0zM78.8 55.1h1.0v1.2821295133057955h-1.0zM81.9 54.1h1.0v1.022428843604131h-1.0zM85.9 54.0h1.0v1.664422489598643h-1.0zM78.3 55.9h1.0v1.0509017024203722h-1.0zM85.2 53.6h1.0v1.2495576960928192h-1.0zM84.8 55.1h1.0v1.0049462730308831h-1.0zM91.0 43.7h1.0v1.2489345764224629h-1.0zM88.5 46.7h1.0v1.415921009536946h-1.0zM89.1 45.3h1.0v1.6982170139227957h-1.0zM92.7 38.4h1.0v1.3947693250403166h-1.0zM92.3 36.6h1.0v1.1592177515144892h-1.0zM99.3 9.6h1.0v1.3214776991906247h-1.0zM88.2 48.2h1.0v1.43083876463757h-1.0zM81.9 55.6h1.0v1.649346902283518h-1.0zM94.9 22.5h1.0v1.3635081070809365h-1.0zM79.2 56.7h1.0v1.1636198478764133h-1.0zM79.1 55.9h1.0v1.0626243220880043h-1.0zM91.0 38.6h1.0v1.5276737727880874h-1.0zM76.4 55.4h1.0v1.731742086482325h-1.0zM81.5 53.2h1.0v1.6817099499759256h-1.0zM87.6 49.2h1.0v1.2853946919508885h-1.0zM94.4 33.0h1.0v1.0449494564095683h-1.0zM91.7 42.0h1.0v1.8841598176619452h-1.0zM91.8 43.2h1.0v1.8741186204342495h-1.0zM87.2 52.5h1.0v1.4032646764774155h-1.0zM84.3 52.6h1.0v1.4078078859613905h-1.0zM83.7 51.4h1.0v1.3292067398818945h-1.0zM98.1 7.8h1.0v1.4045063001125184h-1.0zM84.5 53.4h1.0v1.6260560492560416h-1.0zM82.6 56.3h1.0v1.5530449314084669h-1.0zM85.3 51.4h1.0v1.3041286384599236h-1.0zM82.2 51.9h1.0v1.8093173164871112h-1.0zM90.2 45.1h1.0v1.5153199830914161h-1.0zM77.6 54.1h1.0v1.3406744447523118h-1.0zM91.1 43.1h1.0v1.5642809143187093h-1.0zM76.3 55.3h1.0v1.596475933159176h-1.0zM92.6 36.5h1.0v1.682807716540231h-1.0zM98.9 7.9h1.0v1.9600988044061003h-1.0zM84.0 51.5h1.0v1.2557151826580115h-1.0zM89.3 47.4h1.0v1.107949721333613h-1.0zM90.4 45.9h1.0v1.3757966446924783h-1.0zM79.7 56.5h1.0v1.6744000178848508h-1.0zM75.9 54.3h1.0v1.506352523533164h-1.0zM78.5 52.9h1.0v1.0410423965052868h-1.0zM81.4 55.5h1.0v1.888667994146834h-1.0zM92.9 30.6h1.0v1.2862544319264635h-1.0zM88.4 47.5h1.0v1.1611651021794713h-1.0zM93.2 42.0h1.0v1.6635718840353004h-1.0zM92.9 30.0h1.0v1.2594601209916285h-1.0zM87.9 48.4h1.0v1.7620469329688713h-1.0zM96.7 13.5h1.0v1.0860344188536377h-1.0zM93.3 35.6h1.0v1.4644731136397497h-1.0zM93.5 33.8h1.0v1.1917156948709162h-1.0zM92.3 42.9h1.0v1.2834202333008227h-1.0zM97.4 15.2h1.0v1.4394578594120875h-1.0zM86.3 52.3h1.0v1.8282826491228734h-1.0zM77.3 58.7h1.0v1.3746606466128966h-1.0zM78.1 56.1h1.0v1.038991608843952h-1.0zM88.6 43.3h1.0v1.3260726370053715h-1.0zM97.4 14.5h1.0v1.2997794144037438h-1.0zM92.9 36.0h1.0v1.303240551038472h-1.0zM85.8 50.0h1.0v1.8908411497173478h-1.0zM76.8 56.4h1.0v1.182563871573299h-1.0zM97.0 15.9h1.0v1.2047043198097231h-1.0zM84.0 54.4h1.0v1.6055912045505758h-1.0zM93.4 36.7h1.0v1.5153488063089284h-1.0zM79.5 57.1h1.0v1.4580764132084343h-1.0zM78.2 55.0h1.0v1.234105173239401h-1.0zM83.0 55.1h1.0v1.5516025452541933h-1.0zM99.2 11.5h1.0v1.118909627602494h-1.0zM86.6 51.8h1.0v1.945994890709568h-1.0zM86.9 50.1h1.0v1.5762033266134594h-1.0zM78.9 56.6h1.0v1.415576381933207h-1.0zM80.5 56.3h1.0v1.3806074268776083h-1.0zM96.4 22.9h1.0v1.9805134500845973h-1.0zM97.2 2.7h1.0v1.6913768029489047h-1.0zM94.1 31.7h1.0v1.5302139868004725h-1.0zM80.6 54.3h1.0v1.2185008314943906h-1.0zM83.3 55.2h1.0v1.741255017416256h-1.0zM81.3 56.9h1.0v1.8471705246144907h-1.0zM96.6 30.3h1.0v1.088911696951797h-1.0zM92.4 44.7h1.0v1.9673131581572016h-1.0zM80.5 52.5h1.0v1.5707519826118517h-1.0zM94.9 26.1h1.0v1.6918435952652144h-1.0zM88.3 47.6h1.0v1.3780871703229316h-1.0zM148.6 56.6h1.0v1.591239312735736h-1.0zM154.2 54.3h1.0v1.0727642583127943h-1.0zM155.9 54.2h1.0v1.8128079673679915h-1.0zM147.4 54.3h1.0v1.7572546248078713h-1.0zM151.0 56.4h1.0v1.7181275109203806h-1.0zM164.8 46.1h1.0v1.1436190153504793h-1.0zM169.6 20.1h1.0v1.3220851193708962h-1.0zM154.6 54.6h1.0v1.0244647203773223h-1.0zM162.6 45.5h1.0v1.897003260867745h-1.0zM166.7 41.8h1.0v1.9566497043246147h-1.0zM157.6 54.4h1.0v1.9416681443093222h-1.0zM171.4 19.8h1.0v1.1664619396581362h-1.0zM149.4 54.9h1.0v1.2021503389036114h-1.0zM158.7 51.5h1.0v1.937731249679525h-1.0zM175.0 8.1h1.0v1.5351106240304537h-1.0zM158.5 52.5h1.0v1.5772336862863423h-1.0zM152.2 56.2h1.0v1.0786903352609882h-1.0zM165.3 41.6h1.0v1.7558359895220441h-1.0zM151.9 57.4h1.0v1.8551828807726733h-1.0zM161.0 51.2h1.0v1.7104216941234234h-1.0zM157.7 51.9h1.0v1.2453955087612354h-1.0zM163.8 46.0h1.0v1.3159144058014118h-1.0zM155.2 53.8h1.0v1.6377253655168256h-1.0zM148.3 55.8h1.0v1.017098548737707h-1.0zM150.1 57.8h1.0v1.8036766820729415h-1.0zM152.9 56.4h1.0v1.37926706221656h-1.0zM166.7 42.7h1.0v1.7956737569786299h-1.0zM167.8 40.0h1.0v1.9652690113789977h-1.0zM176.7 12.7h1.0v1.46678936124822h-1.0zM166.7 42.9h1.0v1.7662142367096547h-1.0zM150.1 57.3h1.0v1.1305775979740214h-1.0zM158.3 54.6h1.0v1.4975847358100287h-1.0zM152.9 58.2h1.0v1.9647354573156675h-1.0zM150.6 56.4h1.0v1.347791246916684h-1.0zM151.7 55.4h1.0v1.5388650464850318h-1.0zM171.5 21.3h1.0v1.0123426968357454h-1.0zM160.3 49.4h1.0v1.0191900169688601h-1.0zM151.6 54.5h1.0v1.0536172116649243h-1.0zM161.2 52.4h1.0v1.8108162726021462h-1.0zM171.2 20.7h1.0v1.7497153787461945h-1.0zM152.8 55.9h1.0v1.3680632079497348h-1.0zM164.9 42.0h1.0v1.0104776223051815h-1.0zM166.0 40.3h1.0v1.1295587457883833h-1.0zM168.7 33.7h1.0v1.232121953572555h-1.0zM162.7 47.7h1.0v1.225514988350545h-1.0zM151.1 56.5h1.0v1.1320713438921242h-1.0zM162.8 49.9h1.0v1.6318126723079927h-1.0zM166.5 37.0h1.0v1.3148520835517368h-1.0zM171.5 24.5h1.0v1.1993816449222376h-1.0zM168.1 33.1h1.0v1.5591976710784337h-1.0zM155.8 55.9h1.0v1.329867726336266h-1.0zM175.7 12.1h1.0v1.5501129310711548h-1.0zM170.8 22.1h1.0v1.5524615594632314h-1.0zM149.0 58.4h1.0v1.0582223902762067h-1.0zM156.0 56.9h1.0v1.576890814276303h-1.0zM150.1 55.0h1.0v1.5418388236157343h-1.0zM160.2 51.6h1.0v1.495696671698343h-1.0zM174.3 9.1h1.0v1.2173667203071665h-1.0zM150.2 56.8h1.0v1.7642388322515148h-1.0zM172.5 16.4h1.0v1.4742994468731898h-1.0zM161.5 50.0h1.0v1.1462968417464923h-1.0zM171.7 26.8h1.0v1.997527826851527h-1.0zM170.6 23.6h1.0v1.6765434033206004h-1.0zM160.1 50.3h1.0v1.3768151445907961h-1.0zM169.9 30.2h1.0v1.245468997257189h-1.0zM166.3 40.8h1.0v1.292342677685478h-1.0zM148.7 56.7h1.0v1.5634971042725332h-1.0zM173.9 17.1h1.0v1.7018663913273966h-1.0zM161.2 50.5h1.0v1.1885630237880007h-1.0zM174.1 11.1h1.0v1.105624242824856h-1.0zM164.1 42.9h1.0v1.8353245336078783h-1.0zM165.2 39.8h1.0v1.6439300779836405h-1.0zM171.5 21.1h1.0v1.7337920398421698h-1.0zM170.7 31.0h1.0v1.8751279399020735h-1.0zM159.4 55.0h1.0v1.8896255377565003h-1.0zM174.0 18.6h1.0v1.9518381503059756h-1.0zM160.4 49.2h1.0v1.3937781007956223h-1.0zM159.7 49.0h1.0v1.849855341074741h-1.0zM157.5 54.2h1.0v1.201480929665472h-1.0zM157.7 55.9h1.0v1.0458103900920261h-1.0zM149.1 56.8h1.0v1.2280579814031958h-1.0zM161.8 49.8h1.0v1.0965371137277176h-1.0zM168.7 32.8h1.0v1.8318789728976184h-1.0zM168.8 35.3h1.0v1.4831034668039265h-1.0zM147.3 56.9h1.0v1.5545884923580466h-1.0zM167.0 38.4h1.0v1.1689095080254326h-1.0zM172.2 23.3h1.0v1.7880403102067617h-1.0zM158.9 53.0h1.0v1.3952938792508287h-1.0zM161.2 50.1h1.0v1.0397725725309137h-1.0zM172.3 20.1h1.0v1.190190217981527h-1.0zM153.3 54.6h1.0v1.874248498770586h-1.0zM159.2 50.4h1.0v1.2338888635340104h-1.0zM150.7 57.1h1.0v1.161811553357833h-1.0zM148.8 54.8h1.0v1.7315369984581546h-1.0zM163.9 43.7h1.0v1.6406921175745834h-1.0zM161.0 46.0h1.0v1.686993007687546h-1.0zM155.9 52.6h1.0v1.6483092761056777h-1.0zM170.4 24.9h1.0v1.2693277327504393h-1.0zM156.1 54.9h1.0v1.149834165546826h-1.0zM151.5 56.2h1.0v1.4128352529220392h-1.0zM153.4 52.7h1.0v1.6347320385619484h-1.0zM158.0 52.3h1.0v1.5999005007727556h-1.0zM163.2 46.3h1.0v1.6138708811326175h-1.0zM149.5 56.7h1.0v1.7024108483977005h-1.0zM161.5 46.6h1.0v1.5236958745727929h-1.0zM153.0 54.1h1.0v1.9890510912515713h-1.0zM149.4 57.4h1.0v1.7459885565515552h-1.0zM154.2 55.0h1.0v1.966552343941494h-1.0zM170.9 31.1h1.0v1.7845312632422319h-1.0zM171.2 25.8h1.0v1.9997730957582445h-1.0zM158.0 55.1h1.0v1.734570229853162h-1.0zM169.7 29.8h1.0v1.66956434768541h-1.0zM172.4 18.1h1.0v1.1509730438850434h-1.0zM154.8 56.1h1.0v1.2054788188494636h-1.0zM166.6 36.8h1.0v1.8280927726560532h-1.0zM151.6 56.9h1.0v1.3132361159345414h-1.0zM148.7 57.2h1.0v1.157130149534821h-1.0zM152.4 57.9h1.0v1.8919144151681466h-1.0zM158.5 53.0h1.0v1.5742758600258635h-1.0zM162.5 47.8h1.0v1.6406942846072852h-1.0zM173.0 19.7h1.0v1.8027933893770038h-1.0zM149.3 54.1h1.0v1.2863355274243342h-1.0zM165.9 43.8h1.0v1.2594076290838108h-1.0zM159.5 51.6h1.0v1.9815837240578444h-1.0zM168.2 35.2h1.0v1.877222581141574h-1.0zM151.2 57.5h1.0v1.966368576940368h-1.0zM151.0 55.1h1.0v1.9303165967484692h-1.0zM165.4 47.1h1.0v1.6437943843193676h-1.0zM155.6 55.7h1.0v1.2079405078550831h-1.0zM172.2 22.4h1.0v1.2931166404596637h-1.0zM150.5 56.6h1.0v1.1533964253978715h-1.0zM149.8 56.9h1.0v1.6416188233271014h-1.0z"/><path fill="#4f92cc" fill-opacity="0.4" d="M0.0 56.8h1.0v1.0927930725042105h-1.0zM0.0 62.1h1.0v1.8110288282982137h-1.0zM1.0 58.5h1.0v2.1468562993192197h-1.0zM1.0 58.2h1.0v1.7450121929484814h-1.0zM2.0 61.9h1.0v2.228919756753612h-1.0zM2.0 57.1h1.0v2.0240845890811774h-1.0zM3.0 58.0h1.0v2.3114985660607292h-1.0zM4.0 57.0h1.0v2.0442951788617028h-1.0zM4.0 59.1h1.0v1.7988885962393186h-1.0zM5.0 65.3h1.0v2.1252106897456877h-1.0zM5.0 56.6h1.0v2.333516506610681h-1.0zM6.0 62.5h1.0v1.7517428797543726h-1.0zM6.0 60.4h1.0v1.3890471929053152h-1.0zM6.0 60.6h1.0v2.10988307394591h-1.0zM7.0 60.7h1.0v1.372741481564635h-1.0zM7.0 61.7h1.0v2.0390965038223436h-1.0zM8.0 62.5h1.0v1.2421990898213187h-1.0zM8.0 63.7h1.0v1.6319147109509782h-1.0zM9.0 53.7h1.0v1.6089217418734127h-1.0zM9.0 59.9h1.0v1.1328488826933718h-1.0zM10.0 61.6h1.0v2.228380210512571h-1.0zM10.0 59.3h1.0v1.984764160532522h-1.0zM11.0 60.5h1.0v1.5462120282849654h-1.0zM11.0 64.5h1.0v1.3666697409128403h-1.0zM12.0 62.3h1.0v1.1573747066030455h-1.0zM13.0 65.2h1.0v1.1151098103710653h-1.0zM13.0 55.0h1.0v1.8995579087818981h-1.0zM14.0 61.4h1.0v2.1212292670167874h-1.0zM15.0 61.4h1.0v1.5410639858851076h-1.0zM15.0 52.9h1.0v2.2520139924657885h-1.0zM15.0 58.6h1.0v2.4565578952326774h-1.0zM16.0 62.8h1.0v1.9839929890483434h-1.0zM16.0 59.6h1.0v1.7247730369566572h-1.0zM16.0 63.8h1.0v1.1127558895335254h-1.0zM16.0 63.5h1.0v1.8255798133465488h-1.0zM17.0 56.1h1.0v1.6477550300278914h-1.0zM17.0 62.6h1.0v2.145536153342908h-1.0zM17.0 62.7h1.0v2.452421898996567h-1.0zM18.0 64.9h1.0v1.7923797142091142h-1.0zM18.0 60.0h1.0v1.8062144775113607h-1.0zM19.0 66.2h1.0v1.3975329335086502h-1.0zM20.0 57.5h1.0v1.7014237422335188h-1.0zM20.0 56.4h1.0v1.996644795597091h-1.0zM20.0 51.2h1.0v1.0043060862821565h-1.0zM21.0 58.8h1.0v2.347827683451954h-1.0zM21.0 62.5h1.0v1.3932587103520095h-1.0zM22.0 60.0h1.0v1.0507955791245016h-1.0zM22.0 61.3h1.0v1.241038579273102h-1.0zM22.0 52.9h1.0v1.3125115606534024h-1.0zM23.0 53.7h1.0v1.1534986310209194h-1.0zM23.0 64.3h1.0v1.0605427981564646h-1.0zM24.0 61.9h1.0v1.3051116581797588h-1.0zM24.0 58.8h1.0v1.152081651194139h-1.0zM24.0 59.0h1.0v1.2455339774240417h-1.0zM25.0 58.4h1.0v1.8592967609561375h-1.0zM26.0 58.4h1.0v1.5847547754591678h-1.0zM26.0 57.2h1.0v1.8250777555518927h-1.0zM26.0 58.2h1.0v1.3738882738248241h-1.0zM27.0 59.9h1.0v2.383188989760133h-1.0zM27.0 60.7h1.0v1.0813973965353394h-1.0zM27.0 60.2h1.0v1.2905609547900125h-1.0zM28.0 57.9h1.0v2.188186237046897h-1.0zM28.0 63.3h1.0v1.9544780126767862h-1.0zM28.0 62.9h1.0v2.4492323756920404h-1.0zM29.0 54.1h1.0v1.924078076619111h-1.0zM29.0 57.0h1.0v1.0716645471605282h-1.0zM31.0 60.8h1.0v2.4142759387791157h-1.0zM31.0 59.3h1.0v1.8306816370699728h-1.0zM31.0 57.3h1.0v2.0286005562743172h-1.0zM33.0 55.1h1.0v1.0726120551947003h-1.0zM33.0 66.7h1.0v2.3655012136790328h-1.0zM33.0 63.0h1.0v1.0464720404415115h-1.0zM34.0 57.7h1.0v1.6019058517572051h-1.0zM34.0 55.4h1.0v1.557924991914445h-1.0zM36.0 63.0h1.0v1.0331759431415706h-1.0zM36.0 59.6h1.0v1.9055631690275712h-1.0zM36.0 62.7h1.0v2.2793369825560044h-1.0zM36.0 57.8h1.0v1.6808540422379468h-1.0zM37.0 62.3h1.0v1.3074728814955363h-1.0zM37.0 56.7h1.0v1.7682867424499964h-1.0zM38.0 60.8h1.0v1.99905668167915h-1.0zM38.0 58.1h1.0v1.7021513245568283h-1.0zM38.0 60.3h1.0v2.1697700340346744h-1.0zM40.0 57.4h1.0v1.2405361105587427h-1.0zM40.0 55.5h1.0v1.9979508142562667h-1.0zM41.0 63.2h1.0v2.240087288869339h-1.0zM41.0 57.4h1.0v1.500582763967095h-1.0zM41.0 63.3h1.0v2.3094469812485277h-1.0zM42.0 57.3h1.0v1.3187520880938415h-1.0zM43.0 55.6h1.0v2.471176760144114h-1.0zM43.0 60.6h1.0v1.1243871038165594h-1.0zM44.0 62.8h1.0v1.5834230331077717h-1.0zM44.0 59.7h1.0v2.291451329383052h-1.0zM44.0 57.8h1.0v1.9134223020797112h-1.0zM45.0 63.8h1.0v2.2112221619256154h-1.0zM46.0 56.7h1.0v1.0939468543924364h-1.0zM46.0 59.2h1.0v1.8693856431660012h-1.0zM46.0 65.5h1.0v1.4346945773380895h-1.0zM47.0 64.4h1.0v2.306000378417637h-1.0zM48.0 59.8h1.0v2.1093559896203127h-1.0zM48.0 59.8h1.0v1.2984275334725808h-1.0zM48.0 60.4h1.0v1.8846785156965105h-1.0zM48.0 60.1h1.0v1.4858776186222733h-1.0zM49.0 57.9h1.0v1.9425559648329842h-1.0zM49.0 57.1h1.0v1.270359501768549h-1.0zM50.0 57.1h1.0v1.2432905292974676h-1.0zM50.0 56.0h1.0v1.7661766388283309h-1.0zM51.0 60.3h1.0v1.77768877682068h-1.0zM51.0 56.5h1.0v2.296758002925394h-1.0zM51.0 65.9h1.0v1.1354949848589875h-1.0zM52.0 60.4h1.0v1.1540131156732838h-1.0zM52.0 68.2h1.0v2.108122906033899h-1.0zM53.0 60.9h1.0v2.406371444109732h-1.0zM53.0 60.6h1.0v1.3605656345028632h-1.0zM53.0 56.8h1.0v2.0732928376896145h-1.0zM54.0 65.0h1.0v1.3986579990155548h-1.0zM54.0 58.0h1.0v1.7804575005210999h-1.0zM55.0 63.0h1.0v1.4555518844664062h-1.0zM55.0 60.6h1.0v1.2832061295857595h-1.0zM56.0 55.3h1.0v2.1081499255030924h-1.0zM56.0 66.1h1.0v1.8787518343044196h-1.0zM57.0 62.1h1.0v1.6534688127275496h-1.0zM57.0 58.7h1.0v2.3802426233524194h-1.0zM57.0 59.4h1.0v1.0383628425833815h-1.0zM58.0 66.8h1.0v1.730069593358496h-1.0zM58.0 53.6h1.0v2.1509920875497626h-1.0zM58.0 57.9h1.0v1.1383641679293177h-1.0zM58.0 62.0h1.0v1.1657675987771807h-1.0zM59.0 61.4h1.0v1.8298746373544628h-1.0zM60.0 64.0h1.0v2.3483016662335396h-1.0zM60.0 58.4h1.0v2.4400434853900217h-1.0zM61.0 53.0h1.0v1.830761517341465h-1.0zM61.0 63.7h1.0v1.2867932371833979h-1.0zM62.0 59.3h1.0v2.2777863510371272h-1.0zM63.0 58.5h1.0v1.5498727486985695h-1.0zM63.0 60.6h1.0v2.055679545170612h-1.0zM63.0 59.5h1.0v1.3726314976804648h-1.0zM64.0 63.1h1.0v2.1656808843591966h-1.0zM65.0 57.7h1.0v1.3021163862553096h-1.0zM65.0 62.9h1.0v1.2057856262090043h-1.0zM66.0 64.1h1.0v1.0650951347537172h-1.0zM66.0 58.8h1.0v1.1694825086145055h-1.0zM66.0 56.3h1.0v1.6676087469085243h-1.0zM66.0 58.9h1.0v1.0683702678696902h-1.0zM67.0 62.0h1.0v2.2593679779597062h-1.0zM67.0 66.8h1.0v1.1532656228313258h-1.0zM67.0 59.8h1.0v1.2768142593723353h-1.0zM67.0 56.8h1.0v1.4802334222595306h-1.0zM68.0 61.5h1.0v1.0599146356880973h-1.0zM68.0 60.0h1.0v2.26123465535127h-1.0zM68.0 57.7h1.0v1.631812113046168h-1.0zM69.0 58.8h1.0v2.0841526241203336h-1.0zM69.0 57.7h1.0v1.8566881204524148h-1.0zM71.0 60.8h1.0v1.559521680845107h-1.0zM71.0 61.4h1.0v1.5336103910449854h-1.0zM72.0 59.8h1.0v1.730755457674431h-1.0zM72.0 55.4h1.0v1.930631531234436h-1.0zM72.0 65.2h1.0v2.0393785667990723h-1.0zM73.0 59.6h1.0v1.750002592705483h-1.0zM73.0 60.0h1.0v2.3085740528916263h-1.0zM74.0 52.4h1.0v2.2138266515152303h-1.0zM74.0 67.3h1.0v1.6796903320213576h-1.0zM74.0 60.3h1.0v1.594111281283873h-1.0zM74.0 64.3h1.0v1.2157223519104288h-1.0zM75.0 64.7h1.0v1.1189625979227358h-1.0zM76.0 63.1h1.0v1.9811387135184335h-1.0zM76.0 60.5h1.0v1.0840263264082555h-1.0zM76.0 60.6h1.0v1.5367671305017614h-1.0zM78.0 63.8h1.0v1.4890681329276496h-1.0zM79.0 62.0h1.0v1.753944442451179h-1.0zM80.0 64.9h1.0v1.7948976459380912h-1.0zM80.0 59.6h1.0v2.097097528044748h-1.0zM81.0 60.3h1.0v2.4829637511223406h-1.0zM82.0 58.8h1.0v2.3859213323800006h-1.0zM82.0 59.5h1.0v2.286558688300416h-1.0zM82.0 66.9h1.0v1.7830649493950357h-1.0zM82.0 47.5h1.0v1.098775128953107h-1.0zM83.0 57.1h1.0v1.3564439150252807h-1.0zM83.0 63.2h1.0v1.7850794085125765h-1.0zM84.0 59.3h1.0v1.6118864353481723h-1.0zM84.0 57.1h1.0v1.5285287749613736h-1.0zM84.0 61.1h1.0v1.9278335667208946h-1.0zM84.0 59.3h1.0v2.1340575789531866h-1.0zM85.0 54.8h1.0v2.388667769877332h-1.0zM86.0 54.1h1.0v2.0215943163389234h-1.0zM86.0 64.6h1.0v1.4567345557569242h-1.0zM86.0 56.6h1.0v1.6963368280565942h-1.0zM87.0 66.8h1.0v1.1078920790660693h-1.0zM87.0 54.6h1.0v2.0124377207681836h-1.0zM88.0 58.5h1.0v1.464349935709354h-1.0zM88.0 63.7h1.0v2.470146736847051h-1.0zM88.0 65.3h1.0v2.461260844390195h-1.0zM89.0 56.3h1.0v1.301987399977162h-1.0zM89.0 67.5h1.0v1.8681815928735603h-1.0zM89.0 64.8h1.0v2.4510318823305424h-1.0zM90.0 56.6h1.0v2.310150818937773h-1.0zM90.0 66.0h1.0v1.4550752619173803h-1.0zM90.0 66.1h1.0v1.175606405210595h-1.0zM92.0 62.4h1.0v2.4959407002051996h-1.0zM92.0 61.6h1.0v2.268587906274332h-1.0zM93.0 60.3h1.0v1.8424086522680736h-1.0zM93.0 55.1h1.0v2.1904700356731777h-1.0zM93.0 64.0h1.0v2.2386540067831326h-1.0zM94.0 54.6h1.0v1.5845047452093728h-1.0zM94.0 65.4h1.0v2.436560539352568h-1.0zM94.0 61.7h1.0v2.223777785266656h-1.0zM95.0 54.0h1.0v2.3929177308827034h-1.0zM95.0 59.3h1.0v1.9360265433542247h-1.0zM95.0 58.8h1.0v1.399516507512084h-1.0zM95.0 56.6h1.0v1.9478861244728487h-1.0zM96.0 51.3h1.0v1.9731981689220577h-1.0zM96.0 64.8h1.0v1.7394890483061525h-1.0zM96.0 58.9h1.0v1.242812322454501h-1.0zM97.0 63.0h1.0v2.022333624886834h-1.0zM97.0 57.2h1.0v2.4453969576122936h-1.0zM97.0 62.2h1.0v1.1687027574029702h-1.0zM97.0 56.3h1.0v1.2397710209188577h-1.0zM97.0 60.0h1.0v1.0659205185480816h-1.0zM98.0 52.6h1.0v2.1619149230849026h-1.0zM98.0 63.5h1.0v2.258808136080331h-1.0zM99.0 52.3h1.0v2.34822335876679h-1.0zM99.0 55.6h1.0v1.576496276397472h-1.0zM99.0 54.1h1.0v2.068031434722004h-1.0zM101.0 60.4h1.0v2.133318175016649h-1.0zM102.0 60.5h1.0v2.287189258119563h-1.0zM102.0 56.7h1.0v2.166205837029171h-1.0zM102.0 58.5h1.0v1.5064569055447334h-1.0zM102.0 62.6h1.0v1.3768571001433196h-1.0zM103.0 60.2h1.0v2.3708181538169883h-1.0zM103.0 58.0h1.0v2.417231949417724h-1.0zM104.0 60.2h1.0v1.8342788141813808h-1.0zM105.0 55.8h1.0v1.0813563577247312h-1.0zM105.0 61.4h1.0v1.0361077322144256h-1.0zM105.0 61.4h1.0v2.1033194050990245h-1.0zM106.0 59.8h1.0v2.02129440160512h-1.0zM107.0 65.3h1.0v1.4705060805194174h-1.0zM107.0 59.5h1.0v2.406916818588527h-1.0zM108.0 58.7h1.0v1.1692939779435696h-1.0zM109.0 61.7h1.0v1.988871339652542h-1.0zM110.0 60.6h1.0v1.3613126610378765h-1.0zM110.0 61.7h1.0v1.4227618280357848h-1.0zM110.0 58.3h1.0v1.6899298566054388h-1.0zM111.0 65.5h1.0v1.782315501987735h-1.0zM111.0 60.4h1.0v1.397954864075166h-1.0zM111.0 61.8h1.0v1.4209433868110288h-1.0zM112.0 62.2h1.0v2.2588981336898817h-1.0zM112.0 60.0h1.0v2.409162499750761h-1.0zM113.0 60.4h1.0v1.034432104623913h-1.0zM113.0 57.4h1.0v1.9113070422231446h-1.0zM113.0 56.8h1.0v1.8217940596312305h-1.0zM114.0 61.5h1.0v1.0262614068086973h-1.0zM114.0 62.6h1.0v1.7940742639099876h-1.0zM114.0 56.0h1.0v1.795624862458098h-1.0zM115.0 61.1h1.0v2.3346446996209753h-1.0zM115.0 66.1h1.0v1.3493598138340857h-1.0zM115.0 59.0h1.0v1.5562088981486961h-1.0zM116.0 60.7h1.0v1.1757135908582985h-1.0zM116.0 55.8h1.0v1.553821620712331h-1.0zM116.0 58.7h1.0v1.0970964200920552h-1.0zM117.0 59.6h1.0v1.5234030297416368h-1.0zM117.0 62.0h1.0v2.3908332446656466h-1.0zM117.0 60.8h1.0v1.936079525042268h-1.0zM117.0 61.3h1.0v1.1976475431591986h-1.0zM118.0 62.3h1.0v2.259916349879958h-1.0zM118.0 59.0h1.0v1.361384221362045h-1.0zM118.0 60.5h1.0v1.9596899679065756h-1.0zM119.0 57.7h1.0v1.1793773299270967h-1.0zM119.0 60.6h1.0v2.0286549707836166h-1.0zM119.0 58.9h1.0v1.9356101757328266h-1.0zM120.0 59.6h1.0v1.9864398882002376h-1.0zM120.0 54.5h1.0v1.474010841890975h-1.0zM121.0 61.5h1.0v1.290487325737402h-1.0zM121.0 64.1h1.0v1.041487149020552h-1.0zM121.0 62.2h1.0v2.4643472714855665h-1.0zM121.0 54.9h1.0v1.470164107227444h-1.0zM122.0 65.8h1.0v2.1322597803607706h-1.0zM122.0 59.7h1.0v1.3798256908120463h-1.0zM122.0 55.0h1.0v1.2003885646142134h-1.0zM123.0 61.4h1.0v1.2976604460914403h-1.0zM123.0 58.0h1.0v1.7149725066952222h-1.0zM123.0 57.6h1.0v1.4648228396322494h-1.0zM124.0 61.2h1.0v1.7727952538676814h-1.0zM124.0 61.4h1.0v2.488658477413208h-1.0zM125.0 59.3h1.0v1.635775806042378h-1.0zM126.0 61.1h1.0v2.416190769542753h-1.0zM126.0 63.7h1.0v1.622565468498775h-1.0zM127.0 65.0h1.0v2.450490725073439h-1.0zM127.0 62.5h1.0v1.1506597513790262h-1.0zM128.0 61.9h1.0v1.9245787075521021h-1.0zM128.0 61.0h1.0v1.5247589560112802h-1.0zM128.0 57.4h1.0v1.4989317050712057h-1.0zM129.0 58.0h1.0v2.122074922511721h-1.0zM129.0 62.4h1.0v1.895487824003971h-1.0zM131.0 65.5h1.0v1.4774100666026178h-1.0zM131.0 59.7h1.0v2.2015930221701105h-1.0zM131.0 63.9h1.0v1.7331135267621511h-1.0zM132.0 61.5h1.0v1.0975581182649363h-1.0zM132.0 57.4h1.0v1.4168501471958868h-1.0zM132.0 61.2h1.0v1.751230239844722h-1.0zM132.0 64.1h1.0v2.1533165563466814h-1.0zM132.0 53.1h1.0v1.601884614863554h-1.0zM133.0 64.8h1.0v2.0937105598784997h-1.0zM133.0 55.8h1.0v1.9676201923109629h-1.0zM133.0 58.9h1.0v2.3948671768210037h-1.0zM134.0 62.2h1.0v2.3483220130608693h-1.0zM134.0 57.2h1.0v1.5514902707067646h-1.0zM134.0 60.1h1.0v2.1428188082662762h-1.0zM136.0 59.2h1.0v1.7733429292931573h-1.0zM136.0 67.4h1.0v2.0122330259502537h-1.0zM136.0 55.4h1.0v1.1009220994624642h-1.0zM136.0 63.1h1.0v1.1657533291309594h-1.0zM137.0 57.4h1.0v1.3628686021494212h-1.0zM137.0 60.1h1.0v1.7161721653004258h-1.0zM137.0 61.6h1.0v1.6440329551941133h-1.0zM138.0 54.1h1.0v1.2868898977783232h-1.0zM139.0 68.1h1.0v1.1498197955910303h-1.0zM139.0 58.0h1.0v2.213158884434552h-1.0zM139.0 56.3h1.0v1.0951937317910505h-1.0zM140.0 63.1h1.0v1.9885439672178213h-1.0zM140.0 61.1h1.0v1.459050450433259h-1.0zM141.0 59.4h1.0v2.1550743314815355h-1.0zM141.0 60.8h1.0v1.3734438349050042h-1.0zM141.0 55.7h1.0v1.8160622524886967h-1.0zM141.0 55.4h1.0v2.22784014333186h-1.0zM142.0 56.6h1.0v1.404788042191494h-1.0zM142.0 65.5h1.0v2.301488816266964h-1.0zM143.0 61.3h1.0v2.480201877879852h-1.0zM143.0 57.3h1.0v1.016617477712211h-1.0zM143.0 62.2h1.0v1.1711045476933684h-1.0zM144.0 64.8h1.0v1.779527486820514h-1.0zM144.0 66.2h1.0v1.081568129324015h-1.0zM144.0 55.3h1.0v1.2627846983588311h-1.0zM145.0 62.8h1.0v1.7659014820443617h-1.0zM145.0 62.0h1.0v2.31640666411298h-1.0zM145.0 62.8h1.0v1.8388921569662469h-1.0zM146.0 60.5h1.0v1.5649678582665791h-1.0zM148.0 54.2h1.0v2.2160401425389056h-1.0zM148.0 60.2h1.0v2.387600921033899h-1.0zM148.0 56.7h1.0v1.5650403401188528h-1.0zM149.0 61.9h1.0v2.3684089778883854h-1.0zM149.0 60.6h1.0v2.0837180567763998h-1.0zM150.0 62.3h1.0v1.966587001829123h-1.0zM152.0 67.9h1.0v1.76819386796726h-1.0zM152.0 63.9h1.0v2.015173369315489h-1.0zM152.0 59.0h1.0v2.358500665701671h-1.0zM153.0 59.0h1.0v2.0055234031266727h-1.0zM153.0 61.6h1.0v1.064588898315984h-1.0zM154.0 59.7h1.0v1.0632905958407468h-1.0zM154.0 62.0h1.0v1.9143295616973597h-1.0zM155.0 58.9h1.0v1.4344271550454215h-1.0zM155.0 68.6h1.0v1.8147009493174429h-1.0zM156.0 63.2h1.0v1.7558222408361586h-1.0zM156.0 62.8h1.0v1.5608018627103517h-1.0zM156.0 57.8h1.0v2.4853266228088833h-1.0zM157.0 56.1h1.0v2.110650539131789h-1.0zM157.0 63.9h1.0v1.6035229302018454h-1.0zM157.0 57.7h1.0v2.4241426938123967h-1.0zM157.0 59.8h1.0v2.4888447659782633h-1.0zM158.0 56.7h1.0v2.4688697775591715h-1.0zM158.0 62.4h1.0v1.6995093823891536h-1.0zM159.0 55.2h1.0v2.214387195755525h-1.0zM159.0 53.7h1.0v1.2315723362757591h-1.0zM159.0 58.0h1.0v1.3987739869846512h-1.0zM159.0 60.8h1.0v2.475664357540558h-1.0zM160.0 54.9h1.0v1.7395056746988111h-1.0zM160.0 61.2h1.0v2.0914709394308675h-1.0zM161.0 63.1h1.0v2.263416503244553h-1.0zM161.0 62.6h1.0v1.7395649436798104h-1.0zM161.0 56.8h1.0v2.255428449422314h-1.0zM161.0 59.5h1.0v1.5752914729870944h-1.0zM163.0 64.3h1.0v1.2303168937944817h-1.0zM163.0 62.1h1.0v2.161086018631935h-1.0zM163.0 64.1h1.0v1.0279228075728701h-1.0zM164.0 60.7h1.0v2.248762787956957h-1.0zM164.0 58.5h1.0v2.2732526959085186h-1.0zM165.0 58.5h1.0v1.1369751495370615h-1.0zM165.0 62.3h1.0v1.9953921182382868h-1.0zM165.0 63.2h1.0v1.3630819796143294h-1.0zM165.0 60.6h1.0v2.0713539013281754h-1.0zM166.0 64.1h1.0v1.5735731404553461h-1.0zM166.0 54.6h1.0v1.1264259098830804h-1.0zM167.0 54.9h1.0v1.702670611391861h-1.0zM167.0 59.1h1.0v1.5573930022474576h-1.0zM167.0 62.3h1.0v1.949826420471032h-1.0zM168.0 56.5h1.0v1.0844634362960188h-1.0zM168.0 60.5h1.0v1.6624482821699136h-1.0zM169.0 57.4h1.0v1.8937605550302399h-1.0zM169.0 60.1h1.0v1.4555094760704437h-1.0zM169.0 58.7h1.0v1.9291789923955676h-1.0zM170.0 61.4h1.0v2.0427564448749957h-1.0zM170.0 56.9h1.0v1.9546678672514748h-1.0zM171.0 65.7h1.0v2.3261133222468837h-1.0zM171.0 60.5h1.0v2.3810059155652166h-1.0zM171.0 60.5h1.0v2.1691821984774924h-1.0zM171.0 62.6h1.0v1.3944419238513979h-1.0zM172.0 58.5h1.0v1.366361944588422h-1.0zM172.0 63.7h1.0v1.7412997895912747h-1.0zM173.0 61.8h1.0v1.1185041844713366h-1.0zM173.0 58.1h1.0v2.436316230595178h-1.0zM173.0 63.1h1.0v1.029960173737231h-1.0zM173.0 58.5h1.0v2.033743491568885h-1.0zM174.0 58.5h1.0v2.2888292634219156h-1.0zM174.0 55.9h1.0v2.411739974413222h-1.0zM175.0 61.1h1.0v1.2178019968144098h-1.0zM175.0 60.6h1.0v2.314183063035649h-1.0zM176.0 61.2h1.0v1.8930008053454899h-1.0zM176.0 64.4h1.0v1.2516424474392485h-1.0zM176.0 59.2h1.0v2.0976908453945025h-1.0zM177.0 62.0h1.0v2.408497307931169h-1.0zM178.0 63.8h1.0v1.0117827589169786h-1.0zM178.0 56.7h1.0v1.3260440704181011h-1.0zM179.0 56.7h1.0v2.314617271129382h-1.0zM179.0 58.0h1.0v1.2601435899186781h-1.0zM179.0 56.6h1.0v1.5946484225403732h-1.0zM179.0 62.3h1.0v2.3547751350151764h-1.0zM180.0 61.5h1.0v1.1636201346985053h-1.0zM180.0 59.6h1.0v1.8250287566263346h-1.0zM180.0 51.4h1.0v2.2371310809267797h-1.0zM181.0 61.6h1.0v1.9644241337929134h-1.0zM181.0 62.8h1.0v1.1273090796067475h-1.0zM181.0 58.6h1.0v1.654008336436451h-1.0zM182.0 61.0h1.0v1.2329387948944175h-1.0zM182.0 56.3h1.0v1.2705661370631425h-1.0zM183.0 63.3h1.0v1.270157576044694h-1.0zM183.0 52.9h1.0v2.1224061224041506h-1.0zM183.0 56.7h1.0v2.385946458189355h-1.0zM184.0 61.0h1.0v2.2149849376875372h-1.0zM185.0 58.4h1.0v1.844103186572203h-1.0zM185.0 50.7h1.0v1.0134383403247245h-1.0zM186.0 60.8h1.0v1.6200403361432696h-1.0zM186.0 63.7h1.0v2.068404675939963h-1.0zM187.0 65.8h1.0v1.4931224622531536h-1.0zM187.0 63.1h1.0v2.1273347412681876h-1.0zM187.0 58.2h1.0v1.4953935881171845h-1.0zM188.0 64.1h1.0v2.064883950504181h-1.0zM188.0 62.0h1.0v2.3155608986579743h-1.0zM188.0 56.8h1.0v2.4161990317922983h-1.0zM188.0 61.1h1.0v1.0880897816638069h-1.0zM189.0 53.2h1.0v1.0861482524832107h-1.0zM189.0 58.1h1.0v1.5153956173181493h-1.0zM190.0 68.4h1.0v2.19283541741554h-1.0zM190.0 59.7h1.0v2.050431126626252h-1.0zM190.0 62.7h1.0v1.679386037153551h-1.0zM190.0 64.7h1.0v2.0047456040515h-1.0zM191.0 55.7h1.0v2.2261496558698215h-1.0zM191.0 59.9h1.0v1.3050320658212426h-1.0zM191.0 57.2h1.0v1.7147316915569684h-1.0zM192.0 61.9h1.0v1.0368072812924547h-1.0zM192.0 66.8h1.0v2.1191581648409383h-1.0zM193.0 60.9h1.0v1.4033281506602395h-1.0zM193.0 62.3h1.0v1.0028536545676183h-1.0zM194.0 66.5h1.0v1.6121890053014782h-1.0zM196.0 56.0h1.0v1.9426881030462788h-1.0zM196.0 61.6h1.0v2.268096486908389h-1.0zM198.0 66.0h1.0v1.3246416616937169h-1.0zM198.0 61.7h1.0v1.7339772967945197h-1.0zM198.0 57.6h1.0v1.4524407162107233h-1.0zM199.0 62.9h1.0v1.5276369465030397h-1.0zM199.0 59.5h1.0v1.4810983956883164h-1.0zM199.0 60.3h1.0v2.449151935497128h-1.0zM200.0 63.8h1.0v2.2986873731965396h-1.0zM200.0 58.7h1.0v1.7582909850373099h-1.0zM200.0 60.5h1.0v2.3348058659638427h-1.0zM202.0 60.5h1.0v1.4192213560022748h-1.0zM202.0 57.7h1.0v1.017589085985219h-1.0zM203.0 59.6h1.0v1.1865858319351377h-1.0zM204.0 59.0h1.0v1.104839498908789h-1.0zM204.0 62.1h1.0v1.6517992257730894h-1.0zM204.0 57.3h1.0v2.4808027215580175h-1.0zM204.0 62.0h1.0v1.481978124931831h-1.0zM205.0 55.7h1.0v1.0391240625414482h-1.0zM205.0 57.4h1.0v1.5053755486426414h-1.0zM205.0 63.0h1.0v2.1802360611690026h-1.0zM206.0 62.5h1.0v1.05369807462765h-1.0zM206.0 59.3h1.0v1.220137645052959h-1.0zM19.7 25.1h1.0v1.0636090258938709h-1.0zM19.3 27.5h1.0v1.9405046709267197h-1.0zM9.6 52.8h1.0v1.173218516915135h-1.0zM16.2 38.5h1.0v1.420381481253576h-1.0zM-3.4 55.5h1.0v1.2671301057568924h-1.0zM-4.0 55.4h1.0v1.4823229149061894h-1.0zM-1.0 55.2h1.0v1.4709325516886822h-1.0zM3.1 55.9h1.0v1.5111331927400236h-1.0zM7.0 54.1h1.0v1.655990041958456h-1.0zM6.1 58.8h1.0v1.9078900968436336h-1.0zM13.6 41.8h1.0v1.2673996485387784h-1.0zM17.9 32.0h1.0v1.6243101425610833h-1.0zM4.8 53.5h1.0v1.0526695528632568h-1.0zM21.7 21.5h1.0v1.7786583420394682h-1.0zM16.0 36.8h1.0v1.188421941538334h-1.0zM4.4 50.4h1.0v1.1950356928759054h-1.0zM15.2 36.6h1.0v1.8063360450317592h-1.0zM5.1 52.1h1.0v1.532911466141226h-1.0zM21.8 20.0h1.0v1.5529455190696317h-1.0zM9.3 49.0h1.0v1.1463095510719574h-1.0zM20.8 19.0h1.0v1.1204208305547692h-1.0zM9.8 50.1h1.0v1.223699759368404h-1.0zM1.6 53.7h1.0v1.6129168732717916h-1.0zM16.9 30.3h1.0v1.6078044903688746h-1.0zM19.2 22.0h1.0v1.2939618738543461h-1.0zM10.7 48.3h1.0v1.486707940205679h-1.0zM22.0 14.3h1.0v1.4203239581886544h-1.0zM20.0 29.3h1.0v1.112617127531077h-1.0zM8.6 51.1h1.0v1.6219996273675368h-1.0zM7.7 50.1h1.0v1.6545721205972552h-1.0zM13.6 46.1h1.0v1.2407300804907098h-1.0zM-3.6 54.3h1.0v1.9256926135002834h-1.0zM9.0 50.0h1.0v1.1115289090540186h-1.0zM-3.4 57.4h1.0v1.8801036677757055h-1.0zM-0.2 53.4h1.0v1.361738025080911h-1.0zM16.6 36.7h1.0v1.3484582326417325h-1.0zM13.1 45.3h1.0v1.3094511818142278h-1.0zM-6.4 58.4h1.0v1.5109801110602907h-1.0zM-5.9 55.7h1.0v1.6343973231818234h-1.0zM7.7 49.1h1.0v1.0729506536940938h-1.0zM0.2 56.6h1.0v1.880163654712395h-1.0zM22.5 11.7h1.0v1.9707235390906241h-1.0zM14.4 46.1h1.0v1.495120558664901h-1.0zM19.9 25.6h1.0v1.248310148948986h-1.0zM18.9 26.6h1.0v1.5100689428911245h-1.0zM7.9 48.6h1.0v1.665002539386848h-1.0zM-2.8 56.4h1.0v1.957581956991722h-1.0zM15.3 45.5h1.0v1.890829197186152h-1.0zM20.8 19.5h1.0v1.9041887361566072h-1.0zM0.5 57.5h1.0v1.8404035603472702h-1.0zM-1.5 55.0h1.0v1.8897192171154353h-1.0zM-0.5 54.6h1.0v1.8712902068384958h-1.0zM13.7 43.8h1.0v1.3359763315774345h-1.0zM16.9 32.1h1.0v1.4922734554284616h-1.0zM6.8 52.2h1.0v1.1503844053235222h-1.0zM7.8 48.8h1.0v1.4600381471585646h-1.0zM4.9 53.0h1.0v1.1596166399883931h-1.0zM21.5 18.4h1.0v1.7129947889822155h-1.0zM10.5 49.9h1.0v1.4233693900212867h-1.0zM-1.4 55.4h1.0v1.971240365713992h-1.0zM20.0 28.5h1.0v1.8886791269222416h-1.0zM-5.2 54.6h1.0v1.0092797291559175h-1.0zM3.8 52.1h1.0v1.925753645453125h-1.0zM2.6 55.0h1.0v1.8178255489255415h-1.0zM11.4 48.5h1.0v1.7550403322192474h-1.0zM-2.5 56.8h1.0v1.9916302733102067h-1.0zM9.5 49.4h1.0v1.110467070278839h-1.0zM15.9 39.0h1.0v1.4366515226620233h-1.0zM16.7 36.0h1.0v1.1996158379603816h-1.0zM1.9 52.3h1.0v1.3092073824413357h-1.0zM17.4 34.5h1.0v1.5231086939308611h-1.0zM20.3 16.7h1.0v1.2343565678196646h-1.0zM-4.8 55.2h1.0v1.2174763994993056h-1.0zM7.5 50.9h1.0v1.3517603457483798h-1.0zM5.6 53.9h1.0v1.1161881197495678h-1.0zM-2.2 55.4h1.0v1.195461643292846h-1.0zM6.4 53.6h1.0v1.4194439182810696h-1.0zM19.9 26.4h1.0v1.5796348298721086h-1.0zM21.6 21.2h1.0v1.933369167599349h-1.0zM3.7 54.7h1.0v1.0078742815113149h-1.0zM1.7 56.1h1.0v1.0625349932838017h-1.0zM5.3 52.4h1.0v1.5285610493356256h-1.0zM10.5 51.9h1.0v1.5585207247554207h-1.0zM6.5 52.2h1.0v1.2310190561454875h-1.0zM19.9 28.5h1.0v1.791499458143303h-1.0zM4.3 54.7h1.0v1.8602761651730555h-1.0zM22.3 16.1h1.0v1.1361218189501026h-1.0zM4.2 54.4h1.0v1.2766585247423432h-1.0zM2.3 56.3h1.0v1.2934594755657662h-1.0zM0.5 56.3h1.0v1.2839038415592143h-1.0zM3.3 55.8h1.0v1.363534081452198h-1.0zM-1.3 56.3h1.0v1.8632202525981518h-1.0zM15.9 41.5h1.0v1.9533752257279158h-1.0zM-0.6 57.4h1.0v1.28992131364145h-1.0zM16.7 32.8h1.0v1.688571620566928h-1.0zM-0.2 54.8h1.0v1.5697282365302994h-1.0zM13.6 41.7h1.0v1.6952522169066573h-1.0zM17.2 33.1h1.0v1.4333901769896338h-1.0zM11.7 47.9h1.0v1.5179308434141627h-1.0zM7.3 54.9h1.0v1.87723131593952h-1.0zM17.5 30.1h1.0v1.2377129195358358h-1.0zM21.7 21.0h1.0v1.3811269746395158h-1.0zM1.4 58.1h1.0v1.5248763417897444h-1.0zM1.0 55.8h1.0v1.204604393600116h-1.0zM-4.4 58.5h1.0v1.5594618134814509h-1.0zM17.5 33.2h1.0v1.5302325311466443h-1.0zM14.7 40.0h1.0v1.0521151969218483h-1.0zM2.2 55.2h1.0v1.7423210009194832h-1.0zM12.5 44.7h1.0v1.0763103928530824h-1.0zM21.8 18.1h1.0v1.5632145678942355h-1.0zM7.1 56.0h1.0v1.3213469252417367h-1.0zM19.5 30.2h1.0v1.5435033192524805h-1.0zM20.2 24.2h1.0v1.7398784772626086h-1.0zM15.0 38.7h1.0v1.919277400998466h-1.0zM23.5 10.1h1.0v1.5063218996839636h-1.0zM23.8 16.7h1.0v1.1153187210488045h-1.0zM0.8 55.1h1.0v1.0842534335994456h-1.0zM11.3 49.7h1.0v1.9101963715495083h-1.0zM11.8 51.1h1.0v1.415292637136628h-1.0zM21.0 28.5h1.0v1.9244653925829123h-1.0zM20.1 26.6h1.0v1.0234049705479293h-1.0zM13.1 45.4h1.0v1.9460494645075725h-1.0zM17.8 30.3h1.0v1.091350125566553h-1.0zM-1.6 55.8h1.0v1.1652751426384282h-1.0zM12.3 45.7h1.0v1.473144901427417h-1.0zM22.0 15.8h1.0v1.3724710822779334h-1.0zM-2.5 57.7h1.0v1.9527287344709112h-1.0zM8.8 53.3h1.0v1.2130444901920798h-1.0zM-1.9 54.6h1.0v1.1989005637353638h-1.0zM18.5 33.7h1.0v1.3475544044452992h-1.0zM11.3 46.0h1.0v1.1873621609442746h-1.0zM11.2 47.6h1.0v1.3688265265358919h-1.0zM6.9 54.4h1.0v1.7008213749652539h-1.0zM18.0 31.1h1.0v1.313611423031091h-1.0zM-5.7 56.9h1.0v1.4857566982188604h-1.0zM2.5 54.8h1.0v1.0100120559855084h-1.0zM5.2 51.9h1.0v1.4427478693337128h-1.0zM0.0 56.4h1.0v1.150591164912644h-1.0zM87.5 49.3h1.0v1.7477565013456118h-1.0zM77.6 56.5h1.0v1.5539716851408016h-1.0zM92.8 38.1h1.0v1.269106690026878h-1.0zM85.6 50.4h1.0v1.1011431224849821h-1.0zM90.6 40.0h1.0v1.344885970247848h-1.0zM89.2 46.1h1.0v1.9246541084345201h-1.0zM97.0 20.4h1.0v1.5034230304177867h-1.0zM96.6 20.1h1.0v1.1768679948838137h-1.0zM89.3 45.4h1.0v1.9309070842013871h-1.0zM87.4 46.4h1.0v1.7723812603171027h-1.0zM95.7 29.9h1.0v1.250616561118696h-1.0zM86.9 49.6h1.0v1.5160017253629925h-1.0zM91.5 33.3h1.0v1.8323997857446008h-1.0zM93.1 41.8h1.0v1.9373919114766125h-1.0zM76.8 55.8h1.0v1.601296536940806h-1.0zM95.7 21.7h1.0v1.3784486812889647h-1.0zM82.4 54.4h1.0v1.7242426626009437h-1.0zM94.1 33.5h1.0v1.1221417828114h-1.0zM85.2 52.2h1.0v1.1398850886839942h-1.0zM75.8 53.9h1.0v1.5470951781386095h-1.0zM97.1 12.8h1.0v1.9251782758912428h-1.0zM82.1 50.9h1.0v1.3065284231455745h-1.0zM95.0 23.5h1.0v1.5731482921299116h-1.0zM95.9 21.9h1.0v1.4469513097813358h-1.0zM77.1 56.2h1.0v1.480138698213909h-1.0zM75.4 54.3h1.0v1.5347822311574413h-1.0zM85.8 50.7h1.0v1.2169149850442393h-1.0zM92.8 38.5h1.0v1.5135577198659123h-1.0zM88.5 48.7h1.0v1.455448984618296h-1.0zM91.3 44.9h1.0v1.8401977214441785h-1.0zM89.9 43.6h1.0v1.183368613877163h-1.0zM80.9 54.3h1.0v1.2364570481263883h-1.0zM80.8 57.0h1.0v1.158564045445098h-1.0zM79.9 57.2h1.0v1.660558530823461h-1.0zM97.9 9.6h1.0v1.9267501699182819h-1.0zM85.2 52.6h1.0v1.4117243051755906h-1.0zM92.2 43.2h1.0v1.1707952749816195h-1.0zM87.4 50.7h1.0v1.1394073390972794h-1.0zM95.3 22.7h1.0v1.2673590946552298h-1.0zM78.8 55.3h1.0v1.461100997382509h-1.0zM90.3 44.2h1.0v1.872964416291778h-1.0zM89.2 46.9h1.0v1.4193973607854355h-1.0zM76.6 57.1h1.0v1.6765166400320122h-1.0zM89.8 38.9h1.0v1.3575510254895313h-1.0zM84.8 54.8h1.0v1.3373885134841337h-1.0zM83.4 56.6h1.0v1.2743709991362453h-1.0zM97.0 15.4h1.0v1.7704883798273943h-1.0zM87.9 48.4h1.0v1.618834570162337h-1.0zM93.6 34.8h1.0v1.3183042738665345h-1.0zM81.2 56.5h1.0v1.9702588795714067h-1.0zM84.3 52.6h1.0v1.6802345546097541h-1.0zM79.3 57.0h1.0v1.3708231168432312h-1.0zM77.3 53.6h1.0v1.4990820998426946h-1.0zM88.9 48.1h1.0v1.6601545849639805h-1.0zM92.0 40.6h1.0v1.2647262225961902h-1.0zM92.5 36.7h1.0v1.807982664575364h-1.0zM94.1 28.2h1.0v1.4134294732427928h-1.0zM89.7 39.9h1.0v1.529145829903856h-1.0zM87.8 47.1h1.0v1.8524678845972344h-1.0zM90.1 44.8h1.0v1.0537050053898191h-1.0zM97.8 18.7h1.0v1.2046519546882342h-1.0zM76.9 53.1h1.0v1.7186751422550925h-1.0zM95.6 20.4h1.0v1.3110480773046005h-1.0zM99.0 8.2h1.0v1.510267175050347h-1.0zM99.1 4.1h1.0v1.746080798187772h-1.0zM92.8 36.6h1.0v1.4040401335177548h-1.0zM81.6 56.8h1.0v1.301267813406052h-1.0zM79.5 56.8h1.0v1.5718961189467815h-1.0zM83.6 54.5h1.0v1.8020190859785863h-1.0zM78.2 55.6h1.0v1.4544840953880032h-1.0zM92.9 33.4h1.0v1.286885758387014h-1.0zM82.7 54.8h1.0v1.660224380906245h-1.0zM78.3 57.7h1.0v1.5443738100443491h-1.0zM83.3 55.2h1.0v1.6062640352982553h-1.0zM81.1 54.7h1.0v1.6658446497241783h-1.0zM85.0 52.1h1.0v1.2117834681800552h-1.0zM79.0 54.8h1.0v1.167243660083653h-1.0zM91.9 35.8h1.0v1.47701492659587h-1.0zM85.7 53.0h1.0v1.0082630345202492h-1.0zM81.5 56.0h1.0v1.2791091382496953h-1.0zM93.4 38.0h1.0v1.867890136714717h-1.0zM97.9 7.6h1.0v1.4439294064754677h-1.0zM95.3 25.4h1.0v1.3775225701842642h-1.0zM79.7 54.5h1.0v1.0718243940880483h-1.0zM86.3 51.2h1.0v1.576685993155842h-1.0zM83.7 52.5h1.0v1.8590531376895263h-1.0zM82.9 55.3h1.0v1.8623509577356878h-1.0zM85.9 52.9h1.0v1.0051546638050484h-1.0zM82.5 56.7h1.0v1.1225023974128407h-1.0zM88.0 48.2h1.0v1.4472024237033254h-1.0zM96.1 24.0h1.0v1.878833699208143h-1.0zM89.5 43.4h1.0v1.9014512189192874h-1.0zM92.4 38.1h1.0v1.1625007757343122h-1.0zM98.2 15.7h1.0v1.1598292093056468h-1.0zM83.0 56.3h1.0v1.4270726803777678h-1.0zM82.0 53.2h1.0v1.2329539514706038h-1.0zM79.1 58.6h1.0v1.5846920619579294h-1.0zM88.2 53.0h1.0v1.3672212687899297h-1.0zM86.7 49.9h1.0v1.9802649727934842h-1.0zM93.4 37.7h1.0v1.9981839011773275h-1.0zM84.4 54.4h1.0v1.5051606305032577h-1.0zM98.5 14.2h1.0v1.354481274476072h-1.0zM81.5 55.8h1.0v1.3468497968140323h-1.0zM77.1 53.0h1.0v1.551983467874246h-1.0zM94.7 34.9h1.0v1.2646552523235688h-1.0zM93.8 32.7h1.0v1.1640717615225629h-1.0zM97.0 17.3h1.0v1.6125310357384062h-1.0zM80.8 54.6h1.0v1.0825048327566995h-1.0zM83.7 52.3h1.0v1.413354567283617h-1.0zM95.4 22.3h1.0v1.5115163166039338h-1.0zM96.4 18.5h1.0v1.634038186396189h-1.0zM81.1 58.1h1.0v1.9292390594552238h-1.0zM90.6 43.4h1.0v1.6335989779275084h-1.0zM96.8 17.9h1.0v1.071905276872375h-1.0zM93.0 33.4h1.0v1.2791881140504178h-1.0zM95.9 33.7h1.0v1.1398912806507364h-1.0zM84.3 57.1h1.0v1.0399779977489554h-1.0zM86.1 51.8h1.0v1.0717791194930242h-1.0zM80.8 55.2h1.0v1.352223437773073h-1.0zM92.0 40.8h1.0v1.595391846084081h-1.0zM96.4 10.9h1.0v1.557897479169859h-1.0zM87.9 48.3h1.0v1.7555106942623677h-1.0zM85.1 47.5h1.0v1.5999236445890932h-1.0zM83.9 57.6h1.0v1.1995600072488553h-1.0zM93.7 30.8h1.0v1.1742855179514966h-1.0zM98.2 16.5h1.0v1.5472977915605646h-1.0zM75.2 53.9h1.0v1.5308940365520298h-1.0zM80.6 56.7h1.0v1.722285501188504h-1.0zM90.7 45.2h1.0v1.0560681216579915h-1.0zM100.0 2.5h1.0v1.1823844290643835h-1.0zM88.3 51.6h1.0v1.5445874195028266h-1.0zM80.9 55.7h1.0v1.2377839270363418h-1.0zM78.8 56.2h1.0v1.1027017235300192h-1.0zM80.7 57.1h1.0v1.7525865472642523h-1.0zM81.2 55.6h1.0v1.2367704885745299h-1.0zM94.4 33.4h1.0v1.4592368891236907h-1.0zM157.5 52.0h1.0v1.2745539524429703h-1.0zM159.3 49.3h1.0v1.2954883000226785h-1.0zM149.7 57.0h1.0v1.6679661518045696h-1.0zM149.9 55.4h1.0v1.293999440641813h-1.0zM172.0 18.1h1.0v1.6855886618841216h-1.0zM148.7 52.7h1.0v1.9716592326872309h-1.0zM170.6 31.2h1.0v1.2484480121180161h-1.0zM153.8 55.9h1.0v1.4783796077153817h-1.0zM156.6 54.4h1.0v1.2955554861356502h-1.0zM166.7 36.8h1.0v1.8459666942692339h-1.0zM163.6 47.1h1.0v1.9920844218828098h-1.0zM169.8 26.7h1.0v1.6551678355831672h-1.0zM153.0 56.2h1.0v1.2045907476466589h-1.0zM151.6 52.8h1.0v1.4697455789160552h-1.0zM149.9 55.9h1.0v1.7989461324085967h-1.0zM151.7 58.3h1.0v1.7081537935332385h-1.0zM150.7 55.4h1.0v1.103710510792973h-1.0zM171.6 30.7h1.0v1.2127452817365187h-1.0zM164.6 44.4h1.0v1.4506764518229651h-1.0zM173.0 17.6h1.0v1.5083373111635425h-1.0zM162.9 49.8h1.0v1.5739410996966896h-1.0zM161.4 51.3h1.0v1.8851516006871996h-1.0zM166.7 42.9h1.0v1.8526744781719127h-1.0zM159.0 51.9h1.0v1.3205529431129397h-1.0zM153.3 56.1h1.0v1.9150578754724075h-1.0zM163.9 44.1h1.0v1.648781575629825h-1.0zM168.2 36.1h1.0v1.2284422034208606h-1.0zM162.0 49.3h1.0v1.0583032578459115h-1.0zM150.5 57.3h1.0v1.3836319604286684h-1.0zM161.3 51.6h1.0v1.7480601651678116h-1.0zM166.6 37.9h1.0v1.6026523012721934h-1.0zM170.8 24.3h1.0v1.4254335256102086h-1.0zM157.2 53.4h1.0v1.8197789631931034h-1.0zM150.9 57.7h1.0v1.8413434466321068h-1.0zM150.1 56.2h1.0v1.7009781645263464h-1.0zM152.5 55.0h1.0v1.3019457035864972h-1.0zM169.6 30.6h1.0v1.0105659044838449h-1.0zM171.8 27.9h1.0v1.8178771634223125h-1.0zM165.6 40.7h1.0v1.585771068250691h-1.0zM168.7 32.7h1.0v1.584966294553698h-1.0zM160.5 52.1h1.0v1.8840401191308063h-1.0zM167.9 36.2h1.0v1.2900592317137454h-1.0zM150.5 55.6h1.0v1.751761866612726h-1.0zM163.3 44.4h1.0v1.3500920469329456h-1.0zM148.8 53.5h1.0v1.279493006249281h-1.0zM151.2 58.8h1.0v1.0949649838217455h-1.0zM170.7 21.6h1.0v1.714059887375078h-1.0zM160.9 52.4h1.0v1.2009832807787573h-1.0zM167.7 39.7h1.0v1.6149339969220975h-1.0zM148.3 56.4h1.0v1.0770201470169067h-1.0zM165.3 41.4h1.0v1.8144750839926118h-1.0zM153.3 53.5h1.0v1.0378828462662564h-1.0zM162.3 46.9h1.0v1.903929404666462h-1.0zM162.4 46.0h1.0v1.8520099803893735h-1.0zM172.8 18.0h1.0v1.7268672035870654h-1.0zM163.9 48.8h1.0v1.4267619885166516h-1.0zM157.1 53.5h1.0v1.9445249739795583h-1.0zM172.4 11.7h1.0v1.9608213505976257h-1.0zM156.7 52.1h1.0v1.4317675098176204h-1.0zM168.8 29.5h1.0v1.4052326415630643h-1.0zM161.0 50.2h1.0v1.1083208452045619h-1.0zM162.1 49.6h1.0v1.7487539732257282h-1.0zM171.6 24.0h1.0v1.9004426903849208h-1.0zM154.4 55.9h1.0v1.1462075548961097h-1.0zM166.9 34.7h1.0v1.3150141717070452h-1.0zM172.1 30.0h1.0v1.970088508855832h-1.0zM163.5 46.8h1.0v1.8670793049175765h-1.0zM162.6 47.2h1.0v1.9652235808876948h-1.0zM159.6 52.5h1.0v1.2941146082327677h-1.0zM156.7 52.0h1.0v1.2292979160629853h-1.0zM156.1 53.8h1.0v1.2137023578274633h-1.0zM150.0 55.4h1.0v1.5518794873980393h-1.0zM175.4 9.6h1.0v1.5295634727945633h-1.0zM162.7 45.5h1.0v1.9221329171041446h-1.0zM170.8 28.4h1.0v1.1580013960689137h-1.0zM165.0 40.4h1.0v1.7504186528539785h-1.0zM156.1 55.0h1.0v1.6353904803568557h-1.0zM165.0 44.2h1.0v1.4841165166406287h-1.0zM158.2 51.3h1.0v1.2470452100031686h-1.0zM164.3 47.0h1.0v1.0973085222868533h-1.0zM168.2 33.9h1.0v1.3671665352702091h-1.0zM156.6 56.5h1.0v1.1856507264336624h-1.0zM151.4 54.2h1.0v1.0687812695505094h-1.0zM148.8 54.7h1.0v1.5968117938947841h-1.0zM170.2 31.7h1.0v1.1744668917018757h-1.0zM164.7 43.0h1.0v1.116318261486509h-1.0zM157.0 55.2h1.0v1.7364872677576972h-1.0zM167.7 37.2h1.0v1.983388678376907h-1.0zM161.4 49.4h1.0v1.197095743490138h-1.0zM160.9 52.8h1.0v1.8328965713428205h-1.0zM152.4 54.1h1.0v1.4656906674464172h-1.0zM149.9 58.0h1.0v1.5270407301559117h-1.0zM161.5 49.9h1.0v1.305076485796103h-1.0zM175.6 10.0h1.0v1.55922338582891h-1.0zM173.0 16.5h1.0v1.306726435110186h-1.0zM155.6 54.4h1.0v1.884659275421586h-1.0zM152.8 54.9h1.0v1.9290510577403484h-1.0zM166.2 39.0h1.0v1.2226296760176405h-1.0zM150.1 55.4h1.0v1.8920066661053836h-1.0zM165.9 36.3h1.0v1.1369487229351503h-1.0zM169.0 30.0h1.0v1.5853168499287076h-1.0zM161.3 49.4h1.0v1.4220785548291395h-1.0zM165.3 45.0h1.0v1.5941597798999032h-1.0zM163.0 48.1h1.0v1.7205134520904637h-1.0zM164.0 45.3h1.0v1.6834505410217742h-1.0zM164.5 44.4h1.0v1.51683237977652h-1.0zM166.2 43.9h1.0v1.113704632815707h-1.0zM149.3 57.1h1.0v1.594499594206979h-1.0zM173.4 19.3h1.0v1.7404867722985413h-1.0zM152.4 56.6h1.0v1.6710242481401472h-1.0zM155.9 51.4h1.0v1.7966464825682278h-1.0zM165.6 42.6h1.0v1.5952479934512178h-1.0zM148.2 55.4h1.0v1.61692490952h-1.0zM159.7 51.3h1.0v1.0868393844663915h-1.0zM171.4 21.5h1.0v1.4408562734107937h-1.0zM167.1 38.8h1.0v1.9264702361245147h-1.0zM154.3 58.1h1.0v1.1113598575017516h-1.0zM152.2 53.5h1.0v1.1794465381683326h-1.0zM150.0 57.1h1.0v1.3477857832419526h-1.0zM168.2 38.1h1.0v1.822173356673491h-1.0zM169.4 32.8h1.0v1.07528671360194h-1.0zM166.1 39.6h1.0v1.6473368611872423h-1.0zM152.7 54.8h1.0v1.5962348539977085h-1.0zM157.9 52.3h1.0v1.7788002527524986h-1.0zM167.2 38.4h1.0v1.40355681026132h-1.0zM161.8 53.8h1.0v1.616164617034302h-1.0zM153.2 54.2h1.0v1.6200673821967182h-1.0zM154.1 57.7h1.0v1.694167370335249h-1.0zM171.7 25.2h1.0v1.2329914333114445h-1.0zM168.9 36.3h1.0v1.0616150603085386h-1.0zM156.0 54.3h1.0v1.3702725734810894h-1.0zM157.7 54.6h1.0v1.0992384704697487h-1.0zM149.8 56.3h1.0v1.6989178623597572h-1.0zM154.0 54.4h1.0v1.4189275844489484h-1.0zM150.5 57.3h1.0v1.5902114493902046h-1.0zM148.6 56.8h1.0v1.9727571347540964h-1.0zM150.9 55.4h1.0v1.3938333200987374h-1.0zM173.6 18.7h1.0v1.701274412627471h-1.0zM174.0 11.6h1.0v1.5256614521934275h-1.0zM167.9 35.5h1.0v1.022963659019525h-1.0zM171.9 22.3h1.0v1.0509139919849786h-1.0zM153.5 55.3h1.0v1.1523277174212745h-1.0zM170.4 27.4h1.0v1.3923989758772541h-1.0zM156.9 53.0h1.0v1.461230275886323h-1.0z"/><path fill="#4f92cc" fill-opacity="0.5" d="M0.0 60.5h1.0v2.476401709559781h-1.0zM0.0 62.0h1.0v2.7319114379869625h-1.0zM0.0 60.5h1.0v2.26115359978413h-1.0zM0.0 61.4h1.0v1.6857029417244684h-1.0zM1.0 59.1h1.0v1.9496504952955236h-1.0zM1.0 59.9h1.0v2.548491650594357h-1.0zM1.0 60.4h1.0v2.2678992459713236h-1.0zM2.0 64.9h1.0v1.6756436917225979h-1.0zM4.0 55.9h1.0v1.967778471327029h-1.0zM4.0 62.1h1.0v1.7421579157896472h-1.0zM4.0 65.7h1.0v2.3147586388231716h-1.0zM5.0 59.6h1.0v2.596505988713132h-1.0zM5.0 58.0h1.0v1.6208071882329396h-1.0zM6.0 60.8h1.0v1.6905575509467965h-1.0zM7.0 57.4h1.0v2.2852598783807494h-1.0zM7.0 63.4h1.0v2.4128319584272706h-1.0zM7.0 57.6h1.0v2.824841721657248h-1.0zM8.0 59.0h1.0v1.7057016538452772h-1.0zM9.0 59.3h1.0v1.5964361888861278h-1.0zM9.0 59.3h1.0v2.957543937970611h-1.0zM9.0 62.4h1.0v2.8588480328656445h-1.0zM9.0 61.8h1.0v1.9056691462819637h-1.0zM10.0 60.3h1.0v2.56430507717769h-1.0zM10.0 61.1h1.0v2.250132899792759h-1.0zM10.0 59.3h1.0v1.9057835491038972h-1.0zM11.0 60.9h1.0v1.7448697804145636h-1.0zM11.0 63.0h1.0v1.9228999234599442h-1.0zM11.0 58.8h1.0v2.5390282753079214h-1.0zM12.0 62.4h1.0v2.7798712486461623h-1.0zM13.0 58.8h1.0v2.1854227870445424h-1.0zM13.0 59.5h1.0v1.8521784327477406h-1.0zM14.0 60.6h1.0v2.198846412446415h-1.0zM14.0 62.7h1.0v2.9043815114305747h-1.0zM14.0 66.3h1.0v1.9343833192322868h-1.0zM14.0 56.2h1.0v2.0802725204434678h-1.0zM15.0 62.2h1.0v2.758666191975693h-1.0zM15.0 62.8h1.0v2.804957891879715h-1.0zM17.0 62.7h1.0v2.444440358768909h-1.0zM18.0 59.8h1.0v2.8423303379564553h-1.0zM18.0 57.3h1.0v2.327251372227761h-1.0zM18.0 62.0h1.0v2.354073430447878h-1.0zM19.0 57.7h1.0v2.320503353108373h-1.0zM19.0 64.0h1.0v1.9610967418772212h-1.0zM19.0 60.3h1.0v2.8877412420163084h-1.0zM20.0 62.1h1.0v2.0901899641866803h-1.0zM20.0 63.4h1.0v2.9962947079467908h-1.0zM20.0 58.8h1.0v1.993864139810393h-1.0zM21.0 63.8h1.0v1.5522815786009723h-1.0zM21.0 61.2h1.0v1.7924121776292488h-1.0zM22.0 61.4h1.0v2.2448109110773267h-1.0zM22.0 60.0h1.0v1.7269728475129704h-1.0zM22.0 61.9h1.0v1.7959676875734933h-1.0zM23.0 62.5h1.0v1.7823752015047287h-1.0zM23.0 56.0h1.0v2.2609867698659234h-1.0zM24.0 59.5h1.0v2.6666644140864415h-1.0zM24.0 59.2h1.0v1.712054227041079h-1.0zM24.0 61.6h1.0v2.59834267182249h-1.0zM25.0 59.2h1.0v2.1211200403024857h-1.0zM25.0 65.4h1.0v2.045672062536458h-1.0zM25.0 61.2h1.0v1.670308938105053h-1.0zM25.0 57.6h1.0v2.191359353509409h-1.0zM26.0 58.3h1.0v1.7404142242706315h-1.0zM26.0 63.1h1.0v1.7744483154128559h-1.0zM27.0 61.3h1.0v2.187433561346067h-1.0zM27.0 61.8h1.0v2.145898510128248h-1.0zM27.0 60.4h1.0v2.454655533249724h-1.0zM28.0 62.5h1.0v2.87986171782137h-1.0zM28.0 59.2h1.0v1.5552495851994546h-1.0zM29.0 61.7h1.0v2.615392080969884h-1.0zM30.0 61.3h1.0v1.7239696210345599h-1.0zM31.0 63.6h1.0v1.7630875918188886h-1.0zM33.0 61.9h1.0v1.8085851207728734h-1.0zM33.0 62.7h1.0v1.649815635375534h-1.0zM34.0 60.3h1.0v1.8030527527071682h-1.0zM34.0 63.3h1.0v2.2372261437983205h-1.0zM34.0 58.8h1.0v1.8908626241014233h-1.0zM34.0 64.1h1.0v1.9255946295176551h-1.0zM35.0 57.8h1.0v2.368754650254076h-1.0zM37.0 61.0h1.0v2.5128675102565796h-1.0zM37.0 59.9h1.0v2.86228794576175h-1.0zM37.0 63.4h1.0v1.7412639154070921h-1.0zM38.0 60.4h1.0v1.8977362153223731h-1.0zM38.0 60.1h1.0v2.193174822762751h-1.0zM39.0 64.2h1.0v1.9218175376725655h-1.0zM39.0 61.3h1.0v2.8455203663084463h-1.0zM40.0 58.6h1.0v2.9657612753802702h-1.0zM40.0 57.3h1.0v1.819651158870706h-1.0zM41.0 61.0h1.0v2.4541891922785513h-1.0zM41.0 61.1h1.0v2.712899375502534h-1.0zM41.0 58.7h1.0v2.846342639749751h-1.0zM42.0 64.7h1.0v1.6313643356883771h-1.0zM42.0 59.3h1.0v1.6627507657506764h-1.0zM43.0 58.9h1.0v1.559069169589388h-1.0zM43.0 58.9h1.0v2.169707537448617h-1.0zM44.0 58.0h1.0v2.8350104419967224h-1.0zM44.0 61.0h1.0v2.5758151601847494h-1.0zM46.0 62.5h1.0v2.189576184830389h-1.0zM47.0 62.0h1.0v1.9197367365578186h-1.0zM48.0 57.1h1.0v1.7740054255166289h-1.0zM48.0 60.0h1.0v2.581067251656821h-1.0zM48.0 61.7h1.0v2.329252402162987h-1.0zM48.0 60.7h1.0v2.7558268560369688h-1.0zM49.0 61.1h1.0v2.8714477197562456h-1.0zM49.0 56.7h1.0v2.6982739497275565h-1.0zM49.0 61.9h1.0v2.8915183898005954h-1.0zM49.0 65.4h1.0v2.0776187163842765h-1.0zM50.0 63.3h1.0v2.7529234359364936h-1.0zM50.0 59.8h1.0v1.8866897123476585h-1.0zM51.0 63.0h1.0v1.9152708713487518h-1.0zM51.0 61.4h1.0v2.641919489285593h-1.0zM51.0 61.8h1.0v2.5616364065011363h-1.0zM52.0 64.0h1.0v2.362379591109921h-1.0zM52.0 61.8h1.0v2.0350773488870626h-1.0zM52.0 61.7h1.0v2.364467670224413h-1.0zM52.0 57.0h1.0v1.9373124972671645h-1.0zM53.0 60.6h1.0v2.575647210839816h-1.0zM53.0 63.2h1.0v1.6650600037206416h-1.0zM53.0 60.1h1.0v2.3877181249942607h-1.0zM53.0 59.0h1.0v2.92229159726963h-1.0zM54.0 63.1h1.0v1.6635382123008182h-1.0zM54.0 62.9h1.0v2.257161986110438h-1.0zM54.0 60.3h1.0v1.5701427922688638h-1.0zM55.0 62.4h1.0v1.685880074407523h-1.0zM55.0 58.1h1.0v1.8651010364584346h-1.0zM56.0 59.4h1.0v2.603119508506869h-1.0zM56.0 59.8h1.0v1.71049083033961h-1.0zM57.0 59.8h1.0v2.3053114001158557h-1.0zM58.0 60.7h1.0v2.196372676913202h-1.0zM58.0 60.0h1.0v1.6024034938802747h-1.0zM58.0 62.1h1.0v2.892618517287688h-1.0zM59.0 59.2h1.0v2.2573310795404895h-1.0zM59.0 60.4h1.0v2.3474273823551197h-1.0zM59.0 60.6h1.0v2.1171264388866766h-1.0zM59.0 56.8h1.0v2.0963491519036657h-1.0zM60.0 62.2h1.0v2.4360042481011517h-1.0zM61.0 62.6h1.0v2.6891346670859972h-1.0zM61.0 59.4h1.0v1.6311984677627787h-1.0zM62.0 64.5h1.0v2.257244581778856h-1.0zM63.0 61.7h1.0v1.9147815426035981h-1.0zM64.0 63.7h1.0v2.4574723646963825h-1.0zM64.0 59.7h1.0v2.903512090455425h-1.0zM65.0 61.8h1.0v2.7698461591615886h-1.0zM65.0 63.9h1.0v2.2342650975501797h-1.0zM66.0 60.3h1.0v2.1369528445659247h-1.0zM66.0 60.3h1.0v2.5155375823363557h-1.0zM66.0 59.2h1.0v2.649238546260806h-1.0zM67.0 60.4h1.0v1.512453198723072h-1.0zM68.0 63.2h1.0v2.104833493812335h-1.0zM68.0 63.2h1.0v2.249295157165381h-1.0zM68.0 60.3h1.0v2.5319759982917374h-1.0zM69.0 57.8h1.0v2.0682340856165475h-1.0zM69.0 58.6h1.0v2.022153737778013h-1.0zM69.0 63.7h1.0v2.716722180802692h-1.0zM70.0 62.1h1.0v1.6713803845708584h-1.0zM70.0 62.3h1.0v2.6247695436210012h-1.0zM71.0 63.6h1.0v1.5708331432828335h-1.0zM71.0 61.3h1.0v1.6808064770783462h-1.0zM71.0 57.3h1.0v2.4317554792980047h-1.0zM72.0 66.9h1.0v2.1598174845454414h-1.0zM72.0 61.8h1.0v2.232071646791889h-1.0zM73.0 62.9h1.0v2.3838349836835913h-1.0zM73.0 60.3h1.0v2.000669161527794h-1.0zM75.0 60.9h1.0v2.581807425636508h-1.0zM75.0 59.5h1.0v2.3197273204818964h-1.0zM75.0 60.0h1.0v1.530098287965889h-1.0zM76.0 61.4h1.0v2.794957363019942h-1.0zM76.0 63.0h1.0v2.910358545892441h-1.0zM77.0 56.3h1.0v1.6977969473553685h-1.0zM77.0 60.3h1.0v2.3371981286529104h-1.0zM78.0 61.1h1.0v2.490042236447919h-1.0zM78.0 63.6h1.0v2.026026361360984h-1.0zM79.0 61.2h1.0v2.80815102038126h-1.0zM79.0 57.1h1.0v1.818101457274231h-1.0zM79.0 57.8h1.0v2.8242870544885124h-1.0zM80.0 59.8h1.0v2.441018495963419h-1.0zM80.0 61.9h1.0v2.935748828433697h-1.0zM80.0 61.4h1.0v2.2881235826217545h-1.0zM81.0 62.4h1.0v1.9885679225043698h-1.0zM81.0 59.0h1.0v2.0744634565666655h-1.0zM81.0 59.5h1.0v2.114958686423532h-1.0zM83.0 60.6h1.0v1.6845510163533624h-1.0zM84.0 63.4h1.0v2.7883364493642184h-1.0zM84.0 59.7h1.0v2.0635895956364396h-1.0zM85.0 61.5h1.0v2.9923953392386706h-1.0zM85.0 59.6h1.0v2.629200069136958h-1.0zM85.0 59.4h1.0v2.102516374085084h-1.0zM86.0 61.6h1.0v2.1104245351647895h-1.0zM86.0 60.1h1.0v2.8078990574164306h-1.0zM86.0 60.4h1.0v2.9733447544950202h-1.0zM87.0 63.7h1.0v2.5938893405452363h-1.0zM87.0 60.6h1.0v1.5529714182789296h-1.0zM87.0 63.0h1.0v2.8170924581946455h-1.0zM88.0 63.5h1.0v1.732255338149233h-1.0zM88.0 59.3h1.0v2.8857834677663554h-1.0zM88.0 64.7h1.0v1.9404526698384648h-1.0zM89.0 60.6h1.0v2.672187304085684h-1.0zM89.0 62.8h1.0v2.3110746118006698h-1.0zM90.0 60.2h1.0v2.3273526517259304h-1.0zM90.0 61.1h1.0v2.470216464584762h-1.0zM91.0 62.6h1.0v2.3329378948002115h-1.0zM91.0 62.6h1.0v2.835913539994446h-1.0zM91.0 59.3h1.0v1.6586320542914326h-1.0zM92.0 59.3h1.0v2.3877944080626126h-1.0zM92.0 61.3h1.0v1.5483588325386681h-1.0zM92.0 62.9h1.0v2.6552650422644337h-1.0zM94.0 61.1h1.0v2.2335794896315386h-1.0zM94.0 62.3h1.0v2.3181066313422134h-1.0zM95.0 60.3h1.0v2.785116678073557h-1.0zM95.0 60.8h1.0v2.780237866662592h-1.0zM95.0 60.7h1.0v2.4991636877136805h-1.0zM96.0 59.0h1.0v2.6266108175272307h-1.0zM96.0 56.3h1.0v2.2237073235622713h-1.0zM96.0 62.6h1.0v2.3651492503433618h-1.0zM96.0 63.1h1.0v2.9965583167100602h-1.0zM97.0 61.6h1.0v2.157444604520615h-1.0zM98.0 63.0h1.0v2.7771192673242995h-1.0zM98.0 59.5h1.0v2.970730285086214h-1.0zM98.0 59.9h1.0v2.813400189003477h-1.0zM99.0 62.4h1.0v1.600183943310401h-1.0zM99.0 60.4h1.0v2.6827099828382774h-1.0zM100.0 60.2h1.0v1.9125911761451946h-1.0zM100.0 59.8h1.0v1.6658186035274625h-1.0zM101.0 58.4h1.0v1.8394220024352292h-1.0zM101.0 60.0h1.0v2.4265197678057846h-1.0zM102.0 61.9h1.0v1.9586213205597574h-1.0zM102.0 60.8h1.0v2.1315282571947316h-1.0zM103.0 62.3h1.0v1.700744492616331h-1.0zM103.0 63.5h1.0v2.2968985517945937h-1.0zM103.0 63.1h1.0v1.513686684666602h-1.0zM104.0 59.2h1.0v2.2075708687964246h-1.0zM104.0 60.4h1.0v1.857901529967548h-1.0zM105.0 63.0h1.0v2.8745254339156503h-1.0zM105.0 61.4h1.0v2.4723828079702628h-1.0zM106.0 59.4h1.0v1.7880418226898895h-1.0zM106.0 60.2h1.0v1.6124931206205888h-1.0zM107.0 59.1h1.0v1.91129416380402h-1.0zM108.0 65.2h1.0v2.1470822734662263h-1.0zM108.0 60.6h1.0v2.0126043549604242h-1.0zM108.0 62.9h1.0v1.6376442464941814h-1.0zM109.0 60.6h1.0v2.9839566207861097h-1.0zM109.0 58.9h1.0v1.546045888826059h-1.0zM109.0 64.2h1.0v1.6598629860767642h-1.0zM109.0 62.0h1.0v1.9164736191729608h-1.0zM110.0 62.7h1.0v2.313271999984697h-1.0zM110.0 61.0h1.0v2.2845743633417444h-1.0zM110.0 62.9h1.0v2.8086143983337157h-1.0zM110.0 60.6h1.0v2.6471819359446673h-1.0zM110.0 62.9h1.0v2.4729190751231758h-1.0zM111.0 61.4h1.0v2.1603989309897385h-1.0zM111.0 61.6h1.0v2.1658768892567686h-1.0zM111.0 63.2h1.0v2.225950238230324h-1.0zM111.0 64.7h1.0v2.287260465949437h-1.0zM113.0 54.8h1.0v2.4318303678856186h-1.0zM113.0 63.3h1.0v2.1848675974195437h-1.0zM114.0 57.4h1.0v1.585391009238524h-1.0zM114.0 59.0h1.0v2.134266158575209h-1.0zM114.0 59.9h1.0v2.4925571481469544h-1.0zM115.0 60.2h1.0v1.8861560859985553h-1.0zM115.0 60.8h1.0v2.5235790998304086h-1.0zM115.0 60.3h1.0v2.508163649530472h-1.0zM116.0 62.6h1.0v2.1311795448478446h-1.0zM117.0 61.3h1.0v1.543587875404035h-1.0zM117.0 61.4h1.0v1.8733808175169178h-1.0zM117.0 63.8h1.0v1.8545459995342493h-1.0zM117.0 58.9h1.0v1.671341557977419h-1.0zM118.0 58.6h1.0v1.8441201669504446h-1.0zM118.0 63.1h1.0v2.702991323237711h-1.0zM118.0 61.5h1.0v2.706017782558903h-1.0zM118.0 58.4h1.0v1.7073123940804784h-1.0zM119.0 62.7h1.0v1.6968425827921847h-1.0zM119.0 60.3h1.0v1.9875455965892401h-1.0zM121.0 63.4h1.0v1.6849040898432723h-1.0zM122.0 64.4h1.0v2.4097899426448306h-1.0zM122.0 59.8h1.0v1.6653629572252644h-1.0zM123.0 58.8h1.0v2.62335523444989h-1.0zM123.0 61.0h1.0v1.9907038906955998h-1.0zM124.0 55.3h1.0v2.8440101167395895h-1.0zM124.0 66.0h1.0v1.8406370715193487h-1.0zM124.0 59.7h1.0v2.8714907568138326h-1.0zM125.0 60.4h1.0v2.2733113884799647h-1.0zM125.0 57.7h1.0v1.5162561722298327h-1.0zM125.0 63.6h1.0v2.692818505660436h-1.0zM126.0 62.4h1.0v1.7481436701307858h-1.0zM126.0 56.9h1.0v2.3078492386894895h-1.0zM126.0 59.8h1.0v2.404382320212767h-1.0zM127.0 59.7h1.0v2.3879513015112592h-1.0zM128.0 62.6h1.0v2.6199064821196796h-1.0zM128.0 63.4h1.0v2.9239581974576385h-1.0zM128.0 64.5h1.0v2.103787228288814h-1.0zM129.0 63.3h1.0v1.532638360661145h-1.0zM129.0 64.2h1.0v1.8419807354279665h-1.0zM129.0 60.1h1.0v2.9568013778344238h-1.0zM130.0 61.8h1.0v2.036877691810797h-1.0zM130.0 66.4h1.0v2.8502920140523473h-1.0zM131.0 61.0h1.0v2.5583535060582707h-1.0zM131.0 63.2h1.0v1.7862943329171999h-1.0zM132.0 63.2h1.0v2.140922144483943h-1.0zM132.0 59.5h1.0v1.6308992272872522h-1.0zM133.0 61.2h1.0v2.2168678904946946h-1.0zM133.0 60.5h1.0v1.6226831769726555h-1.0zM133.0 61.6h1.0v2.814111289218402h-1.0zM135.0 61.0h1.0v1.97078272071242h-1.0zM135.0 62.6h1.0v2.497348651325938h-1.0zM136.0 58.7h1.0v2.3842578105565035h-1.0zM136.0 62.3h1.0v1.768859936738318h-1.0zM136.0 61.1h1.0v1.6524840765882702h-1.0zM137.0 60.4h1.0v2.3152851478196337h-1.0zM137.0 61.6h1.0v2.382799496466503h-1.0zM138.0 63.4h1.0v1.7713721975484664h-1.0zM138.0 62.2h1.0v2.897272209561339h-1.0zM139.0 62.2h1.0v1.5053539652559351h-1.0zM139.0 60.2h1.0v2.5059968270008746h-1.0zM139.0 60.2h1.0v1.7335969926956982h-1.0zM140.0 57.6h1.0v1.8600367276417924h-1.0zM140.0 59.4h1.0v1.7694757394894896h-1.0zM141.0 60.4h1.0v1.966738170222248h-1.0zM141.0 61.2h1.0v2.33864698098649h-1.0zM141.0 58.9h1.0v1.693030485926828h-1.0zM141.0 60.5h1.0v1.9397343688732733h-1.0zM143.0 66.0h1.0v2.028334561149766h-1.0zM143.0 64.5h1.0v1.9972459007430912h-1.0zM144.0 62.0h1.0v2.872723989522584h-1.0zM144.0 61.8h1.0v2.979583800577865h-1.0zM145.0 65.2h1.0v2.908256247561345h-1.0zM145.0 59.5h1.0v2.5397353694082243h-1.0zM145.0 64.8h1.0v1.6402569551579027h-1.0zM145.0 59.9h1.0v2.5696235839563584h-1.0zM146.0 62.9h1.0v1.6709048189813769h-1.0zM146.0 61.0h1.0v2.9976858198174883h-1.0zM148.0 59.9h1.0v2.404915865801665h-1.0zM148.0 63.6h1.0v2.0048596788874313h-1.0zM148.0 61.4h1.0v2.5792888565452023h-1.0zM148.0 60.2h1.0v2.6017277118420123h-1.0zM150.0 64.3h1.0v1.8808863177126869h-1.0zM150.0 58.4h1.0v2.4390528302340466h-1.0zM150.0 60.1h1.0v2.551030126704596h-1.0zM151.0 61.9h1.0v2.9704639717558545h-1.0zM151.0 57.1h1.0v2.4690524962166136h-1.0zM151.0 62.4h1.0v2.3068571139351706h-1.0zM151.0 61.9h1.0v1.6564566546671837h-1.0zM152.0 59.9h1.0v2.9936970683799378h-1.0zM153.0 59.8h1.0v1.7889481239392022h-1.0zM153.0 57.9h1.0v2.089625801780251h-1.0zM154.0 58.9h1.0v2.842705932881899h-1.0zM154.0 58.8h1.0v1.6600796256436503h-1.0zM154.0 61.2h1.0v2.070105392137191h-1.0zM155.0 60.8h1.0v2.886199714246059h-1.0zM155.0 60.9h1.0v2.0631896782379653h-1.0zM155.0 60.6h1.0v2.697686886117236h-1.0zM155.0 62.1h1.0v1.833678409140323h-1.0zM158.0 56.4h1.0v2.8354041074523595h-1.0zM159.0 60.1h1.0v1.8794851031954827h-1.0zM159.0 59.8h1.0v2.2560637603357185h-1.0zM159.0 61.4h1.0v2.9841736484153873h-1.0zM160.0 60.6h1.0v2.4294838291622103h-1.0zM161.0 58.8h1.0v2.120460047185207h-1.0zM161.0 61.5h1.0v1.518063102217362h-1.0zM162.0 58.9h1.0v2.2569510966335633h-1.0zM162.0 59.6h1.0v2.842695905613045h-1.0zM163.0 61.8h1.0v2.599124711542026h-1.0zM163.0 60.5h1.0v1.7127319420253797h-1.0zM164.0 62.6h1.0v1.8251500489633716h-1.0zM164.0 57.6h1.0v2.715556140697371h-1.0zM164.0 60.6h1.0v1.646383120473524h-1.0zM165.0 57.4h1.0v1.73940670612527h-1.0zM165.0 61.9h1.0v1.6101201243629226h-1.0zM166.0 64.2h1.0v2.166509441462284h-1.0zM166.0 58.8h1.0v2.4337597704114016h-1.0zM167.0 61.7h1.0v2.460410384464434h-1.0zM167.0 63.9h1.0v2.1405813815352683h-1.0zM168.0 56.3h1.0v2.127155974128249h-1.0zM168.0 63.1h1.0v2.3446135429039154h-1.0zM169.0 61.8h1.0v1.8365735798067182h-1.0zM169.0 65.1h1.0v2.6385823354889375h-1.0zM170.0 59.4h1.0v1.624459057895736h-1.0zM171.0 61.7h1.0v1.78972451289294h-1.0zM171.0 63.9h1.0v1.7215791973855996h-1.0zM172.0 62.4h1.0v1.679335227327339h-1.0zM174.0 63.1h1.0v2.042573776297269h-1.0zM174.0 61.6h1.0v2.7461294981675266h-1.0zM175.0 62.4h1.0v1.7050240612921146h-1.0zM175.0 60.7h1.0v2.042789931742541h-1.0zM176.0 60.9h1.0v1.84699427686452h-1.0zM177.0 58.8h1.0v2.358874150219609h-1.0zM177.0 59.6h1.0v1.6004104662568126h-1.0zM177.0 60.9h1.0v2.9578313672071768h-1.0zM178.0 62.3h1.0v2.678213970280039h-1.0zM179.0 62.8h1.0v2.3037093090085032h-1.0zM180.0 59.4h1.0v2.1497000364935372h-1.0zM181.0 64.3h1.0v2.011856903743584h-1.0zM182.0 63.0h1.0v2.3703353010302806h-1.0zM182.0 60.4h1.0v1.5629186373842148h-1.0zM182.0 61.2h1.0v1.5900177707736565h-1.0zM183.0 60.1h1.0v1.8830717348623158h-1.0zM183.0 60.1h1.0v2.307319333008263h-1.0zM184.0 58.4h1.0v2.1741130904155512h-1.0zM184.0 63.7h1.0v1.957745920439201h-1.0zM185.0 64.2h1.0v2.06612154690091h-1.0zM185.0 61.1h1.0v2.754911897137151h-1.0zM185.0 57.7h1.0v2.886316435019244h-1.0zM187.0 63.2h1.0v2.42432492587003h-1.0zM188.0 55.5h1.0v1.9706836601776598h-1.0zM188.0 62.4h1.0v2.9049143772781765h-1.0zM189.0 64.6h1.0v2.1882261162551595h-1.0zM189.0 58.8h1.0v2.7731316739960623h-1.0zM190.0 59.9h1.0v1.8952067148366583h-1.0zM190.0 56.2h1.0v1.8140251852424663h-1.0zM190.0 58.1h1.0v2.4591544869675412h-1.0zM190.0 62.1h1.0v2.1587907737274623h-1.0zM191.0 58.8h1.0v2.066163480494629h-1.0zM191.0 59.7h1.0v1.9317351417596165h-1.0zM193.0 59.4h1.0v2.8371236661325123h-1.0zM193.0 61.3h1.0v1.601415963145425h-1.0zM193.0 57.2h1.0v1.6369101158351467h-1.0zM194.0 61.3h1.0v2.012296081238408h-1.0zM194.0 66.0h1.0v1.9560655376329328h-1.0zM194.0 59.2h1.0v2.175671078666797h-1.0zM196.0 62.9h1.0v2.2393485754274893h-1.0zM197.0 62.6h1.0v1.9173948161608352h-1.0zM197.0 60.8h1.0v2.5100347036467605h-1.0zM197.0 63.9h1.0v1.7764650191677231h-1.0zM197.0 63.1h1.0v2.795832443363344h-1.0zM198.0 60.7h1.0v2.7015086222979097h-1.0zM199.0 58.5h1.0v2.0827340329309436h-1.0zM200.0 63.4h1.0v2.3731714252149847h-1.0zM201.0 63.6h1.0v2.547333037942244h-1.0zM201.0 62.3h1.0v2.2028825171972866h-1.0zM202.0 58.3h1.0v1.8815736299373809h-1.0zM202.0 60.9h1.0v2.85748094819587h-1.0zM202.0 64.3h1.0v1.87002131163511h-1.0zM203.0 62.8h1.0v2.3090749663324406h-1.0zM203.0 57.7h1.0v2.7543791159327653h-1.0zM203.0 62.7h1.0v2.0061398154391137h-1.0zM204.0 63.0h1.0v2.4127428512506195h-1.0zM204.0 59.4h1.0v1.7720948115731208h-1.0zM204.0 58.4h1.0v2.2758294944104986h-1.0zM204.0 58.7h1.0v1.6513433444045655h-1.0zM205.0 61.8h1.0v1.6716449177561656h-1.0zM205.0 62.3h1.0v2.719943320373731h-1.0zM206.0 59.6h1.0v2.9404339402666144h-1.0z"/><path fill="#4f92cc" fill-opacity="0.6" d="M0.0 61.5h1.0v1.6289208505337576h-1.0zM1.0 59.9h1.0v2.6658431624712104h-1.0zM1.0 62.5h1.0v2.2426745393328833h-1.0zM1.0 61.8h1.0v2.5941679341588264h-1.0zM2.0 57.2h1.0v2.7328871799145724h-1.0zM2.0 61.3h1.0v2.607545069392191h-1.0zM2.0 62.6h1.0v2.086424554699841h-1.0zM3.0 61.2h1.0v2.4147186528854956h-1.0zM3.0 62.4h1.0v2.696809681794849h-1.0zM3.0 59.4h1.0v2.2222842272477923h-1.0zM4.0 64.7h1.0v2.1989841887399004h-1.0zM5.0 58.8h1.0v2.9347726145120068h-1.0zM5.0 62.2h1.0v2.0242794933356416h-1.0zM6.0 59.8h1.0v2.3862184536254265h-1.0zM6.0 61.4h1.0v2.7397657177880808h-1.0zM6.0 59.9h1.0v2.48590243910403h-1.0zM7.0 58.5h1.0v1.7585200683201734h-1.0zM8.0 64.7h1.0v1.8038827908039068h-1.0zM8.0 59.6h1.0v2.5067331706058837h-1.0zM8.0 62.0h1.0v2.465186998176461h-1.0zM9.0 62.7h1.0v2.5139604563151927h-1.0zM10.0 62.5h1.0v1.7717189513344493h-1.0zM11.0 59.5h1.0v2.49784152032363h-1.0zM11.0 59.9h1.0v2.16873691235061h-1.0zM12.0 59.3h1.0v2.818636040351085h-1.0zM13.0 60.9h1.0v1.6116749999612603h-1.0zM13.0 61.3h1.0v2.1905100959608195h-1.0zM14.0 63.2h1.0v2.174176454476643h-1.0zM15.0 59.1h1.0v2.015940219641918h-1.0zM15.0 62.3h1.0v1.9868213804520745h-1.0zM15.0 60.5h1.0v1.934749438463288h-1.0zM16.0 58.7h1.0v1.7078588006402258h-1.0zM16.0 62.6h1.0v2.015494278986894h-1.0zM17.0 61.1h1.0v2.8059232504604195h-1.0zM17.0 61.4h1.0v2.628166504897842h-1.0zM17.0 62.5h1.0v1.9162745204673792h-1.0zM18.0 61.0h1.0v2.468258664552364h-1.0zM19.0 60.5h1.0v1.8417607657688302h-1.0zM19.0 57.9h1.0v2.577498362443114h-1.0zM20.0 61.4h1.0v1.5902028812181743h-1.0zM21.0 62.1h1.0v2.0463732935933745h-1.0zM21.0 60.4h1.0v1.5454230826161293h-1.0zM21.0 61.0h1.0v2.1071589146627057h-1.0zM22.0 63.9h1.0v1.9916997163881627h-1.0zM23.0 58.9h1.0v2.669625887731513h-1.0zM23.0 63.5h1.0v1.8905025780110443h-1.0zM24.0 60.5h1.0v1.5561817664881261h-1.0zM24.0 61.0h1.0v2.722115580119712h-1.0zM25.0 55.9h1.0v2.0860966748896805h-1.0zM25.0 61.1h1.0v2.8524458723876647h-1.0zM27.0 61.0h1.0v2.1979097042447058h-1.0zM27.0 57.5h1.0v2.7157940321402867h-1.0zM28.0 60.0h1.0v1.912488887888143h-1.0zM29.0 59.1h1.0v2.3660407678730278h-1.0zM29.0 63.3h1.0v2.8926888368692083h-1.0zM29.0 60.6h1.0v1.8324562663141424h-1.0zM30.0 62.0h1.0v2.498208769956486h-1.0zM30.0 61.4h1.0v2.1029293367069646h-1.0zM30.0 61.7h1.0v2.7313210281990226h-1.0zM31.0 61.7h1.0v1.509524103721515h-1.0zM31.0 57.9h1.0v2.6177811687319696h-1.0zM32.0 61.7h1.0v2.40184638171458h-1.0zM32.0 57.3h1.0v1.8507427227162623h-1.0zM33.0 63.8h1.0v2.4483888330388637h-1.0zM33.0 61.8h1.0v1.9416890962325655h-1.0zM35.0 61.1h1.0v2.469449825963573h-1.0zM35.0 64.2h1.0v1.9850008692914678h-1.0zM36.0 61.4h1.0v1.7224787301743902h-1.0zM36.0 62.1h1.0v2.599938895151813h-1.0zM36.0 60.9h1.0v2.867103752943162h-1.0zM36.0 62.0h1.0v1.8096659468700897h-1.0zM36.0 60.7h1.0v2.781491448629695h-1.0zM37.0 60.1h1.0v1.8750914839965267h-1.0zM37.0 62.4h1.0v1.5159481621016757h-1.0zM38.0 60.7h1.0v1.5199625090716589h-1.0zM38.0 59.2h1.0v1.9552430742398346h-1.0zM38.0 63.3h1.0v1.8283697850357394h-1.0zM39.0 62.9h1.0v2.5182279220136596h-1.0zM39.0 61.1h1.0v2.481604091470915h-1.0zM40.0 58.9h1.0v1.6776338658984116h-1.0zM41.0 61.6h1.0v2.604811950752434h-1.0zM41.0 60.8h1.0v1.820042729953499h-1.0zM41.0 59.7h1.0v2.7925350180904216h-1.0zM42.0 62.9h1.0v1.5745493776926631h-1.0zM43.0 61.3h1.0v2.5435682116295735h-1.0zM44.0 57.9h1.0v2.8842047458530073h-1.0zM44.0 60.6h1.0v2.6390229025962535h-1.0zM45.0 63.2h1.0v2.2154433621362317h-1.0zM45.0 64.3h1.0v2.3502248115899285h-1.0zM45.0 64.1h1.0v2.741113024948942h-1.0zM45.0 64.7h1.0v2.40170596352918h-1.0zM46.0 60.5h1.0v2.3305115381415464h-1.0zM46.0 61.4h1.0v2.626700364157963h-1.0zM47.0 65.5h1.0v2.057502504059029h-1.0zM47.0 61.3h1.0v2.3958185840065642h-1.0zM48.0 57.8h1.0v2.5045822319369875h-1.0zM48.0 62.1h1.0v1.5579475046140738h-1.0zM49.0 62.3h1.0v1.7096441810389809h-1.0zM50.0 59.5h1.0v2.7062166426457224h-1.0zM50.0 60.3h1.0v2.2365104009498413h-1.0zM51.0 61.8h1.0v2.412833654107705h-1.0zM52.0 61.7h1.0v2.0342353230695016h-1.0zM52.0 60.8h1.0v2.724803285636513h-1.0zM53.0 60.7h1.0v2.3788531255061427h-1.0zM54.0 61.0h1.0v2.449034728238968h-1.0zM54.0 61.9h1.0v1.8382176735185836h-1.0zM55.0 64.3h1.0v2.36601743424282h-1.0zM56.0 61.4h1.0v2.806909397408309h-1.0zM56.0 60.9h1.0v2.005523663031788h-1.0zM57.0 62.7h1.0v2.0693434870058893h-1.0zM57.0 60.4h1.0v2.0289280782593657h-1.0zM57.0 59.4h1.0v2.7743494658514196h-1.0zM58.0 58.6h1.0v2.5278418223938672h-1.0zM60.0 61.5h1.0v1.5820183108007302h-1.0zM61.0 63.0h1.0v2.1202424314896526h-1.0zM61.0 60.2h1.0v2.9573211694020975h-1.0zM61.0 62.0h1.0v2.0940403255991713h-1.0zM61.0 62.9h1.0v2.078396070777033h-1.0zM62.0 62.9h1.0v1.7388330031326094h-1.0zM62.0 57.9h1.0v1.8247142440356272h-1.0zM62.0 57.4h1.0v1.8120884220740232h-1.0zM62.0 62.9h1.0v2.913130768088324h-1.0zM62.0 58.7h1.0v2.393929692726031h-1.0zM63.0 63.7h1.0v2.7077705171000086h-1.0zM63.0 62.1h1.0v1.6319101925167234h-1.0zM63.0 59.5h1.0v2.7665448849155343h-1.0zM64.0 60.4h1.0v1.8820636413137564h-1.0zM65.0 64.0h1.0v2.7086002926430868h-1.0zM66.0 60.0h1.0v2.3449027825978135h-1.0zM66.0 59.7h1.0v1.6717173757791208h-1.0zM67.0 62.6h1.0v1.6632037309382977h-1.0zM67.0 63.2h1.0v2.6758142435148935h-1.0zM67.0 61.0h1.0v1.5415027703191306h-1.0zM69.0 63.0h1.0v2.798127608236275h-1.0zM70.0 60.1h1.0v2.162051823694368h-1.0zM70.0 60.7h1.0v2.7932604570387403h-1.0zM71.0 63.7h1.0v1.8197005554255732h-1.0zM71.0 61.8h1.0v2.618151201026224h-1.0zM72.0 61.4h1.0v2.331369324748585h-1.0zM72.0 61.8h1.0v2.9959023187628366h-1.0zM73.0 61.9h1.0v2.590868504357634h-1.0zM73.0 64.6h1.0v2.36556367354548h-1.0zM73.0 62.6h1.0v2.0032577318604474h-1.0zM74.0 64.3h1.0v2.5220007047656616h-1.0zM74.0 57.6h1.0v2.944435880668448h-1.0zM74.0 60.8h1.0v2.4528143209800444h-1.0zM74.0 60.4h1.0v2.00582448398791h-1.0zM74.0 61.4h1.0v2.825493626167112h-1.0zM75.0 61.6h1.0v1.9563558650815542h-1.0zM75.0 62.9h1.0v2.6616582388834695h-1.0zM75.0 61.9h1.0v1.762849535150886h-1.0zM76.0 59.3h1.0v1.5406269913420056h-1.0zM76.0 59.8h1.0v2.3967703252981307h-1.0zM77.0 59.7h1.0v2.966077261116718h-1.0zM77.0 64.2h1.0v2.338950033615486h-1.0zM78.0 62.0h1.0v2.8515446908831708h-1.0zM78.0 65.3h1.0v2.1901484304527847h-1.0zM78.0 59.5h1.0v2.346301634341388h-1.0zM79.0 61.7h1.0v2.7342446666220352h-1.0zM79.0 62.9h1.0v1.569283859206157h-1.0zM80.0 59.5h1.0v1.5299026636218873h-1.0zM81.0 60.6h1.0v1.9773978949337838h-1.0zM82.0 63.1h1.0v2.687055283151259h-1.0zM82.0 60.6h1.0v2.9638974054857234h-1.0zM83.0 61.4h1.0v2.0718931335407818h-1.0zM83.0 60.0h1.0v1.9125204540291607h-1.0zM84.0 60.1h1.0v2.875387489691532h-1.0zM84.0 63.4h1.0v1.862747392789319h-1.0zM84.0 62.5h1.0v1.6924506920182592h-1.0zM84.0 59.6h1.0v1.5658502062865063h-1.0zM85.0 58.8h1.0v2.7593701158030366h-1.0zM86.0 62.2h1.0v2.983020997109468h-1.0zM87.0 59.0h1.0v2.34739621531278h-1.0zM87.0 59.4h1.0v2.4160895957196136h-1.0zM88.0 62.0h1.0v2.81207920143816h-1.0zM89.0 58.9h1.0v1.558218641152548h-1.0zM89.0 64.1h1.0v2.289503217558574h-1.0zM89.0 61.0h1.0v1.8007646294468236h-1.0zM90.0 60.9h1.0v2.6815892550948237h-1.0zM90.0 60.7h1.0v2.3933936140678442h-1.0zM90.0 61.6h1.0v2.3688577238160384h-1.0zM91.0 62.3h1.0v2.2601746386612995h-1.0zM92.0 61.7h1.0v2.7158263783062435h-1.0zM92.0 65.7h1.0v2.1179547025256147h-1.0zM92.0 62.4h1.0v1.7507030272994317h-1.0zM93.0 59.3h1.0v2.385572401785006h-1.0zM93.0 56.3h1.0v1.6737572670135492h-1.0zM94.0 60.8h1.0v2.926487044735966h-1.0zM94.0 58.6h1.0v2.1862260343040925h-1.0zM94.0 58.7h1.0v2.4289144951764747h-1.0zM94.0 64.1h1.0v2.0037348242995465h-1.0zM95.0 61.2h1.0v2.9175074016214175h-1.0zM96.0 62.2h1.0v2.929463300144966h-1.0zM97.0 60.6h1.0v1.9464483816714448h-1.0zM97.0 61.3h1.0v2.5402883759194532h-1.0zM97.0 59.1h1.0v1.9641052621369295h-1.0zM98.0 58.5h1.0v2.0933102502973004h-1.0zM98.0 64.4h1.0v2.349711559402791h-1.0zM99.0 62.0h1.0v2.5041156216776272h-1.0zM99.0 62.2h1.0v1.5989248632402913h-1.0zM99.0 62.8h1.0v2.3667347703041903h-1.0zM100.0 59.0h1.0v1.6082706427779612h-1.0zM100.0 63.4h1.0v1.8275885023559932h-1.0zM100.0 57.6h1.0v1.559408007612782h-1.0zM101.0 62.7h1.0v1.9941378085817312h-1.0zM101.0 56.2h1.0v1.6070729305048417h-1.0zM101.0 60.3h1.0v2.104316053899768h-1.0zM102.0 60.3h1.0v2.4483423529082358h-1.0zM102.0 57.9h1.0v2.7067269725335077h-1.0zM103.0 58.0h1.0v2.076227424602453h-1.0zM104.0 58.5h1.0v1.6775869344438612h-1.0zM105.0 62.2h1.0v1.6586934720330995h-1.0zM106.0 62.4h1.0v1.9638147886367958h-1.0zM106.0 59.6h1.0v1.8208231499805114h-1.0zM106.0 57.9h1.0v2.183434992846812h-1.0zM107.0 59.7h1.0v2.4345727134886053h-1.0zM107.0 61.2h1.0v2.8294245864092114h-1.0zM107.0 64.4h1.0v1.8581754962707095h-1.0zM108.0 60.0h1.0v1.5204479178148722h-1.0zM109.0 60.0h1.0v1.954747174621912h-1.0zM109.0 59.8h1.0v2.7919614419226635h-1.0zM111.0 61.8h1.0v2.3443073698633414h-1.0zM112.0 59.7h1.0v2.830459858613963h-1.0zM112.0 62.5h1.0v2.61055953474811h-1.0zM113.0 61.3h1.0v1.7886045705592588h-1.0zM113.0 68.5h1.0v2.96240487278862h-1.0zM114.0 62.5h1.0v2.91302435150813h-1.0zM114.0 60.6h1.0v1.6422645343645363h-1.0zM117.0 60.3h1.0v1.844954857690657h-1.0zM118.0 62.1h1.0v2.6908503849926877h-1.0zM118.0 58.3h1.0v2.2078365858461106h-1.0zM120.0 63.5h1.0v1.6574233372041753h-1.0zM120.0 59.9h1.0v1.6317908723295613h-1.0zM120.0 63.9h1.0v1.693428051432932h-1.0zM121.0 59.7h1.0v2.7163085224707384h-1.0zM122.0 61.2h1.0v2.928030207726301h-1.0zM122.0 61.2h1.0v2.8217287130576745h-1.0zM123.0 59.2h1.0v2.968773057189181h-1.0zM123.0 61.4h1.0v2.5941622667808724h-1.0zM124.0 56.9h1.0v2.226037753143938h-1.0zM124.0 61.4h1.0v2.043543315039215h-1.0zM125.0 61.2h1.0v2.40729504030195h-1.0zM125.0 57.8h1.0v2.8027053948763836h-1.0zM126.0 57.7h1.0v1.8237563104093617h-1.0zM127.0 61.2h1.0v1.789683609341067h-1.0zM127.0 61.8h1.0v1.68669733223946h-1.0zM127.0 63.1h1.0v2.2293728009581715h-1.0zM128.0 58.9h1.0v2.0981782837698217h-1.0zM129.0 61.4h1.0v1.9137290964789897h-1.0zM129.0 60.4h1.0v2.908935614190576h-1.0zM129.0 61.8h1.0v1.7108754532064152h-1.0zM130.0 57.4h1.0v2.151685073881895h-1.0zM130.0 65.3h1.0v2.1135250283775453h-1.0zM131.0 60.8h1.0v2.69712476091786h-1.0zM131.0 58.1h1.0v2.113177962605937h-1.0zM132.0 62.3h1.0v1.670532732525622h-1.0zM132.0 61.3h1.0v2.173359315642073h-1.0zM132.0 60.2h1.0v1.646365531187719h-1.0zM133.0 60.6h1.0v2.0274351086861624h-1.0zM133.0 56.3h1.0v2.7868564752761573h-1.0zM134.0 59.3h1.0v2.7822503145913h-1.0zM134.0 59.2h1.0v1.8183630902134043h-1.0zM134.0 57.4h1.0v2.942996120407456h-1.0zM135.0 60.1h1.0v2.9351529734309976h-1.0zM135.0 61.8h1.0v2.5432695414385242h-1.0zM136.0 60.4h1.0v1.631326406848412h-1.0zM137.0 60.9h1.0v2.0576962835274673h-1.0zM137.0 59.2h1.0v2.850125495754926h-1.0zM137.0 60.2h1.0v2.244866524778659h-1.0zM138.0 59.7h1.0v1.8897000374142037h-1.0zM138.0 61.1h1.0v1.618259259576994h-1.0zM138.0 59.2h1.0v1.6112825331706433h-1.0zM138.0 61.0h1.0v1.958016329615768h-1.0zM139.0 60.2h1.0v2.5311552765334255h-1.0zM139.0 62.4h1.0v1.5568524308587255h-1.0zM140.0 61.9h1.0v1.6123538700441227h-1.0zM140.0 59.4h1.0v2.744823668525222h-1.0zM140.0 60.6h1.0v2.967237950538629h-1.0zM142.0 60.9h1.0v1.850707288645134h-1.0zM142.0 62.9h1.0v1.5913061873067016h-1.0zM142.0 62.2h1.0v2.8024986568822166h-1.0zM143.0 59.2h1.0v2.836094029850124h-1.0zM143.0 61.5h1.0v1.679006272308896h-1.0zM143.0 59.1h1.0v2.3929118401002993h-1.0zM144.0 62.8h1.0v1.6350105834383437h-1.0zM144.0 62.0h1.0v1.9669901355338277h-1.0zM144.0 60.4h1.0v2.480819685644448h-1.0zM145.0 61.1h1.0v2.115512570453309h-1.0zM146.0 63.3h1.0v2.126115426674465h-1.0zM146.0 61.2h1.0v2.4971851691402116h-1.0zM146.0 62.2h1.0v2.1858824882424983h-1.0zM147.0 56.4h1.0v2.1637836628740685h-1.0zM147.0 57.9h1.0v2.0460231061308143h-1.0zM148.0 60.8h1.0v1.7395233739305362h-1.0zM148.0 59.5h1.0v2.8050994858693032h-1.0zM149.0 64.2h1.0v1.69980722324958h-1.0zM149.0 59.9h1.0v1.825905678120975h-1.0zM149.0 61.9h1.0v2.192246390616682h-1.0zM150.0 59.5h1.0v2.80848466379946h-1.0zM150.0 64.8h1.0v2.153036275675661h-1.0zM152.0 62.1h1.0v1.5123931368564465h-1.0zM152.0 61.9h1.0v2.6245256860718875h-1.0zM152.0 57.7h1.0v2.026067287139603h-1.0zM152.0 61.1h1.0v2.8966224961001723h-1.0zM152.0 58.9h1.0v1.8356611055784273h-1.0zM153.0 61.1h1.0v2.8121175091738864h-1.0zM153.0 60.8h1.0v2.1624361208100384h-1.0zM154.0 58.5h1.0v2.2841625079211827h-1.0zM154.0 59.7h1.0v2.7488556993608704h-1.0zM155.0 61.3h1.0v2.8663775837361114h-1.0zM156.0 58.3h1.0v1.9167237581047551h-1.0zM156.0 59.5h1.0v2.3785172886253276h-1.0zM156.0 60.5h1.0v2.7017681581865567h-1.0zM156.0 60.3h1.0v2.010628393615118h-1.0zM157.0 60.1h1.0v2.4759988311228787h-1.0zM157.0 60.2h1.0v2.293022640280357h-1.0zM157.0 62.3h1.0v2.94023976168117h-1.0zM158.0 63.1h1.0v1.9014973851901762h-1.0zM158.0 57.4h1.0v2.212959859510126h-1.0zM158.0 61.8h1.0v1.818026432526242h-1.0zM160.0 63.7h1.0v1.8903096541297646h-1.0zM160.0 64.2h1.0v2.168167160259285h-1.0zM161.0 61.5h1.0v1.8567027226766548h-1.0zM161.0 58.4h1.0v2.4456018972190012h-1.0zM161.0 58.7h1.0v2.258044906064878h-1.0zM161.0 62.8h1.0v1.555944717751618h-1.0zM162.0 57.6h1.0v2.7712417106163016h-1.0zM162.0 61.6h1.0v1.5686480619644327h-1.0zM162.0 60.2h1.0v2.880113147230404h-1.0zM163.0 61.0h1.0v2.078535016086863h-1.0zM164.0 60.5h1.0v2.626361569127049h-1.0zM164.0 61.5h1.0v2.8690201099148034h-1.0zM165.0 60.0h1.0v1.8025408697695113h-1.0zM165.0 61.2h1.0v1.6472501092487308h-1.0zM165.0 61.8h1.0v1.639304429467808h-1.0zM166.0 60.3h1.0v1.8212251115971634h-1.0zM166.0 62.9h1.0v2.2209380787277726h-1.0zM166.0 63.0h1.0v2.350244437649973h-1.0zM166.0 60.2h1.0v1.884604325456602h-1.0zM167.0 55.9h1.0v1.708406725972266h-1.0zM167.0 64.2h1.0v2.729224802892454h-1.0zM168.0 61.2h1.0v2.2608701163093143h-1.0zM168.0 63.8h1.0v1.9942533066499908h-1.0zM168.0 60.1h1.0v2.1694153774958354h-1.0zM169.0 62.6h1.0v2.7918377787255517h-1.0zM169.0 61.8h1.0v2.438283503728388h-1.0zM169.0 57.0h1.0v1.9004909118927662h-1.0zM169.0 65.2h1.0v1.772159011952424h-1.0zM170.0 60.4h1.0v2.024983859371959h-1.0zM170.0 57.7h1.0v2.9784707008356888h-1.0zM171.0 63.3h1.0v2.9818350111403316h-1.0zM172.0 62.2h1.0v2.4569027129622807h-1.0zM172.0 60.2h1.0v2.8868182388638886h-1.0zM172.0 57.3h1.0v1.563739091271783h-1.0zM172.0 60.6h1.0v2.8769891070912372h-1.0zM173.0 60.5h1.0v2.0239035165055967h-1.0zM173.0 57.8h1.0v2.4344964751818208h-1.0zM173.0 62.0h1.0v2.6473571993526424h-1.0zM174.0 63.8h1.0v2.5848455277343954h-1.0zM174.0 62.8h1.0v2.076671058001631h-1.0zM176.0 62.4h1.0v1.5248849774779452h-1.0zM176.0 62.5h1.0v1.5519556860541726h-1.0zM176.0 60.0h1.0v2.637831301331127h-1.0zM177.0 63.5h1.0v2.3414759842977917h-1.0zM177.0 59.9h1.0v1.8918493282582465h-1.0zM177.0 59.4h1.0v1.671084024703657h-1.0zM178.0 61.4h1.0v2.7952984659702205h-1.0zM178.0 58.2h1.0v2.952172615310226h-1.0zM179.0 62.3h1.0v2.7645104866539887h-1.0zM179.0 62.8h1.0v1.7566976382993778h-1.0zM179.0 59.6h1.0v2.5257457078506538h-1.0zM179.0 61.2h1.0v1.8929994966968495h-1.0zM180.0 64.7h1.0v1.6927943328619501h-1.0zM180.0 60.6h1.0v2.9978152144545955h-1.0zM181.0 62.3h1.0v1.7890505147219649h-1.0zM181.0 60.6h1.0v2.772872082686864h-1.0zM183.0 60.6h1.0v1.7279267334393342h-1.0zM184.0 63.2h1.0v2.332918710158183h-1.0zM185.0 63.0h1.0v2.364245411730984h-1.0zM185.0 60.8h1.0v2.520610920890802h-1.0zM186.0 62.9h1.0v1.632679420373825h-1.0zM186.0 59.9h1.0v1.9828382383962615h-1.0zM187.0 59.8h1.0v2.2066598995139897h-1.0zM187.0 58.1h1.0v2.7854041936169427h-1.0zM187.0 63.8h1.0v2.7241541586773845h-1.0zM188.0 62.4h1.0v2.113671513664042h-1.0zM188.0 61.0h1.0v2.9354213177928044h-1.0zM188.0 60.8h1.0v2.3409645107483654h-1.0zM189.0 60.7h1.0v2.211436916177399h-1.0zM190.0 59.5h1.0v1.527787250208792h-1.0zM190.0 61.9h1.0v1.9864966619931457h-1.0zM191.0 59.4h1.0v1.7791422970187258h-1.0zM191.0 66.2h1.0v2.3351704868647714h-1.0zM192.0 60.8h1.0v1.6895274393515187h-1.0zM192.0 63.6h1.0v1.7890494563640356h-1.0zM192.0 62.3h1.0v2.9121880670961926h-1.0zM193.0 64.0h1.0v1.5063590987503253h-1.0zM195.0 59.6h1.0v1.722842212490787h-1.0zM195.0 57.9h1.0v1.758097947932545h-1.0zM195.0 57.6h1.0v2.9436050077080536h-1.0zM195.0 62.6h1.0v2.310119739481371h-1.0zM196.0 59.4h1.0v1.702259150309389h-1.0zM196.0 57.4h1.0v2.0397996976236943h-1.0zM196.0 60.3h1.0v1.80799083969722h-1.0zM197.0 63.6h1.0v1.8796295864327617h-1.0zM198.0 62.5h1.0v2.902778535216112h-1.0zM198.0 62.2h1.0v2.294487095962788h-1.0zM199.0 57.1h1.0v2.170584904002069h-1.0zM199.0 58.1h1.0v1.7457016393444835h-1.0zM199.0 61.0h1.0v1.9480762046415323h-1.0zM199.0 60.2h1.0v1.757525743238718h-1.0zM199.0 61.1h1.0v2.955496043132351h-1.0zM200.0 59.3h1.0v2.7423659812937515h-1.0zM200.0 60.3h1.0v2.850086395573094h-1.0zM200.0 63.0h1.0v2.053239932677915h-1.0zM201.0 61.7h1.0v2.777913866385896h-1.0zM202.0 66.1h1.0v1.6033958967442752h-1.0zM202.0 62.7h1.0v1.6570419666991223h-1.0zM202.0 59.6h1.0v1.9857733046738906h-1.0zM203.0 60.4h1.0v1.9988273069014968h-1.0zM204.0 60.5h1.0v1.6602577897392374h-1.0zM204.0 60.3h1.0v2.5982378214190414h-1.0zM205.0 61.3h1.0v2.7310119405249855h-1.0zM205.0 59.5h1.0v2.03330452735879h-1.0zM205.0 62.1h1.0v2.5192383185568263h-1.0zM206.0 59.0h1.0v2.5521002290962818h-1.0zM206.0 58.6h1.0v1.9219622392020788h-1.0zM206.0 61.5h1.0v1.5803208046049548h-1.0z"/><path fill="#4f92cc" fill-opacity="0.7" d="M0.0 61.8h1.0v2.136778783713771h-1.0zM2.0 56.0h1.0v2.5749416915974557h-1.0zM2.0 58.3h1.0v2.033196164310519h-1.0zM3.0 63.9h1.0v2.2732371496061674h-1.0zM3.0 60.1h1.0v2.482449695574493h-1.0zM3.0 65.0h1.0v2.6699542360591093h-1.0zM4.0 62.5h1.0v1.89713533757577h-1.0zM4.0 62.4h1.0v2.042628688513516h-1.0zM5.0 61.6h1.0v1.790467419019214h-1.0zM5.0 61.2h1.0v1.8065600449143346h-1.0zM6.0 62.4h1.0v1.5320950114828675h-1.0zM6.0 63.1h1.0v2.474512004510746h-1.0zM7.0 60.3h1.0v1.5926329306436569h-1.0zM7.0 60.3h1.0v2.2775230690545554h-1.0zM8.0 62.1h1.0v1.6096811504590116h-1.0zM8.0 60.7h1.0v2.6653988862907134h-1.0zM9.0 61.3h1.0v2.0765168368611246h-1.0zM10.0 62.4h1.0v1.6938371998429933h-1.0zM10.0 60.7h1.0v2.4430066455715007h-1.0zM11.0 62.0h1.0v1.5213826939916923h-1.0zM12.0 60.5h1.0v2.37837492627245h-1.0zM12.0 58.3h1.0v2.646467018792049h-1.0zM12.0 62.1h1.0v2.5862336600427387h-1.0zM12.0 60.9h1.0v1.717128318292514h-1.0zM13.0 61.0h1.0v2.3027997213446563h-1.0zM13.0 58.6h1.0v2.2889852270415094h-1.0zM14.0 59.4h1.0v2.989950610998976h-1.0zM15.0 62.2h1.0v1.5175824266102151h-1.0zM16.0 65.1h1.0v2.3238422222819457h-1.0zM16.0 58.5h1.0v1.6208653455541584h-1.0zM16.0 62.5h1.0v2.228362620424221h-1.0zM16.0 62.6h1.0v1.8836141683798189h-1.0zM17.0 62.0h1.0v2.052458002325418h-1.0zM17.0 61.4h1.0v2.120825358619994h-1.0zM18.0 61.3h1.0v1.7281023583080501h-1.0zM18.0 59.6h1.0v1.66333562070307h-1.0zM19.0 60.2h1.0v1.791172837819646h-1.0zM20.0 60.6h1.0v1.5354430784372952h-1.0zM20.0 61.5h1.0v2.1744629468564027h-1.0zM21.0 59.1h1.0v1.7935737487604586h-1.0zM22.0 60.0h1.0v2.7038524850948478h-1.0zM22.0 57.6h1.0v2.3935754755029253h-1.0zM23.0 60.3h1.0v2.0594565561494584h-1.0zM23.0 61.0h1.0v1.7299832993897135h-1.0zM24.0 61.5h1.0v1.6586700935377623h-1.0zM26.0 63.3h1.0v1.5800618224700322h-1.0zM26.0 60.6h1.0v2.081842773627055h-1.0zM26.0 58.4h1.0v2.43157963161712h-1.0zM26.0 57.9h1.0v1.5625688664586719h-1.0zM27.0 61.7h1.0v2.7034230020862124h-1.0zM28.0 59.8h1.0v1.9857585120559174h-1.0zM28.0 62.9h1.0v2.3878316498868277h-1.0zM28.0 60.9h1.0v2.1051981765169203h-1.0zM29.0 60.6h1.0v1.8450709526623346h-1.0zM29.0 60.3h1.0v1.9651086625371632h-1.0zM30.0 61.2h1.0v2.702254160235691h-1.0zM30.0 60.9h1.0v2.3920863976210813h-1.0zM31.0 59.9h1.0v2.4389457223768245h-1.0zM31.0 62.4h1.0v1.8921401116881147h-1.0zM31.0 62.8h1.0v2.6244810923022577h-1.0zM32.0 62.9h1.0v2.861352591051846h-1.0zM32.0 66.0h1.0v2.7622810115554937h-1.0zM32.0 58.3h1.0v2.2042394184187857h-1.0zM32.0 59.7h1.0v2.155821013700551h-1.0zM33.0 58.3h1.0v2.8195719108111295h-1.0zM33.0 60.7h1.0v1.5507909361395256h-1.0zM34.0 59.5h1.0v2.1540862284745916h-1.0zM34.0 61.1h1.0v2.9507342855771816h-1.0zM35.0 63.9h1.0v1.6903207845785981h-1.0zM35.0 57.7h1.0v2.372371621355342h-1.0zM35.0 63.2h1.0v2.493150266487926h-1.0zM36.0 61.1h1.0v2.5401590267842877h-1.0zM37.0 60.6h1.0v2.7878062472791747h-1.0zM38.0 63.0h1.0v2.873153490057741h-1.0zM39.0 58.9h1.0v2.4559517884860353h-1.0zM39.0 64.5h1.0v1.5855943085843316h-1.0zM40.0 59.1h1.0v2.5026868868802783h-1.0zM40.0 61.9h1.0v1.796055765760633h-1.0zM40.0 60.9h1.0v2.824023710008494h-1.0zM42.0 64.9h1.0v2.0983175120056776h-1.0zM42.0 62.7h1.0v2.413028427578329h-1.0zM42.0 65.2h1.0v1.5902231610085105h-1.0zM43.0 60.0h1.0v2.1460125956647023h-1.0zM43.0 57.1h1.0v2.2466476138775127h-1.0zM43.0 59.9h1.0v2.989689364333295h-1.0zM44.0 62.0h1.0v2.661034625924101h-1.0zM44.0 59.9h1.0v2.442934731664012h-1.0zM45.0 59.8h1.0v1.919860650531625h-1.0zM45.0 60.5h1.0v2.8043373183066733h-1.0zM46.0 61.7h1.0v1.8006458221490327h-1.0zM46.0 62.3h1.0v2.4103473058815377h-1.0zM46.0 60.4h1.0v2.0932438760845686h-1.0zM47.0 59.9h1.0v1.920822115832457h-1.0zM47.0 61.5h1.0v2.9856069632333204h-1.0zM47.0 61.1h1.0v2.229473295659322h-1.0zM49.0 63.5h1.0v2.059643155582706h-1.0zM50.0 58.8h1.0v1.7300535475308645h-1.0zM50.0 61.6h1.0v1.585279389817276h-1.0zM51.0 61.8h1.0v2.6556686151447177h-1.0zM51.0 62.0h1.0v1.7634412407507543h-1.0zM53.0 61.6h1.0v1.7208308018979683h-1.0zM54.0 64.4h1.0v2.905402058218397h-1.0zM55.0 60.9h1.0v2.1812120520690748h-1.0zM55.0 59.4h1.0v2.3552688496740464h-1.0zM55.0 59.1h1.0v2.0502206287631775h-1.0zM56.0 61.6h1.0v2.4865774072187046h-1.0zM56.0 62.4h1.0v2.28139381734841h-1.0zM57.0 59.5h1.0v2.0860266781537415h-1.0zM57.0 58.6h1.0v1.5101429945276446h-1.0zM58.0 59.5h1.0v2.921849895384679h-1.0zM58.0 62.6h1.0v2.101340517199073h-1.0zM59.0 61.4h1.0v2.029776352307204h-1.0zM59.0 60.6h1.0v1.9601106797602528h-1.0zM60.0 61.2h1.0v1.5187368804726518h-1.0zM60.0 60.3h1.0v1.9842329190365278h-1.0zM60.0 61.1h1.0v1.5493355944746365h-1.0zM60.0 62.6h1.0v1.6491835809423858h-1.0zM63.0 64.0h1.0v1.6891988644394742h-1.0zM63.0 62.1h1.0v2.6624952103350497h-1.0zM64.0 62.8h1.0v2.3285164867816524h-1.0zM64.0 59.7h1.0v2.24683766122871h-1.0zM64.0 58.7h1.0v2.751411860030558h-1.0zM65.0 65.0h1.0v2.5374307986692495h-1.0zM65.0 59.6h1.0v2.4389230398771957h-1.0zM65.0 57.5h1.0v1.5814509057617336h-1.0zM66.0 60.7h1.0v2.5615729891719825h-1.0zM67.0 59.3h1.0v2.9028732523021312h-1.0zM67.0 58.8h1.0v2.549044146218286h-1.0zM68.0 63.8h1.0v2.8816162662923444h-1.0zM68.0 60.2h1.0v2.9934502389234177h-1.0zM68.0 60.6h1.0v1.7074503314851415h-1.0zM69.0 61.9h1.0v2.203256686237177h-1.0zM69.0 60.0h1.0v2.9569437340054137h-1.0zM70.0 60.2h1.0v2.505358315090189h-1.0zM70.0 60.0h1.0v2.2339158567822377h-1.0zM71.0 62.9h1.0v2.3444388931398574h-1.0zM72.0 59.8h1.0v2.810617007544225h-1.0zM72.0 60.2h1.0v2.8131049862160884h-1.0zM73.0 61.0h1.0v2.412997015327753h-1.0zM74.0 58.6h1.0v2.8092928217806685h-1.0zM76.0 64.6h1.0v2.107976771255434h-1.0zM76.0 59.8h1.0v1.630797069068751h-1.0zM77.0 63.8h1.0v2.6449627991575744h-1.0zM77.0 59.1h1.0v2.0437482090733177h-1.0zM78.0 60.6h1.0v1.5981583648184507h-1.0zM79.0 61.1h1.0v1.7423965631399474h-1.0zM80.0 60.3h1.0v1.556811010109243h-1.0zM80.0 58.8h1.0v2.54763581720965h-1.0zM81.0 59.6h1.0v2.3232150561819163h-1.0zM81.0 58.9h1.0v2.115559682052896h-1.0zM82.0 58.5h1.0v2.210205224300248h-1.0zM82.0 61.7h1.0v2.7802091256224477h-1.0zM82.0 59.6h1.0v2.0698391076300426h-1.0zM82.0 61.6h1.0v2.4192206523522843h-1.0zM83.0 59.6h1.0v1.7665703219234108h-1.0zM83.0 60.4h1.0v2.0471614341063047h-1.0zM83.0 59.1h1.0v2.704819573341896h-1.0zM85.0 61.1h1.0v1.661712947407103h-1.0zM85.0 62.7h1.0v2.236905222407891h-1.0zM86.0 60.2h1.0v2.0755863441715823h-1.0zM86.0 60.9h1.0v2.7883174750817155h-1.0zM87.0 61.5h1.0v2.5658342042121816h-1.0zM88.0 62.0h1.0v2.1220367166076155h-1.0zM88.0 56.2h1.0v2.750343027609473h-1.0zM89.0 64.3h1.0v2.9941928460015967h-1.0zM90.0 59.7h1.0v2.713514708758419h-1.0zM91.0 60.5h1.0v2.8626031865166617h-1.0zM91.0 57.5h1.0v2.3556173914403065h-1.0zM93.0 59.2h1.0v1.7024120121371655h-1.0zM93.0 65.0h1.0v2.6174440212490397h-1.0zM93.0 58.8h1.0v2.906422688113422h-1.0zM93.0 62.9h1.0v1.9484569849225646h-1.0zM95.0 58.3h1.0v2.604878496590673h-1.0zM95.0 59.8h1.0v1.6513607761023978h-1.0zM96.0 60.2h1.0v2.593292205859818h-1.0zM97.0 60.2h1.0v1.7432243374139238h-1.0zM97.0 58.0h1.0v2.8613825446385466h-1.0zM98.0 60.8h1.0v1.5619952104858696h-1.0zM99.0 58.6h1.0v1.8209054832203981h-1.0zM100.0 60.2h1.0v2.9659077314179547h-1.0zM101.0 59.1h1.0v2.953774336904305h-1.0zM102.0 65.0h1.0v2.582979180820669h-1.0zM102.0 61.3h1.0v2.306604246763043h-1.0zM103.0 57.1h1.0v2.9179688485149544h-1.0zM103.0 60.4h1.0v2.833531352574023h-1.0zM104.0 61.8h1.0v2.4778543115358325h-1.0zM104.0 60.1h1.0v2.9848867607093137h-1.0zM104.0 60.6h1.0v1.5073497711752095h-1.0zM105.0 61.5h1.0v1.780406256875989h-1.0zM105.0 61.2h1.0v2.2537127311709204h-1.0zM105.0 58.3h1.0v2.3062435993286394h-1.0zM106.0 61.9h1.0v1.7217344920426894h-1.0zM107.0 60.6h1.0v2.1643193494111475h-1.0zM107.0 63.5h1.0v2.0110692035121485h-1.0zM108.0 62.2h1.0v2.156988072554799h-1.0zM108.0 60.9h1.0v1.7496499757167445h-1.0zM110.0 60.3h1.0v1.707539793506755h-1.0zM111.0 62.5h1.0v2.9048824795173176h-1.0zM112.0 58.5h1.0v2.853999797528304h-1.0zM112.0 58.4h1.0v2.205455478507074h-1.0zM112.0 63.8h1.0v2.6588454935587427h-1.0zM112.0 61.6h1.0v2.4073926859270633h-1.0zM113.0 61.4h1.0v2.0605686028858967h-1.0zM113.0 62.2h1.0v2.1195840873047898h-1.0zM114.0 59.1h1.0v2.113394963590549h-1.0zM115.0 62.0h1.0v1.7722881904927577h-1.0zM115.0 63.8h1.0v2.1180618520781564h-1.0zM115.0 59.3h1.0v2.641171079603465h-1.0zM116.0 62.8h1.0v2.8268428378493278h-1.0zM116.0 58.8h1.0v1.9980542686986835h-1.0zM116.0 61.4h1.0v2.033521473539291h-1.0zM116.0 61.1h1.0v2.717052815277549h-1.0zM116.0 59.3h1.0v1.5264200792809905h-1.0zM117.0 62.1h1.0v2.0030354157836974h-1.0zM119.0 61.5h1.0v2.7404871661674095h-1.0zM119.0 64.4h1.0v2.5218009348069446h-1.0zM119.0 61.5h1.0v1.9731826021102354h-1.0zM119.0 59.3h1.0v1.9595733924469707h-1.0zM120.0 62.9h1.0v2.5577484075539183h-1.0zM120.0 60.2h1.0v2.1702670430364663h-1.0zM120.0 63.7h1.0v2.9151104976570723h-1.0zM121.0 58.6h1.0v1.637528917859147h-1.0zM121.0 61.7h1.0v2.9096674459995273h-1.0zM121.0 62.9h1.0v2.9345962239610737h-1.0zM121.0 59.9h1.0v2.681089574057259h-1.0zM122.0 62.7h1.0v1.9523526099471293h-1.0zM122.0 62.6h1.0v1.5188866396568792h-1.0zM123.0 64.2h1.0v2.78576350515616h-1.0zM123.0 62.7h1.0v2.866618216574202h-1.0zM124.0 63.6h1.0v2.7948103300279845h-1.0zM125.0 61.0h1.0v1.526321544239594h-1.0zM126.0 60.9h1.0v2.964039552049832h-1.0zM126.0 60.4h1.0v2.5681292630080987h-1.0zM127.0 62.7h1.0v1.965057561121073h-1.0zM127.0 61.9h1.0v2.1597387131530734h-1.0zM128.0 58.9h1.0v2.385037372687024h-1.0zM128.0 61.7h1.0v1.7346059555119624h-1.0zM130.0 61.9h1.0v1.7713861338509382h-1.0zM130.0 61.6h1.0v2.992339976205942h-1.0zM131.0 61.1h1.0v2.2504669480256076h-1.0zM131.0 59.6h1.0v2.9332521399118097h-1.0zM132.0 62.0h1.0v2.1626967327586457h-1.0zM133.0 59.9h1.0v2.402881052214115h-1.0zM134.0 64.1h1.0v2.5229931443234896h-1.0zM134.0 59.1h1.0v2.0753081094328287h-1.0zM134.0 61.9h1.0v1.740746537454339h-1.0zM135.0 63.0h1.0v2.4442204576299553h-1.0zM135.0 56.4h1.0v2.924099742578986h-1.0zM136.0 66.4h1.0v1.9694997433038104h-1.0zM136.0 60.2h1.0v2.025040893657465h-1.0zM137.0 62.0h1.0v1.7400532399410538h-1.0zM139.0 60.5h1.0v2.111928050456312h-1.0zM140.0 58.2h1.0v2.0219619330452465h-1.0zM141.0 59.2h1.0v2.0605505073972052h-1.0zM141.0 59.0h1.0v2.128171299730271h-1.0zM142.0 59.6h1.0v2.481886633504831h-1.0zM142.0 60.9h1.0v1.525138895282066h-1.0zM142.0 59.2h1.0v2.4125108814773037h-1.0zM143.0 60.0h1.0v2.6762987603394013h-1.0zM144.0 62.9h1.0v2.274041250099214h-1.0zM145.0 61.2h1.0v1.9339341996511459h-1.0zM146.0 60.0h1.0v1.7584631792079275h-1.0zM147.0 57.6h1.0v2.574798853882172h-1.0zM147.0 60.2h1.0v1.9630119983219962h-1.0zM147.0 60.3h1.0v1.8016858683472947h-1.0zM147.0 62.1h1.0v2.7502203832066274h-1.0zM149.0 60.5h1.0v2.6303256351426043h-1.0zM149.0 61.0h1.0v2.695332648708643h-1.0zM149.0 60.1h1.0v2.0211515966382683h-1.0zM150.0 60.0h1.0v2.679547145636901h-1.0zM151.0 64.4h1.0v2.4456301636278033h-1.0zM151.0 56.3h1.0v1.8423923619780782h-1.0zM153.0 61.9h1.0v1.5199262342476643h-1.0zM153.0 60.3h1.0v1.8068675787305741h-1.0zM154.0 63.6h1.0v2.278628443427163h-1.0zM155.0 60.3h1.0v2.107622190954631h-1.0zM156.0 59.3h1.0v1.934103181808966h-1.0zM156.0 61.6h1.0v2.325671936662659h-1.0zM157.0 58.6h1.0v2.040543764000159h-1.0zM157.0 60.0h1.0v2.1938305218591845h-1.0zM157.0 60.5h1.0v2.213460407875554h-1.0zM158.0 57.6h1.0v2.766970770946447h-1.0zM158.0 61.4h1.0v2.8382181439696885h-1.0zM159.0 59.1h1.0v2.1292672743871948h-1.0zM159.0 59.7h1.0v1.5877340999123069h-1.0zM159.0 61.2h1.0v2.4430043925830978h-1.0zM160.0 59.4h1.0v2.8969615430733873h-1.0zM160.0 59.7h1.0v2.2006395059784025h-1.0zM160.0 61.9h1.0v1.8723417491790217h-1.0zM162.0 61.0h1.0v1.6736938737154468h-1.0zM163.0 63.5h1.0v1.5463323992903553h-1.0zM163.0 62.3h1.0v2.618455373176525h-1.0zM163.0 58.3h1.0v1.9882366129891145h-1.0zM164.0 60.1h1.0v2.7022172710995336h-1.0zM165.0 59.3h1.0v2.8800475646363335h-1.0zM167.0 61.6h1.0v1.9316068356359632h-1.0zM167.0 55.8h1.0v1.5375194580253255h-1.0zM168.0 61.3h1.0v2.4917337002345166h-1.0zM170.0 59.7h1.0v1.812659558539369h-1.0zM170.0 58.0h1.0v2.3837962695800288h-1.0zM170.0 59.5h1.0v2.0824122573850055h-1.0zM171.0 60.5h1.0v2.0227173073077864h-1.0zM171.0 62.5h1.0v1.6751507115379107h-1.0zM171.0 59.9h1.0v2.1202187493821394h-1.0zM172.0 61.4h1.0v1.9575401361967868h-1.0zM173.0 63.6h1.0v1.78150792842881h-1.0zM173.0 61.7h1.0v1.723367231113351h-1.0zM173.0 64.8h1.0v2.4470489780938323h-1.0zM174.0 58.2h1.0v1.5650343294859286h-1.0zM174.0 57.4h1.0v1.9517296718248445h-1.0zM175.0 60.9h1.0v1.719744768305426h-1.0zM175.0 59.6h1.0v2.4972217940690933h-1.0zM175.0 63.3h1.0v2.152118497555767h-1.0zM175.0 67.5h1.0v1.6565712299018966h-1.0zM176.0 62.5h1.0v2.226536794038503h-1.0zM176.0 57.9h1.0v2.6258519224350554h-1.0zM178.0 64.6h1.0v1.6715529302081666h-1.0zM178.0 60.9h1.0v2.7134219979317566h-1.0zM178.0 60.3h1.0v2.369953678624565h-1.0zM179.0 63.0h1.0v1.8819951107222068h-1.0zM180.0 58.3h1.0v1.7060745452763366h-1.0zM180.0 60.8h1.0v2.0043828783718194h-1.0zM180.0 61.2h1.0v2.510500550763034h-1.0zM181.0 60.9h1.0v1.6759154654774444h-1.0zM181.0 64.9h1.0v2.6696522350208887h-1.0zM181.0 60.7h1.0v1.7983052278157756h-1.0zM182.0 60.5h1.0v2.051691988637372h-1.0zM182.0 60.8h1.0v2.2145355992297686h-1.0zM182.0 62.7h1.0v1.714634981293244h-1.0zM183.0 60.3h1.0v2.2939319386682993h-1.0zM183.0 64.7h1.0v2.8811998787671946h-1.0zM183.0 59.4h1.0v2.3310929773847753h-1.0zM184.0 60.9h1.0v2.029863793900904h-1.0zM184.0 56.9h1.0v2.2959482565934874h-1.0zM184.0 58.6h1.0v2.540691780244084h-1.0zM185.0 62.4h1.0v2.85112903743004h-1.0zM186.0 59.4h1.0v2.167088503862531h-1.0zM186.0 58.6h1.0v2.757339934016658h-1.0zM186.0 63.4h1.0v2.2954655394265977h-1.0zM186.0 59.9h1.0v2.0202003511014475h-1.0zM187.0 59.3h1.0v2.6406671598719544h-1.0zM187.0 61.6h1.0v2.4544758892806757h-1.0zM188.0 60.2h1.0v2.2999917409992507h-1.0zM189.0 62.3h1.0v2.937099114931999h-1.0zM189.0 60.9h1.0v2.9546970223482156h-1.0zM189.0 59.4h1.0v2.2777878233059803h-1.0zM191.0 57.1h1.0v2.058692427978717h-1.0zM191.0 58.8h1.0v1.8716881921038957h-1.0zM192.0 59.7h1.0v2.976330427743286h-1.0zM192.0 56.7h1.0v2.036707918898502h-1.0zM192.0 65.1h1.0v2.6163579100610037h-1.0zM193.0 58.4h1.0v2.356701339786122h-1.0zM193.0 58.9h1.0v2.785245885457006h-1.0zM194.0 62.8h1.0v2.018690445664211h-1.0zM194.0 65.8h1.0v2.2441882252602565h-1.0zM194.0 61.2h1.0v2.1201537050980503h-1.0zM195.0 61.6h1.0v1.9523609419495584h-1.0zM195.0 59.7h1.0v2.685608142450563h-1.0zM196.0 62.4h1.0v1.9629435621751814h-1.0zM196.0 60.5h1.0v2.2076521492439687h-1.0zM197.0 59.2h1.0v2.2870211762932504h-1.0zM198.0 58.7h1.0v2.34786973249002h-1.0zM198.0 63.3h1.0v2.310353781999665h-1.0zM198.0 64.4h1.0v2.307996365164531h-1.0zM200.0 58.9h1.0v2.535107117548324h-1.0zM200.0 59.0h1.0v1.9254492935825884h-1.0zM201.0 63.7h1.0v2.3607308920176364h-1.0zM201.0 62.9h1.0v2.0964029237267914h-1.0zM201.0 63.8h1.0v2.263449343088096h-1.0zM203.0 61.5h1.0v2.7456266767635658h-1.0zM203.0 62.0h1.0v1.8951350367989124h-1.0zM205.0 60.5h1.0v2.2650754343246193h-1.0zM206.0 59.3h1.0v2.886408364230876h-1.0zM206.0 62.1h1.0v2.4353346640556257h-1.0z"/><line x1="0.5" y1="0" x2="0.5" y2="81" stroke="#8a9098" stroke-width="1"/><line x1="0" y1="80.5" x2="206.3" y2="80.5" stroke="#a3a8ae" stroke-width="1"/><line x1="0" y1="35.8" x2="206.3" y2="35.8" stroke="#f2ae74" stroke-width="1"/><line x1="164" y1="0" x2="164" y2="80" stroke="#f2ae74" stroke-width="1"/><circle cx="164" cy="35.8" r="3" fill="#fff" stroke="#ee9b3e" stroke-width="1.3"/></svg>
<div class="t m" style="left:804.9px;top:235.9px;font-size:10.5px;color:#3b4350">Fields</div>
<div class="t" style="left:849.9px;top:235.9px;font-size:10.6px;color:#3b4350"><span class="m">Span events</span> <span style="font-size:8.4px;color:#6a7079;position:relative;top:-0.8px">(0)</span></div>
<div class="t" style="left:938.5px;top:235.9px;font-size:10.6px;color:#3b4350"><span class="m">Links</span> <span style="font-size:8.4px;color:#6a7079;position:relative;top:-0.8px">(0)</span></div>
<div class="a" style="left:802px;top:255px;width:222px;height:1px;background:#e4e7eb"></div>
<div class="a" style="left:802px;top:254.4px;width:40px;height:1.8px;background:#5a9bd5"></div>
<div class="btn" style="left:802px;top:262.7px;width:207.4px;height:23.5px;border-color:#dfe3e8"></div>
<div class="t" style="left:808px;top:269.8px;font-size:9.44px;color:#6b7179">Filter fields and values in span</div>
<div class="a" style="left:804.2px;top:311.20px;width:16.7px;height:8px;border:1px solid #6e747c;border-radius:1.5px;font-size:5.6px;line-height:6px;text-align:center;color:#8a9097;font-style:italic">str</div>
<div class="t" style="left:824px;top:309.10px;font-size:8.35px;color:#4a5059">Timestamp</div>
<div class="t" style="left:804.6px;top:327.70px;font-size:9.46px;color:#323a45">2022-08-15T11:59:51.155244955Z</div>
<div class="a" style="left:993.00px;top:315.00px;width:2.4px;height:2.4px;border-radius:50%;background:#8a9098"></div>
<div class="a" style="left:998.30px;top:315.00px;width:2.4px;height:2.4px;border-radius:50%;background:#8a9098"></div>
<div class="a" style="left:1003.60px;top:315.00px;width:2.4px;height:2.4px;border-radius:50%;background:#8a9098"></div>
<div class="a" style="left:804.2px;top:349.80px;width:16.7px;height:8px;border:1px solid #6e747c;border-radius:1.5px;font-size:5.6px;line-height:6px;text-align:center;color:#8a9097;font-style:italic">flt</div>
<div class="t" style="left:824px;top:347.70px;font-size:8.35px;color:#4a5059">cart_total</div>
<div class="t" style="left:804.6px;top:366.30px;font-size:9.46px;color:#323a45">98.16</div>
<div class="a" style="left:993.00px;top:353.60px;width:2.4px;height:2.4px;border-radius:50%;background:#8a9098"></div>
<div class="a" style="left:998.30px;top:353.60px;width:2.4px;height:2.4px;border-radius:50%;background:#8a9098"></div>
<div class="a" style="left:1003.60px;top:353.60px;width:2.4px;height:2.4px;border-radius:50%;background:#8a9098"></div>
<div class="a" style="left:804.2px;top:388.40px;width:16.7px;height:8px;border:1px solid #6e747c;border-radius:1.5px;font-size:5.6px;line-height:6px;text-align:center;color:#8a9097;font-style:italic">flt</div>
<div class="t" style="left:824px;top:386.30px;font-size:8.35px;color:#4a5059">duration_ms</div>
<div class="t" style="left:804.6px;top:404.90px;font-size:9.46px;color:#323a45">1989.787582</div>
<div class="a" style="left:993.00px;top:392.20px;width:2.4px;height:2.4px;border-radius:50%;background:#8a9098"></div>
<div class="a" style="left:998.30px;top:392.20px;width:2.4px;height:2.4px;border-radius:50%;background:#8a9098"></div>
<div class="a" style="left:1003.60px;top:392.20px;width:2.4px;height:2.4px;border-radius:50%;background:#8a9098"></div>
<div class="a" style="left:804.2px;top:427.00px;width:16.7px;height:8px;border:1px solid #6e747c;border-radius:1.5px;font-size:5.6px;line-height:6px;text-align:center;color:#8a9097;font-style:italic">str</div>
<div class="t" style="left:824px;top:424.90px;font-size:8.35px;color:#4a5059">http.flavor</div>
<div class="t" style="left:804.6px;top:443.50px;font-size:9.46px;color:#323a45">1.1</div>
<div class="a" style="left:993.00px;top:430.80px;width:2.4px;height:2.4px;border-radius:50%;background:#8a9098"></div>
<div class="a" style="left:998.30px;top:430.80px;width:2.4px;height:2.4px;border-radius:50%;background:#8a9098"></div>
<div class="a" style="left:1003.60px;top:430.80px;width:2.4px;height:2.4px;border-radius:50%;background:#8a9098"></div>
<div class="a" style="left:804.2px;top:465.60px;width:16.7px;height:8px;border:1px solid #6e747c;border-radius:1.5px;font-size:5.6px;line-height:6px;text-align:center;color:#8a9097;font-style:italic">str</div>
<div class="t" style="left:824px;top:463.50px;font-size:8.35px;color:#4a5059">http.host</div>
<div class="t" style="left:804.6px;top:482.10px;font-size:9.46px;color:#323a45">frontend</div>
<div class="a" style="left:993.00px;top:469.40px;width:2.4px;height:2.4px;border-radius:50%;background:#8a9098"></div>
<div class="a" style="left:998.30px;top:469.40px;width:2.4px;height:2.4px;border-radius:50%;background:#8a9098"></div>
<div class="a" style="left:1003.60px;top:469.40px;width:2.4px;height:2.4px;border-radius:50%;background:#8a9098"></div>
<div class="a" style="left:993.00px;top:508.00px;width:2.4px;height:2.4px;border-radius:50%;background:#8a9098"></div>
<div class="a" style="left:998.30px;top:508.00px;width:2.4px;height:2.4px;border-radius:50%;background:#8a9098"></div>
<div class="a" style="left:1003.60px;top:508.00px;width:2.4px;height:2.4px;border-radius:50%;background:#8a9098"></div>
<div class="a" style="left:993.00px;top:546.60px;width:2.4px;height:2.4px;border-radius:50%;background:#8a9098"></div>
<div class="a" style="left:998.30px;top:546.60px;width:2.4px;height:2.4px;border-radius:50%;background:#8a9098"></div>
<div class="a" style="left:1003.60px;top:546.60px;width:2.4px;height:2.4px;border-radius:50%;background:#8a9098"></div>
<div class="a" style="left:1015.5px;top:300px;width:8.5px;height:263px;background:#f8f9fa"></div>
<div class="a" style="left:1018.5px;top:303.8px;width:4.8px;height:42px;background:#bfc2c5;border-radius:2.4px"></div>
<div class="a" style="left:54.2px;top:354.9px;width:622px;height:36.1px;border:5.8px solid #74b83e"></div>
<div class="a" style="left:43.9px;top:529.9px;width:39.7px;height:39.7px;border-radius:50%;background:#1b6ec6;box-shadow:0 1px 6px rgba(0,0,0,0.18)"></div>
<svg class="a" style="left:53px;top:538px" width="22" height="23" viewBox="0 0 22 23"><path d="M3 1.5H19A1.8 1.8 0 0 1 20.8 3.3V21.5L16.5 18.5H3A1.8 1.8 0 0 1 1.2 16.7V3.3A1.8 1.8 0 0 1 3 1.5Z" fill="#fff"/><path d="M5 12.3Q11 16.2 17 12.3" stroke="#1b6ec6" stroke-width="1.4" fill="none" stroke-linecap="round"/></svg>
<div class="a" style="left:654px;top:502.6px;width:338.7px;height:100px;border-radius:13px;background:linear-gradient(90deg,#0b72cf 0%,#0a63c0 50%,#0a4faa 100%);box-shadow:-1px 0 6px rgba(0,0,0,0.15)"></div>
<svg class="a" style="left:671px;top:516px" width="19" height="19" viewBox="0 0 19 19"><g stroke="#d6e6f7" stroke-width="1.1" fill="none"><path d="M9.5 2V17M2 9.5H17"/><path d="M7.3 4.2L9.5 2L11.7 4.2M7.3 14.8L9.5 17L11.7 14.8M4.2 7.3L2 9.5L4.2 11.7M14.8 7.3L17 9.5L14.8 11.7"/></g><rect x="7.5" y="7.5" width="4" height="4" fill="#0b70cd"/></svg>
<div class="t" style="left:747px;top:519.4px;font-size:11.33px;font-weight:bold;color:#fff">Analyze and Debug an Issue</div>
<svg class="a" style="left:959.3px;top:518.8px" width="14.5" height="14" viewBox="0 0 14.5 14"><rect x="0.6" y="0.6" width="13.3" height="12.8" rx="1" fill="none" stroke="#e6effa" stroke-width="1.1"/><path d="M7.25 3.5V10.5M3.8 7H10.7" stroke="#fff" stroke-width="1.2"/></svg>
<div class="t" style="left:671.3px;top:543.5px;font-size:8.12px;color:#e8f0fa">This is a public demo of Honeycomb <span style="text-decoration:underline">Learn more about Honeycomb Tracing</span></div>
<svg class="a" style="left:676.0px;top:560.5px" width="14" height="14" viewBox="0 0 14 14"><circle cx="7" cy="7" r="5.8" fill="none" stroke="#d9e7f7" stroke-width="1.1"/><path d="M4.2 7.2L6.2 9.1L9.9 5.2" stroke="#e6effa" stroke-width="1.2" fill="none"/></svg>
<svg class="a" style="left:701.0px;top:560.5px" width="14" height="14" viewBox="0 0 14 14"><circle cx="7" cy="7" r="5.8" fill="none" stroke="#d9e7f7" stroke-width="1.1"/><path d="M4.2 7.2L6.2 9.1L9.9 5.2" stroke="#e6effa" stroke-width="1.2" fill="none"/></svg>
<svg class="a" style="left:726.0px;top:560.5px" width="14" height="14" viewBox="0 0 14 14"><circle cx="7" cy="7" r="5.8" fill="none" stroke="#d9e7f7" stroke-width="1.1"/><path d="M4.2 7.2L6.2 9.1L9.9 5.2" stroke="#e6effa" stroke-width="1.2" fill="none"/></svg>
<svg class="a" style="left:751.0px;top:560.5px" width="14" height="14" viewBox="0 0 14 14"><circle cx="7" cy="7" r="5.8" fill="none" stroke="#d9e7f7" stroke-width="1.1"/><path d="M4.2 7.2L6.2 9.1L9.9 5.2" stroke="#e6effa" stroke-width="1.2" fill="none"/></svg>
<svg class="a" style="left:776.0px;top:560.5px" width="14" height="14" viewBox="0 0 14 14"><circle cx="7" cy="7" r="5.8" fill="none" stroke="#d9e7f7" stroke-width="1.1"/><path d="M4.2 7.2L6.2 9.1L9.9 5.2" stroke="#e6effa" stroke-width="1.2" fill="none"/></svg>
<svg class="a" style="left:801.0px;top:560.5px" width="14" height="14" viewBox="0 0 14 14"><circle cx="7" cy="7" r="5.8" fill="none" stroke="#d9e7f7" stroke-width="1.1"/><path d="M4.2 7.2L6.2 9.1L9.9 5.2" stroke="#e6effa" stroke-width="1.2" fill="none"/></svg>
<svg class="a" style="left:826.0px;top:560.5px" width="14" height="14" viewBox="0 0 14 14"><circle cx="7" cy="7" r="5.2" fill="none" stroke="#fff" stroke-width="2.3"/></svg>
<svg class="a" style="left:851.0px;top:560.5px" width="14" height="14" viewBox="0 0 14 14"><circle cx="7" cy="7" r="5.8" fill="none" stroke="#c7dcf3" stroke-width="1.1"/></svg>
<svg class="a" style="left:876.0px;top:560.5px" width="14" height="14" viewBox="0 0 14 14"><circle cx="7" cy="7" r="5.8" fill="none" stroke="#c7dcf3" stroke-width="1.1"/></svg>
<div class="t" style="left:903px;top:562.4px;font-size:9.57px;color:#e6effa">3 tasks pending</div>
</body></html>
